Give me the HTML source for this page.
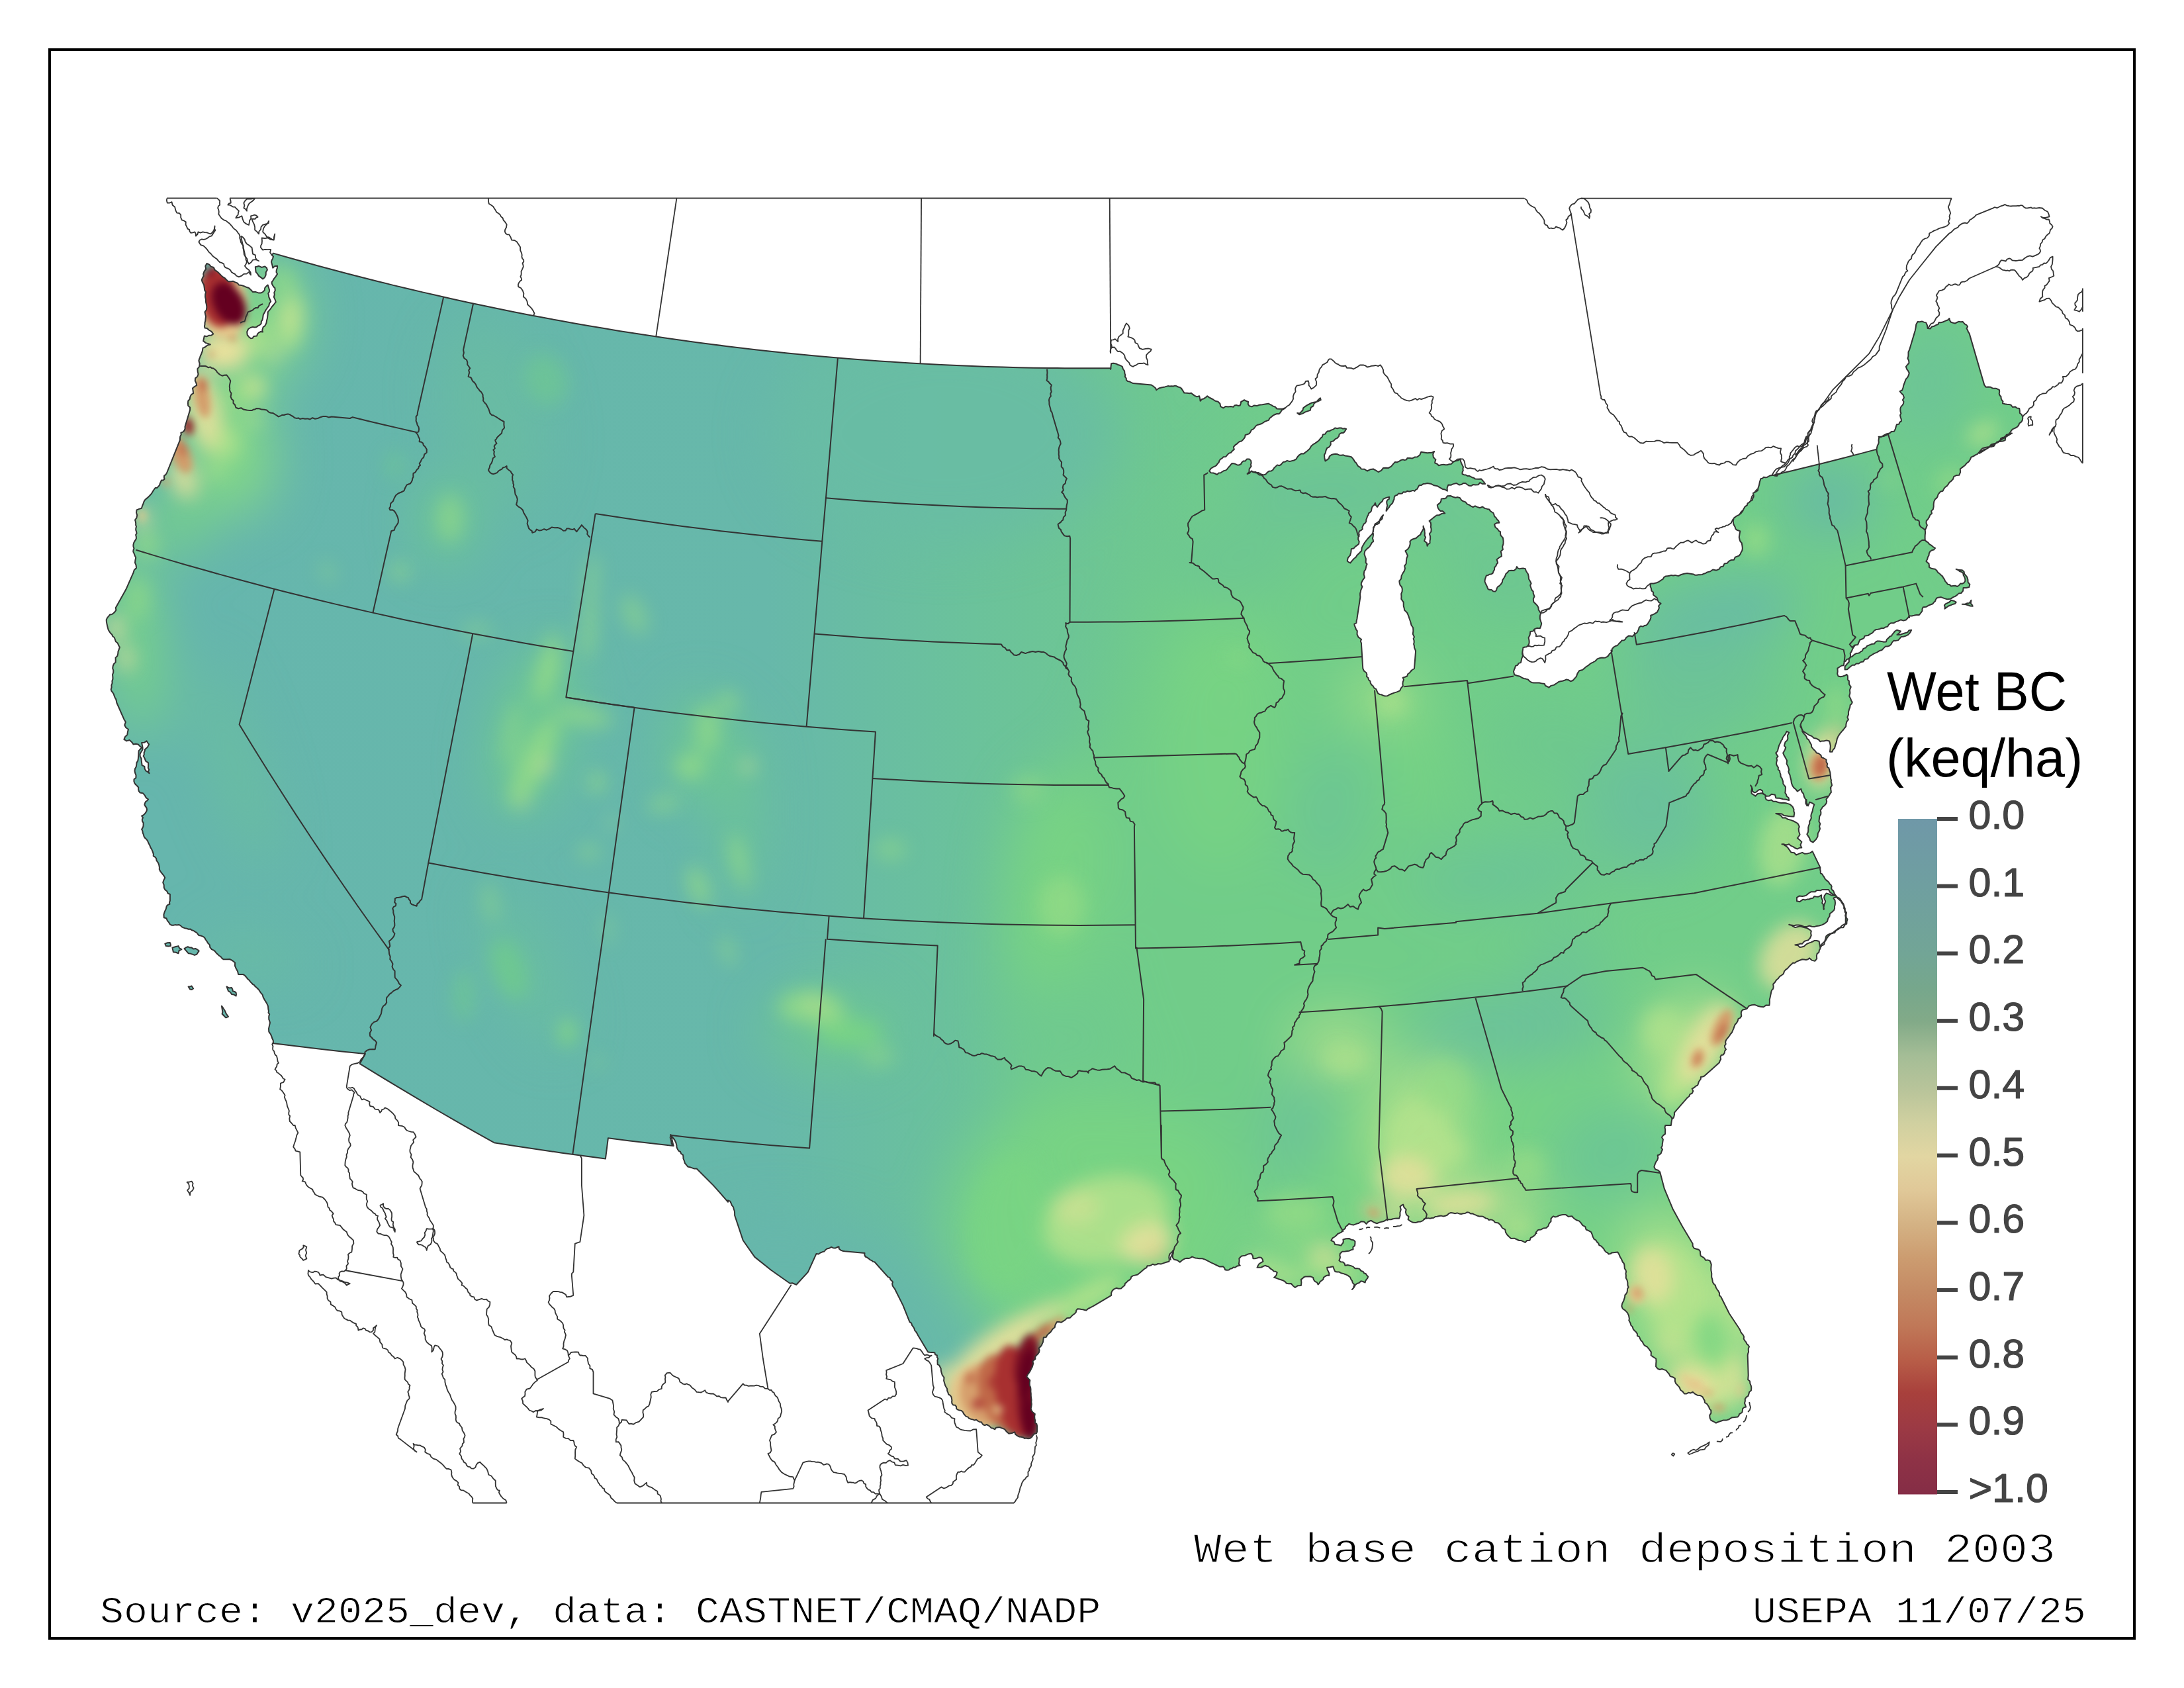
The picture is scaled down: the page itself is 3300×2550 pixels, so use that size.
<!DOCTYPE html>
<html><head><meta charset="utf-8"><title>Wet base cation deposition 2003</title><style>html,body{margin:0;padding:0;background:#fff}svg{display:block}</style></head><body>
<svg width="3300" height="2550" viewBox="0 0 3300 2550">
<defs>
<clipPath id="us"><path d="M312.5,398 L310.3,401.9 L311.2,406.4 L308.6,409.8 L307.2,413.9 L307.7,417.1 L305.9,419.8 L304.8,422.9 L305.7,426 L308.1,430.2 L308.8,435 L309.1,438.3 L311,441.1 L310.2,444.8 L310.1,448.6 L310.9,452.4 L311,456.2 L311.9,460 L312.4,463.9 L311.9,468 L309.5,471.3 L310.2,474.7 L311,478 L310.6,481.4 L310.3,484.9 L309.5,487.5 L309.5,490.1 L308.9,492.8 L309.5,495.5 L313,496 L315.5,498.5 L319.6,500.8 L322.3,504.5 L319.3,506.6 L315.5,506.8 L312.3,508.3 L308.8,507.5 L308,511.3 L307.2,515.1 L311,518.1 L314.5,519.1 L317.8,520.4 L314.1,521.2 L311,523.4 L309,524.9 L306.5,525.7 L305.8,530.3 L304.2,534.7 L303,537.2 L302.1,539.8 L301.1,542.3 L300.4,545 L301.7,549.4 L301.2,553.9 L298.4,557.1 L298.7,561.3 L299.6,565.2 L298.2,569 L295.1,571.4 L294.8,575.3 L296.4,578.6 L297.2,582.1 L293.9,584 L291,586.6 L291.7,590.4 L292.1,594.2 L289,596.1 L287.3,599.4 L286.7,603 L284.2,605.7 L284,609.3 L284.2,612.8 L287.1,615.4 L287.1,619.4 L279.5,644.5 L279.6,647.6 L278.4,650.5 L276.2,652.6 L273.4,653.7 L273.7,656.6 L272.3,659.2 L272,661.9 L272,664.7 L261.9,689.9 L251.8,715 L250.2,717.1 L248.1,718.6 L247.9,721.2 L248.5,723.7 L246.5,725.4 L243.8,725.6 L243,728 L241.8,730.2 L241.1,732.8 L239.3,734.8 L237.5,736.9 L234.6,737 L231.7,741 L229.2,745.3 L225.9,749 L222.3,752.4 L220.4,753.9 L218.6,755.7 L217.4,758 L216.6,760.4 L215.1,764 L213.9,767.8 L210.2,768.9 L206.5,770.4 L206,774.5 L207.2,778.3 L206.4,782.3 L204,785.5 L204.8,788 L205.2,790.5 L205.1,793.1 L206,795.5 L205.3,798 L205.2,800.7 L206.1,803.1 L206.5,805.7 L205.1,808.1 L205.8,810.8 L205.9,813.6 L204.6,815.9 L203.1,818.1 L202,820.5 L201.4,823.2 L201.5,825.8 L202.5,828.4 L201.5,830.9 L201.3,833.5 L202.5,835.9 L203.8,839.3 L205.2,842.7 L204.4,846.3 L204,850 L205.6,853.9 L206,858.1 L202.8,861 L201.5,865.1 L190.4,890.3 L176.3,915.5 L174.7,918.3 L175.4,921.4 L173.8,924 L171.6,926.2 L169.1,928 L166.1,928.5 L164.2,930.8 L162.2,933.1 L160.7,936.1 L160.9,939.4 L161.5,942.5 L162.2,945.7 L162.9,948.6 L163.7,951.4 L165.2,953.9 L166.9,956.4 L169.1,958.4 L170.2,961.2 L172.7,963 L173.8,965.8 L174.9,969.3 L177.8,971.5 L179.1,974.7 L180.9,977.7 L179.8,980.9 L178.5,984.2 L178.2,987.6 L177.3,991 L174.6,993.4 L174.7,997.1 L174.6,1000.6 L172,1003 L170.7,1006.2 L170.2,1009.5 L171.3,1012.8 L171.2,1016.2 L170,1019.2 L170.4,1022.5 L170.5,1025.7 L169.4,1028.8 L169.6,1032 L168.4,1035 L168.6,1038.2 L167.7,1041.4 L168.5,1044 L170.3,1046.2 L171.8,1048.5 L172.6,1051.2 L173.6,1053.7 L175.1,1056.1 L175.8,1058.8 L176.3,1061.5 L187.4,1086.7 L189.9,1090.8 L188.2,1095.3 L190.3,1099.2 L193.9,1101.8 L192.9,1105.9 L192.3,1110.1 L189.1,1112.9 L187.4,1116.9 L191.3,1119.4 L195.8,1118 L199,1120.9 L201.5,1124.4 L205.1,1123.7 L208.8,1124.4 L211.2,1127.1 L214.1,1129.5 L211.9,1131.8 L209.7,1134.1 L209.4,1137.3 L209.3,1140.5 L209,1143.5 L208.8,1146.5 L208.2,1149.5 L206.5,1152.1 L206.2,1155.3 L205.7,1158.5 L204,1161.3 L203.5,1164.6 L204.2,1167.9 L205.5,1171.1 L205.4,1174.9 L202.5,1177.3 L202.4,1180.2 L203.3,1183 L205,1185.3 L207.2,1187.3 L209.2,1189.5 L209.1,1192.5 L209.8,1195.2 L211.5,1197.5 L215.8,1198.2 L218.7,1201.4 L220.7,1205.1 L224.1,1207.5 L222.5,1209.5 L220.2,1210.9 L219,1213.2 L218.4,1215.7 L219.6,1218 L221.3,1220 L222,1222.5 L221.6,1225.1 L220.2,1227.5 L218.5,1229.6 L216.5,1231.5 L214.1,1232.7 L216,1235.1 L214.8,1237.9 L215,1240.6 L216.6,1242.8 L216.6,1245.4 L216.5,1248.1 L215.5,1250.6 L214.1,1252.8 L215.4,1255.4 L215.8,1258.3 L216.9,1260.9 L217.6,1263.7 L219.2,1266.1 L221.4,1268 L223.1,1270.3 L224.1,1273 L225.4,1275.4 L226.6,1277.8 L227.5,1280.4 L229,1282.6 L230.1,1285.2 L231.1,1287.7 L231.9,1290.4 L231.7,1293.1 L234.2,1294.6 L236.1,1296.9 L236.5,1299.9 L238.3,1302.3 L239.6,1304.8 L240.4,1307.6 L240.9,1310.4 L240.8,1313.3 L242.5,1316.7 L244.9,1319.7 L247.3,1322.6 L249.3,1325.9 L247.5,1329.4 L246.2,1333.2 L247.7,1336.9 L247.8,1341 L249.4,1344.1 L252.2,1346.2 L253.6,1349.5 L256.9,1351 L256.9,1355.8 L256.9,1360.6 L256,1363.2 L256.4,1365.9 L253.9,1366.8 L251.8,1368.7 L250.8,1373.1 L248.8,1377.2 L247.4,1381.7 L247.8,1386.3 L251.5,1387.3 L252.9,1390.8 L255.1,1393.4 L256.9,1396.4 L259.3,1397.7 L262,1397.7 L264.6,1397.1 L267.3,1397.4 L270.1,1396.9 L272.7,1398.1 L274.6,1400.1 L277,1401.4 L279.6,1402.2 L282.3,1402.7 L284.9,1403.7 L287.7,1403.6 L289.9,1405.2 L292.6,1406 L294.8,1407.6 L297.2,1408.9 L298.8,1411 L300.5,1413 L303,1413.4 L305.5,1414.3 L307.8,1415.4 L309.6,1417.2 L310.7,1419.5 L312.3,1421.5 L314.2,1424.7 L316.8,1427.4 L317.3,1431.2 L319.8,1434.1 L322.5,1435.3 L324.9,1437.1 L326.6,1439.5 L328.8,1441.5 L330.9,1443.6 L333.4,1445 L335.2,1447.4 L337.5,1449.2 L342.3,1449.3 L347,1449 L351.3,1451.2 L355.1,1454.3 L355,1459 L356.8,1463.3 L359.1,1467.4 L360.1,1471.9 L363.8,1472.1 L367.4,1471.9 L370.4,1474.1 L372.7,1476.9 L374.4,1479 L376.5,1480.7 L378.1,1482.8 L379.9,1484.8 L381.8,1486.8 L384.1,1488.1 L385.7,1490.3 L387.8,1492 L391.1,1495.2 L393.5,1499.1 L396.6,1502.7 L397.9,1507.1 L400.3,1511.3 L402.9,1515.4 L405,1519.9 L405.4,1524.8 L406,1527.3 L405.5,1529.9 L407.2,1532.2 L406.3,1534.9 L406.2,1537.5 L406.3,1540 L407.3,1542.4 L408,1544.9 L407,1549.4 L406,1553.9 L406.3,1558.6 L409,1562.5 L410.3,1565.6 L411.3,1568.7 L412.8,1571.7 L413,1575.1 L411.7,1575.9 L446.7,1580.3 L481.8,1584.4 L516.8,1588.4 L551.9,1592.1 L543.6,1606.9 L572.1,1624.4 L600.7,1641.7 L629.6,1658.9 L658.5,1676 L687.7,1692.9 L717,1709.6 L746.5,1726.2 L780.1,1731.5 L813.7,1736.5 L847.4,1741.4 L881.1,1746.1 L914.9,1750.5 L918.9,1719.2 L951.8,1723.4 L984.7,1727.3 L1017.6,1731.1 L1014.6,1727.5 L1014.1,1722.9 L1012.7,1718.6 L1013.4,1714.1 L1016,1718 L1019,1721.5 L1021.2,1725.7 L1022.4,1730.2 L1022.5,1733.2 L1023.8,1736 L1025.4,1738.6 L1028.1,1740 L1029.2,1742.9 L1031.9,1744.5 L1032.4,1747.4 L1032.5,1750.4 L1033.9,1753.6 L1034.8,1757 L1037,1759.7 L1039.2,1762.5 L1042.5,1763.3 L1045.8,1764.4 L1049.1,1765.5 L1052.7,1765.5 L1077.8,1790.6 L1100,1815.8 L1100,1813.3 L1103.2,1814.7 L1104.7,1817.8 L1105.9,1820.8 L1108,1823.3 L1108.7,1826.5 L1109.8,1829.5 L1110.1,1832.7 L1110.1,1836 L1122.7,1873.7 L1140.3,1898.9 L1165.5,1919 L1190.7,1936.7 L1193.6,1938.7 L1197.1,1938.3 L1200.2,1939.5 L1203.3,1940.7 L1220.9,1921.6 L1233.5,1893.9 L1236.8,1894.5 L1239.6,1892.5 L1242.5,1891.3 L1245.6,1890.5 L1247.5,1888 L1250.2,1886.2 L1253.4,1885.5 L1256.1,1883.8 L1258.9,1885.2 L1261.9,1885.6 L1264.6,1884.3 L1267.5,1883.2 L1267.8,1886.5 L1270.4,1888.6 L1273.3,1889.7 L1276.3,1890.3 L1306.5,1892.9 L1306.3,1895.8 L1307.6,1898.5 L1310.2,1899.7 L1312.6,1901.3 L1314.5,1903.1 L1317,1904.1 L1319,1905.9 L1321.6,1906.5 L1341.8,1929.1 L1344.4,1930.2 L1345.4,1932.9 L1347.3,1934.7 L1349,1936.7 L1348.1,1939.4 L1348.7,1942.2 L1350,1944.6 L1351.8,1946.7 L1364.4,1971.9 L1374.5,1997.1 L1377.1,1998.9 L1378,2001.9 L1379.8,2004.3 L1381.3,2006.8 L1382.2,2009.8 L1384.2,2012.1 L1385.8,2014.6 L1387.1,2017.2 L1402.2,2042.4 L1404.7,2042.8 L1407.3,2043.1 L1409.9,2043 L1412.4,2043.5 L1413.1,2046.4 L1415.9,2047.4 L1415.8,2050.2 L1417.3,2052.5 L1416.4,2055.1 L1416.6,2057.9 L1416.6,2061.1 L1419.3,2062.7 L1420.4,2065.1 L1421.7,2067.4 L1421.8,2070 L1422.3,2072.6 L1423.7,2077.1 L1426.5,2081 L1426.1,2085.7 L1427.4,2090.3 L1428.2,2093 L1429.6,2095.5 L1431.1,2098 L1431.2,2101 L1432.4,2103.6 L1433.1,2106.5 L1435.7,2107.9 L1437.5,2110.4 L1438,2112.9 L1438.4,2115.3 L1438.1,2117.9 L1438.5,2120.4 L1440.4,2122.6 L1443.4,2122.8 L1445.1,2125.1 L1445,2128 L1447.3,2129.6 L1449.9,2130.6 L1452.7,2131 L1454.8,2132.9 L1456,2135.5 L1457.8,2137.7 L1459.8,2139.9 L1462.6,2140.6 L1464.3,2142.9 L1467.1,2143.7 L1469.8,2144.4 L1472.3,2145.4 L1475.2,2144.8 L1477.6,2146.6 L1480,2148 L1482.8,2148.2 L1484.1,2150.3 L1485.7,2152.3 L1488.3,2153.2 L1490.8,2152 L1494.7,2154.1 L1497.9,2157.2 L1500.7,2157.8 L1503.2,2159.3 L1505.1,2156.7 L1508.2,2156.3 L1510.8,2156.2 L1513.2,2157.3 L1515.7,2158.1 L1518,2159.2 L1521,2162.8 L1524.4,2165.8 L1528.9,2165.1 L1533.2,2163.3 L1534.1,2166.6 L1536.9,2168.8 L1539.9,2170.4 L1543.2,2170.8 L1545.9,2171.4 L1548,2172.9 L1550.7,2172.6 L1553.3,2173.3 L1556.6,2172.8 L1559.2,2170.7 L1561,2168 L1563.4,2165.8 L1565.9,2165.8 L1567,2163 L1567.1,2160.1 L1567.1,2157.1 L1567.1,2154.2 L1566.4,2151.1 L1563.8,2149.1 L1564.3,2146.1 L1563.4,2143.1 L1563.2,2139.5 L1563.8,2136 L1560.9,2133.8 L1558.7,2131 L1557.7,2127.8 L1558.4,2124.5 L1558.8,2121.2 L1558.3,2118 L1558.6,2114.8 L1558.1,2111.6 L1557.8,2108.5 L1557.8,2105.3 L1557.4,2102.1 L1557.5,2098.9 L1557.1,2095.7 L1555.8,2092.8 L1555.7,2089 L1556.3,2085.2 L1553.8,2082.5 L1551.3,2079.6 L1552.9,2076.5 L1555,2073.7 L1556.8,2070.7 L1558.3,2067.6 L1559.7,2065.1 L1560.5,2062.4 L1561.3,2059.6 L1560.3,2056.8 L1562.2,2054.7 L1564.4,2052.9 L1564.2,2049.9 L1565.9,2047.5 L1568.2,2045.4 L1570,2042.9 L1570.6,2039.8 L1569.7,2036.8 L1571.7,2034.7 L1573.7,2032.6 L1574.8,2029.9 L1576,2027.3 L1576.4,2023.9 L1576.8,2020.4 L1580.7,2020 L1582.6,2016.6 L1584.9,2014.4 L1587.4,2012.4 L1589.2,2009.7 L1591.1,2007.2 L1593.7,2005.3 L1594.3,2002.2 L1595.5,1999.5 L1597,1996.9 L1600.2,1996.9 L1603.3,1997.8 L1606,1996.2 L1608.7,1994.6 L1612.2,1991.2 L1617,1990.7 L1620.1,1987.3 L1623.8,1984.5 L1625.8,1982.4 L1626.2,1979.6 L1628.3,1977.2 L1631.4,1977.6 L1633.9,1978.1 L1636.5,1978.2 L1638.9,1979.1 L1641.4,1979.5 L1644.2,1977 L1647.5,1975.3 L1650.8,1973.7 L1654,1971.9 L1679.2,1956.8 L1679.1,1953.1 L1680.7,1949.8 L1683.4,1947.3 L1686.7,1945.8 L1690.2,1946.8 L1693.9,1946.6 L1696.6,1944.1 L1699.4,1941.7 L1700,1938.9 L1702.3,1937.2 L1704.1,1935.1 L1706.5,1933.7 L1708.5,1931.7 L1709.3,1928.9 L1711.7,1927.4 L1714.5,1926.6 L1719,1925.5 L1722.7,1922.5 L1726.1,1919.5 L1729.6,1916.5 L1732.4,1915.2 L1733.5,1912.3 L1736.4,1912.2 L1739.2,1911.5 L1741.7,1909.7 L1744.6,1910.8 L1747.3,1910.3 L1749.7,1909 L1754.1,1909.6 L1758.3,1908.1 L1762.3,1906.7 L1766.5,1905.7 L1766.8,1902.7 L1766.3,1899.6 L1766.7,1896.5 L1768,1893.7 L1770.6,1891.8 L1772.5,1889.1 L1772.9,1892.7 L1771.9,1896.1 L1771.9,1899.8 L1774,1902.7 L1778.8,1903.8 L1782.8,1906.7 L1786.5,1903.6 L1790.7,1901.2 L1793.5,1900.7 L1796.3,1901.1 L1798.9,1900.1 L1801.2,1898.4 L1803.8,1899.6 L1806.3,1900.5 L1809.1,1900.8 L1811.8,1901.2 L1816.7,1901.2 L1821.3,1902.9 L1825.6,1905.1 L1829.9,1907.3 L1834.3,1909.3 L1838.6,1911.5 L1843.1,1913.6 L1848.1,1913.3 L1850.1,1915.4 L1851.1,1918.2 L1853.9,1918.8 L1856.8,1918.4 L1858.8,1916.7 L1861.4,1916.3 L1863.5,1914.6 L1866.2,1914.8 L1869.6,1912.4 L1873.8,1911.8 L1871.8,1909.5 L1872.4,1906.6 L1872.6,1903.9 L1872.3,1901.2 L1874.1,1899.3 L1876,1897.4 L1878.7,1897.1 L1881.3,1896.7 L1885.7,1894.6 L1890.4,1893.7 L1892.9,1897.1 L1893.4,1901.2 L1896.5,1901.2 L1899.5,1900.5 L1902.4,1899.5 L1905.5,1899.7 L1907.7,1902.4 L1908.5,1905.7 L1905.6,1907.3 L1902.7,1909 L1900.9,1911.8 L1899.5,1914.8 L1902.6,1914.8 L1905.8,1914.5 L1908.6,1913 L1911.5,1911.8 L1914.1,1912.7 L1916.7,1913.4 L1918.5,1915.4 L1920.6,1917.1 L1922.9,1918.6 L1924.7,1920.5 L1927.4,1920.8 L1929.7,1922.4 L1928.4,1926.8 L1925.1,1929.9 L1928.6,1930.8 L1931.9,1932.2 L1935.4,1933.2 L1938.7,1934.4 L1941.7,1936.2 L1944,1938.7 L1947.4,1939.2 L1950.8,1939 L1953.6,1942.2 L1956.9,1945 L1961,1942.2 L1965.9,1942 L1966.4,1937.5 L1965.9,1932.9 L1968.1,1931.4 L1969.9,1929.5 L1972.4,1928.5 L1975,1928.4 L1979.7,1928.3 L1984.1,1929.9 L1984.9,1933.2 L1986.9,1935.8 L1990,1937.4 L1991.6,1940.5 L1993.5,1938.5 L1994.8,1936.1 L1997,1934.5 L1999.2,1932.9 L1999.9,1929.9 L2002.4,1928 L2005.2,1926.6 L2008.2,1926.9 L2008.4,1923.7 L2007.1,1920.8 L2005.6,1918 L2005.2,1914.8 L2009.8,1914.3 L2014.3,1913.3 L2015.6,1917.2 L2017.3,1920.9 L2020.4,1921.6 L2023.5,1921.6 L2026.3,1923.2 L2029.4,1923.9 L2033.1,1925.2 L2036.6,1926.9 L2039.9,1929.2 L2041.5,1932.9 L2043.2,1935.2 L2043.8,1937.9 L2045.8,1939.9 L2047.5,1942 L2045.6,1945.3 L2043,1948 L2045.1,1945.7 L2045.6,1942.5 L2048.1,1940.8 L2050.5,1939 L2053.9,1937.9 L2056.2,1935.3 L2059.5,1936 L2062.6,1937.5 L2063.3,1935 L2064.7,1932.8 L2066.4,1930.9 L2067.2,1928.4 L2065.2,1926.6 L2063.8,1924.2 L2061.1,1923.3 L2059.6,1920.9 L2056.3,1919.7 L2054.2,1916.9 L2050.9,1916.1 L2047.5,1916.3 L2044.5,1913.4 L2040.6,1911.9 L2036.5,1911 L2032.4,1911.8 L2031.6,1908.7 L2029.1,1906.6 L2025.8,1906.3 L2023.4,1904.2 L2024.4,1901.7 L2025,1899.1 L2024.4,1896.4 L2024.9,1893.7 L2028.1,1890.8 L2032.4,1890.6 L2035.5,1890.1 L2038.6,1889.7 L2041.4,1888.3 L2044.5,1887.6 L2044.4,1884.1 L2047,1881.8 L2047.4,1878.7 L2047.5,1875.5 L2045.7,1873.6 L2043.1,1873.1 L2040.7,1872.2 L2038.5,1871 L2033.8,1871.2 L2029.4,1872.5 L2029.8,1875 L2029.4,1877.5 L2027.7,1879.4 L2026.4,1881.6 L2021.9,1880.6 L2017.3,1880.1 L2015.5,1875.8 L2011.3,1874 L2013.5,1870.3 L2017.3,1868 L2019.4,1866.1 L2021.2,1864 L2023.7,1862.8 L2026.4,1861.9 L2029,1858.5 L2032.4,1855.9 L2033.4,1853 L2035.8,1851.2 L2038.3,1848.8 L2041.5,1849.9 L2045.6,1850.4 L2049.4,1848.8 L2053.3,1847.7 L2056.6,1845.3 L2061.2,1845.8 L2064.6,1848.9 L2067.5,1845.5 L2071.7,1843.8 L2075.8,1846.5 L2080.5,1848.2 L2085,1846.4 L2089.8,1845.3 L2092.8,1844 L2095.5,1842.1 L2098.7,1842.3 L2101.9,1842.3 L2104.8,1841.2 L2107.9,1840.8 L2110.9,1840.4 L2114,1840.8 L2115.5,1836.4 L2115.4,1831.8 L2116.8,1827.2 L2115.5,1822.7 L2117.6,1820.9 L2120.1,1819.6 L2121.5,1823.9 L2124.6,1827.2 L2123.9,1831.1 L2125,1835 L2128.5,1837.8 L2127.6,1842.3 L2131.2,1844.9 L2135.2,1846.8 L2139.1,1847.1 L2142.8,1845.7 L2146.7,1845.4 L2150.3,1843.8 L2152,1841.2 L2155.1,1840.8 L2158,1840.1 L2160.8,1840.8 L2163.5,1840 L2166.3,1839.8 L2168.6,1838 L2171.4,1837.8 L2174.5,1837 L2177.6,1836.6 L2180.7,1837.4 L2183.8,1836.7 L2186.9,1835.5 L2189.2,1833.1 L2192.3,1832 L2195.6,1832.6 L2198.7,1833.3 L2201.8,1832.4 L2204.7,1833.4 L2207.8,1834 L2210.7,1833.2 L2213.8,1833 L2216.6,1831.3 L2219.8,1831.7 L2222.1,1833.5 L2225.1,1833.3 L2227.5,1834.6 L2230.1,1835.7 L2232.6,1836.8 L2235.4,1837.5 L2238.2,1837.4 L2240.9,1837.8 L2243.1,1839.1 L2245.2,1840.6 L2247.8,1841.1 L2249.7,1842.9 L2252.4,1842.4 L2255.1,1843.1 L2257.4,1844.6 L2259.1,1846.8 L2263.9,1847.6 L2267.5,1850.9 L2269.9,1855.1 L2274.2,1857.4 L2275,1861.6 L2277.2,1865.2 L2280.1,1868.3 L2283.2,1871 L2288,1870.7 L2292.3,1872.5 L2295.3,1874 L2298.6,1874.1 L2301.6,1875.4 L2304.4,1877 L2307.3,1874 L2311.4,1873.8 L2312.8,1869.9 L2316.5,1868 L2319.7,1865.2 L2321.2,1861.1 L2324.2,1858 L2328.6,1857.4 L2332.2,1855.4 L2336.3,1855.1 L2339.4,1852.3 L2340.7,1848.3 L2343.5,1845.2 L2343.5,1841 L2345.2,1838.9 L2347.2,1837.3 L2349.7,1838.5 L2352.4,1838 L2356.6,1835.9 L2361.2,1835 L2366,1835.1 L2370,1838 L2372.5,1837.4 L2375.2,1837.3 L2377,1839.2 L2378.8,1841 L2382.3,1843.3 L2386.2,1844.6 L2389,1847.7 L2391.4,1851.1 L2395.3,1853.2 L2396.6,1857.5 L2400.3,1859.2 L2404,1861.1 L2405.6,1864.5 L2406.7,1868.1 L2408.4,1871.6 L2411.5,1873.7 L2413,1876.3 L2415.2,1878.2 L2416.3,1881.2 L2419.2,1882.4 L2421.3,1884.5 L2423.3,1886.6 L2424.6,1889.2 L2426.6,1891.4 L2429,1892.5 L2430.7,1894.5 L2433.4,1894.1 L2435.5,1892.4 L2439.9,1891.9 L2444.3,1891.4 L2446.4,1895 L2448,1898.9 L2450.2,1902.6 L2451.8,1906.5 L2453.7,1908.5 L2454.4,1911.1 L2454.6,1913.8 L2454.8,1916.4 L2456.5,1918.6 L2457.1,1921.3 L2456.4,1923.9 L2456.9,1926.6 L2456.7,1930.6 L2458.6,1934.1 L2459.4,1937.9 L2459.4,1941.7 L2460.6,1944.4 L2459,1947 L2458.9,1949.6 L2458.5,1952.2 L2457.1,1954.5 L2455.3,1956.5 L2455.1,1959.2 L2454.3,1961.8 L2453.1,1965.6 L2451.2,1969.1 L2450.3,1973.1 L2451.8,1977 L2455.7,1979.6 L2459,1983.1 L2461,1987.4 L2461.9,1992.1 L2461.3,1994.8 L2462.7,1997.2 L2463.8,1999.6 L2464.4,2002.1 L2466.8,2004.4 L2467.6,2007.6 L2469.6,2010.1 L2472,2012.2 L2473.9,2014.8 L2473.9,2018 L2476.9,2019.3 L2478.1,2022.4 L2479.5,2025.1 L2481.7,2027.1 L2483,2029.8 L2484.6,2032.3 L2488.8,2034.7 L2491.9,2038.4 L2493.3,2040.4 L2494.8,2042.4 L2494.8,2045 L2494.6,2047.5 L2498.3,2050.1 L2502.2,2052.5 L2502.5,2056.4 L2502.2,2060.3 L2502.1,2064.4 L2504.7,2067.6 L2507.9,2069 L2511.2,2068 L2514.2,2069.1 L2517.3,2070.1 L2519.5,2072.9 L2521.9,2075.5 L2523.6,2079.1 L2527.4,2080.2 L2530.9,2082.4 L2530.9,2086.6 L2532.3,2090.1 L2534.9,2092.8 L2537.7,2095.9 L2539.1,2099.7 L2542.5,2102.1 L2545,2105.4 L2548.3,2105.4 L2551.2,2103.8 L2554.6,2104.4 L2557.6,2102.8 L2560.9,2105.6 L2564.6,2107.7 L2569,2108 L2572.7,2110.4 L2574,2113.1 L2575.6,2115.6 L2576,2118.9 L2578.9,2120.6 L2580.6,2123 L2582.2,2125.5 L2583.1,2128.4 L2585.3,2130.5 L2585.4,2134.6 L2583.2,2138.1 L2583.6,2142 L2585.3,2145.6 L2589.2,2147.5 L2592.9,2149.7 L2596.4,2148 L2600.2,2146.7 L2604,2145.5 L2608,2145.6 L2612.5,2144.3 L2616.4,2141.6 L2621,2140.9 L2625.6,2140.6 L2627.3,2138.7 L2628.1,2136.2 L2630.4,2135 L2632.4,2133.5 L2632.9,2130.7 L2633.2,2127.9 L2635.4,2126.1 L2638.2,2125.5 L2637.1,2122.5 L2636,2119.6 L2636.9,2116.5 L2636.8,2113.3 L2638.7,2110.7 L2641.4,2108.9 L2642.4,2105.9 L2643.2,2102.8 L2646,2100.4 L2646.3,2096.7 L2645.8,2093.3 L2644.4,2090.1 L2644,2086.6 L2641.2,2084.3 L2641.4,2081 L2641.7,2077.7 L2640.7,2047.5 L2641.1,2044.8 L2642.1,2042.4 L2641.8,2039.7 L2641.8,2037.1 L2643,2034.3 L2641.3,2031.7 L2639.2,2029.9 L2638.2,2027.3 L2636.2,2025.1 L2634.7,2022.6 L2635.2,2019.6 L2633.9,2016.9 L2632.1,2014.7 L2630.4,2012.4 L2629.4,2009.7 L2628.1,2007.2 L2613,1984.5 L2600.4,1959.3 L2597.9,1956.8 L2598,1953.3 L2596.4,1950.4 L2594.5,1947.8 L2592.8,1945 L2591.9,1941.8 L2589.5,1939.5 L2587.8,1936.7 L2587.5,1934.1 L2587,1931.7 L2586.2,1929.2 L2586.2,1926.6 L2586.3,1924.1 L2585.9,1921.6 L2585.4,1919.1 L2585.3,1916.5 L2585.5,1913.4 L2585.8,1910.3 L2584.8,1907.4 L2583.5,1904.5 L2580.3,1903.4 L2577.1,1903.7 L2575.4,1900.8 L2572.7,1898.9 L2569.7,1897.1 L2569.1,1893.6 L2568.9,1890.3 L2566.7,1887.7 L2563.2,1886.8 L2559.8,1885.7 L2557.7,1882.5 L2557.6,1878.8 L2542.5,1853.6 L2527.4,1825.9 L2514.8,1795.7 L2508.2,1770.5 L2505.2,1767.8 L2501.3,1766.6 L2499.4,1762.8 L2500.7,1758.7 L2502.1,1755.4 L2504.2,1752.5 L2505.3,1748.9 L2504.7,1745.3 L2507.6,1744.3 L2509.8,1742.1 L2510.7,1739.3 L2512,1736.6 L2510.2,1733.8 L2511.7,1730.9 L2511.8,1728 L2512.3,1725.2 L2512.9,1721.3 L2510.9,1718 L2513.2,1715.1 L2516.1,1712.9 L2516.1,1709.7 L2516.2,1706.4 L2515.5,1703.2 L2516.3,1700 L2520.6,1700.1 L2524.9,1700 L2525.5,1695.1 L2526.4,1690.2 L2528.7,1688.7 L2529.5,1686 L2530,1683.5 L2529.9,1680.9 L2547.5,1660.7 L2549.6,1658.2 L2552.2,1656.3 L2553.4,1653.1 L2556.6,1651.8 L2558.3,1648.2 L2556.7,1644.6 L2559.9,1643 L2562.6,1640.6 L2565.1,1639.5 L2566.1,1636.9 L2566.7,1634.5 L2568.1,1632.3 L2569.8,1630 L2569.9,1627.1 L2572.7,1626.6 L2575.2,1625.5 L2597.9,1605.3 L2598.8,1602.5 L2600.2,1600 L2599.5,1597 L2600.7,1594.1 L2603.8,1593.4 L2605.7,1590.7 L2606.2,1587.7 L2608,1585.2 L2606.4,1582.7 L2605.9,1579.9 L2607.7,1577.3 L2607.1,1574.3 L2607.9,1571.6 L2609.5,1569.3 L2611.3,1567.2 L2613,1565 L2614.7,1562.2 L2616.9,1559.8 L2618.1,1556.8 L2619.4,1553.8 L2620.5,1550.7 L2621.7,1547.7 L2624,1545.3 L2625.6,1542.4 L2626.5,1539.2 L2629.5,1537.6 L2631.3,1534.9 L2630.8,1531.7 L2631,1528.1 L2633.3,1525.5 L2636.6,1524.8 L2639.7,1523.8 L2642.4,1519.8 L2646.9,1518.3 L2651.5,1517.8 L2655.8,1519.7 L2660.2,1520.7 L2664.7,1521.2 L2668.6,1518.4 L2673.4,1518.7 L2673.8,1515.9 L2673.9,1513 L2673.8,1510.1 L2674.5,1507.3 L2675.1,1504.4 L2675.7,1501.6 L2676.2,1498.8 L2677,1496 L2679.1,1493.9 L2679.7,1490.9 L2679.2,1486.8 L2682,1483.8 L2684,1480.6 L2686.9,1478.2 L2688.9,1475.2 L2692,1473.3 L2694.9,1470.9 L2696,1467.4 L2698.1,1464.9 L2700.8,1463.1 L2702.9,1460.6 L2705.1,1458.3 L2707.1,1456.5 L2709,1454.6 L2711.9,1454.7 L2714.1,1452.9 L2718.6,1451 L2723.2,1449.2 L2726,1449.6 L2728.9,1450 L2731.7,1449.2 L2734.1,1447.4 L2737.6,1450.6 L2742.2,1451.9 L2745.2,1448.4 L2744.9,1443.8 L2745.7,1440.6 L2748.3,1438.7 L2748.9,1435.6 L2750.4,1432.9 L2750.4,1429.4 L2752.6,1426.5 L2754.9,1424.1 L2757.6,1422 L2759.3,1419.4 L2760.8,1416.7 L2762.7,1414.3 L2764.9,1412.1 L2768,1409.5 L2772.1,1409.3 L2774,1405.7 L2777.6,1403.9 L2780.4,1401.3 L2783,1398.3 L2786.4,1396.3 L2790.3,1395.8 L2790.5,1392.2 L2791.5,1388.8 L2789.5,1385.8 L2789.4,1382.2 L2790,1378.6 L2787.7,1375.9 L2787.8,1372.6 L2786.6,1369.5 L2785.6,1365.9 L2783.4,1362.9 L2781.4,1359.8 L2779.4,1356.8 L2775.9,1355.3 L2773.4,1352.5 L2771.6,1349.4 L2770.3,1345.9 L2768.2,1344.2 L2767.1,1341.8 L2767.7,1339.2 L2766.5,1336.7 L2764.4,1335.1 L2763.3,1332.8 L2761.4,1331.1 L2759.5,1329.6 L2757.6,1327.6 L2756.4,1325.2 L2754.8,1323.1 L2753.5,1320.7 L2750.8,1319.1 L2750.8,1316 L2750.2,1313.3 L2750.4,1310.6 L2738.6,1286.1 L2735.2,1288.4 L2731.2,1289.4 L2727,1289.8 L2723.2,1287.9 L2718.6,1289.6 L2714.1,1291.5 L2711,1288.2 L2706.4,1287.7 L2703.9,1284.2 L2701.4,1280.6 L2699.5,1278.7 L2697.2,1277.4 L2695.1,1275.7 L2692.4,1275.2 L2695.2,1275.2 L2697.8,1276.3 L2700.6,1276.2 L2703.2,1275.2 L2706,1277.7 L2709.4,1279.1 L2712.5,1281.2 L2715.9,1282.5 L2718.9,1280.8 L2722.3,1280.6 L2720.4,1276.3 L2722.4,1271.9 L2719.3,1268.9 L2715.9,1266.1 L2717.9,1263.5 L2719.6,1260.7 L2718.1,1256.3 L2717.7,1251.6 L2718.8,1249 L2717.7,1246.4 L2716.4,1244 L2714.1,1242.6 L2710.2,1240.5 L2706,1238.9 L2701.6,1237.8 L2697.8,1235.3 L2693.4,1235.4 L2690.6,1231.9 L2687.1,1230.1 L2683.3,1229 L2687.5,1229.1 L2691.8,1229.4 L2695.3,1231.9 L2699.6,1232.6 L2702.3,1233 L2705,1233.3 L2707.8,1233.5 L2710.5,1233.5 L2710.9,1230.8 L2711.3,1228.1 L2710.3,1225.4 L2710.5,1222.6 L2708.5,1218.5 L2705.1,1215.4 L2702.4,1214.4 L2699.7,1213.6 L2697,1213.1 L2694.2,1212.7 L2691.4,1212.9 L2688.6,1212.5 L2685.9,1211.7 L2683.3,1210.8 L2679.4,1210.8 L2676.3,1208.4 L2672.5,1209.2 L2668.8,1208.1 L2667.5,1204.8 L2667.7,1201.3 L2664.6,1199.6 L2661.5,1198.2 L2658.9,1198.6 L2656.3,1198.9 L2654.1,1200.6 L2652.5,1202.7 L2649.7,1200.6 L2646.7,1198.8 L2646.3,1195.3 L2647,1191.8 L2646.8,1188.9 L2645.2,1186.4 L2646.8,1189 L2647.9,1191.8 L2648,1195.2 L2650.7,1197.3 L2653.2,1196.7 L2655.2,1195.1 L2657.2,1193.4 L2659.7,1192.7 L2663,1194.7 L2663.5,1198.4 L2666.4,1200.3 L2668.8,1202.7 L2673.3,1202.5 L2676.9,1199.7 L2679.3,1200.2 L2681.8,1200.6 L2682.7,1203 L2683.3,1205.4 L2686.1,1205.7 L2688.8,1205.8 L2691.5,1206.5 L2694.2,1207.2 L2698.8,1207.8 L2703.2,1209 L2702.6,1205.2 L2699.6,1202.8 L2698.9,1200 L2697.3,1197.6 L2697.7,1194.8 L2697.8,1191.9 L2698,1188.8 L2696.1,1186.5 L2694.3,1184 L2694.2,1181 L2693.4,1178.3 L2692.4,1175.6 L2690.6,1173.2 L2690.5,1170.2 L2689.5,1167.5 L2689.1,1164.6 L2686.7,1162.5 L2686.9,1159.3 L2685.2,1156.9 L2684,1154.2 L2684.3,1151.3 L2685.1,1148.4 L2684.4,1145.2 L2686.5,1142.6 L2684.7,1140.2 L2683.3,1137.5 L2686,1134.4 L2686.9,1130.3 L2688.3,1125.6 L2690.5,1121.2 L2691.4,1118.8 L2693,1116.8 L2693.7,1114.3 L2695.1,1112.2 L2697.8,1108.8 L2699.6,1104.9 L2703.2,1106.7 L2700.9,1111 L2701.4,1115.8 L2700.2,1118.7 L2697.7,1120.7 L2696.7,1123.6 L2696,1126.7 L2698.2,1129.2 L2697.1,1132.4 L2695.7,1135 L2694.2,1137.5 L2695.8,1141.3 L2697.8,1144.8 L2700.1,1149 L2699.6,1153.9 L2701.9,1158.2 L2703.2,1162.9 L2702.3,1165.7 L2703.3,1168.5 L2704.6,1171 L2705.1,1173.8 L2706.3,1178.3 L2706.9,1182.9 L2708.3,1186.7 L2710.5,1190.1 L2713.5,1192.6 L2715.9,1195.5 L2718.6,1193.7 L2721.4,1191.9 L2722.4,1195.9 L2725,1199.2 L2726.1,1204 L2728.6,1208.2 L2728.4,1210.9 L2728.4,1213.6 L2729.7,1216 L2732.3,1217.3 L2729.7,1213.1 L2729.5,1208.1 L2729.6,1212.7 L2730.4,1217.2 L2733.2,1215.1 L2734.1,1211.8 L2737.9,1213.1 L2741.3,1215.4 L2740.3,1218.1 L2739.5,1220.8 L2738.6,1225.5 L2736.8,1229.9 L2736.3,1232.8 L2736.9,1235.7 L2735.8,1238.4 L2734.1,1240.8 L2734.3,1244 L2733,1247.1 L2732.2,1250.2 L2732.3,1253.4 L2732,1257 L2730.3,1260.2 L2732.2,1263.1 L2734.1,1266.1 L2735.5,1270.4 L2739.5,1272.5 L2741.7,1270.2 L2744,1268 L2746.5,1263.7 L2746.8,1258.9 L2748.7,1255.6 L2750,1252 L2749.1,1248.1 L2750.4,1244.4 L2748.4,1240.9 L2748.9,1237 L2749.3,1233.2 L2751.3,1229.9 L2751.4,1226.9 L2750.7,1223.9 L2752.5,1221.6 L2754,1219 L2757.1,1216.7 L2759.5,1213.6 L2760.2,1210.5 L2759.4,1207.5 L2761.2,1205.1 L2763.1,1202.7 L2764.8,1199.7 L2766.9,1196.9 L2766.5,1193.4 L2765.8,1190 L2766.3,1191.9 L2766.4,1188.9 L2768.1,1186.5 L2767.5,1183.8 L2766.7,1181 L2767,1178.5 L2766.2,1176.1 L2766.1,1173.6 L2765.8,1171.1 L2765.3,1166.9 L2764,1162.9 L2763.4,1160.2 L2761,1158.9 L2760.6,1156.3 L2761.3,1153.9 L2759.5,1150.9 L2759.5,1147.5 L2755.9,1145.5 L2752.2,1143.9 L2751.6,1141.3 L2749.7,1139.5 L2747.5,1138 L2744.9,1137.5 L2742.5,1134.2 L2739.5,1131.2 L2737.2,1128.4 L2736.8,1124.8 L2735.4,1122.5 L2734.1,1120 L2732.8,1117.4 L2730.4,1115.8 L2729.4,1112.6 L2727.3,1110 L2725.1,1107.6 L2723.2,1104.9 L2723.4,1102.2 L2721.8,1099.9 L2720.4,1097.6 L2720.5,1094.9 L2722.3,1099.5 L2722.8,1102.6 L2725,1104.9 L2727.7,1106.7 L2730.4,1108.5 L2733.9,1110.6 L2737.7,1112.2 L2740.9,1114.9 L2744.9,1115.8 L2748.1,1117.5 L2750.4,1120.3 L2753,1119.4 L2755.8,1119.4 L2759.9,1118.6 L2764,1119.4 L2765.1,1123 L2765.8,1126.7 L2765.5,1131.2 L2764.9,1135.7 L2768.5,1135.7 L2769.7,1132.6 L2772.1,1130.3 L2773.2,1125.7 L2774.9,1121.2 L2775.7,1116.5 L2777.6,1112.2 L2780.1,1108.4 L2783,1104.9 L2785.2,1102.5 L2787.1,1100 L2789.2,1097.4 L2789.4,1094 L2790.4,1090.2 L2792.9,1087.2 L2791.4,1083.4 L2793,1079.5 L2792.9,1075.8 L2793.9,1072.2 L2795.2,1068.7 L2795.7,1065 L2797.8,1063.3 L2798.8,1060.7 L2797.2,1058.5 L2796.4,1055.9 L2794.2,1051.6 L2795.4,1046.9 L2795,1042.1 L2796.8,1037.7 L2794,1033.6 L2793.9,1028.8 L2791.9,1026.7 L2792,1023.8 L2791.8,1021.1 L2790.3,1018.8 L2787.7,1020.5 L2784.8,1021.5 L2781.2,1022.3 L2777.6,1021.5 L2776.2,1018 L2776.7,1014.3 L2776.4,1009.6 L2780.3,1007 L2782.8,1005.5 L2785.7,1005.2 L2786.3,1002.5 L2786.6,999.8 L2789,998.5 L2790.3,996.1 L2793.3,995.2 L2795.7,993.2 L2796.2,990.2 L2795.7,987.1 L2797.7,984 L2799.1,980.6 L2800.9,977.4 L2803,974.4 L2807.1,974 L2808.7,970.2 L2810.2,966.7 L2813.8,965.3 L2816.5,963.8 L2817.4,960.9 L2820.1,960.2 L2822.9,959.9 L2825.3,958.1 L2827.9,956.9 L2830.2,955 L2832,952.6 L2834.5,951.1 L2837.4,950.7 L2840.2,950.2 L2842.9,949 L2846.1,949.1 L2848.8,947.4 L2852.2,946.6 L2853.7,943.6 L2857.1,941.2 L2861.2,941.3 L2864.5,939.4 L2868.2,938.1 L2872,936.3 L2876,937.6 L2879.9,936.5 L2882.7,933.6 L2885,930.5 L2888.8,930.4 L2892.1,929.8 L2895.4,929.1 L2899.9,929 L2902.7,925.4 L2904.5,923 L2904.5,920 L2905.8,917.2 L2910.7,916.7 L2914.9,914.2 L2917.5,913.3 L2920.2,912.3 L2921.9,910.1 L2924,908.2 L2925,905.3 L2927.1,903 L2930,902.5 L2933,902.1 L2937.5,903.9 L2942.1,905.2 L2947,904.8 L2951.2,902.1 L2954.3,900.8 L2957.1,898.9 L2959.7,896.4 L2963.2,896.1 L2966.1,892.5 L2966.6,887.9 L2971,887.9 L2975.3,887 L2976.4,882.8 L2973.6,879.5 L2973.4,875.6 L2972.3,871.9 L2970.3,869.3 L2968.2,866.9 L2967.5,863.5 L2964.8,861.3 L2960.1,861.1 L2955.7,859.8 L2958.5,861 L2960.9,863 L2963.8,864 L2966.3,865.9 L2966.7,869 L2968.3,871.8 L2969.3,874.8 L2969.3,878 L2967.7,880.3 L2965.2,881.7 L2962.1,881.6 L2960.2,884 L2957.4,886 L2954.2,884.8 L2951.1,885.1 L2948.1,885.5 L2945.9,883.3 L2942.9,882.6 L2941.2,880.1 L2939.1,878 L2938.1,875.4 L2936.5,873.2 L2935.2,870.6 L2933,868.9 L2930.8,866.6 L2928.1,864.7 L2926.5,861.9 L2924,859.8 L2919.1,859.1 L2914.9,856.8 L2914.9,854.1 L2914.5,851.4 L2912.3,849.7 L2910.4,847.7 L2912.1,845 L2912.9,841.8 L2914.5,838.9 L2914.9,835.7 L2916.4,833 L2918.9,831.3 L2921.9,830.5 L2924,828.1 L2920.8,826 L2917.9,823.6 L2915.3,822.1 L2913.4,819.7 L2910.9,818.2 L2908.8,816 L2908.6,812.3 L2908.7,808.5 L2909.1,804.7 L2908.8,800.9 L2910.5,797.2 L2911.9,793.4 L2910.5,790.1 L2910.8,786.7 L2913.2,784.3 L2914.9,781.3 L2916.3,778.1 L2919,775.8 L2918.2,771.9 L2920.9,769.2 L2921.7,765.4 L2921.7,761.5 L2922.3,757.6 L2924,754.1 L2926.2,752.4 L2927.7,750.1 L2928.4,747.3 L2930,745 L2932.3,742.4 L2935.7,741.7 L2937.1,738.7 L2939.1,736 L2941.8,734.2 L2943.8,731.6 L2945.5,728.8 L2948.1,726.9 L2951,723.8 L2952.3,719.8 L2956.1,718.1 L2960.2,717.8 L2962.1,713.4 L2961.8,708.5 L2965.5,705.6 L2969.3,702.7 L2971.7,699.7 L2974.8,697.4 L2976.9,694.2 L2978.4,690.6 L2981.7,689.3 L2984.7,687.3 L2988,685.8 L2990.4,683.1 L2992.8,680.2 L2995.3,677.4 L2998.9,676.3 L3002.5,675.5 L3005.9,675.1 L3009.2,674.9 L3012.7,674 L3014.6,671 L3017.4,667.5 L3021.8,667 L3025.9,666.6 L3029.7,665 L3030.3,660.7 L3031.7,656.6 L3035.9,655.6 L3040,654.4 L2990.8,684.8 L2994,681.6 L2997.8,679 L3002.3,677.9 L3005.9,674.8 L3008.8,671.4 L3013.1,670.3 L3017.2,669.2 L3021,667.2 L3022.4,664.9 L3023.2,662.3 L3025.6,661.1 L3028.3,660.6 L3030.2,658.8 L3032.8,658.5 L3034.3,656.4 L3036.1,654.6 L3037.9,652.6 L3039.2,650.2 L3041.2,648.3 L3043.8,647.2 L3046.3,646 L3048.6,644.4 L3050.3,642.2 L3051.2,639.5 L3053.7,637.8 L3055.6,635.4 L3056.2,632.5 L3056.2,629.4 L3054.6,626.2 L3051.9,623.9 L3051.8,620.3 L3051.2,616.9 L3047.7,616.5 L3044.9,614.4 L3041,615 L3038.6,611.8 L3035.5,610.9 L3032.3,610.7 L3029.1,610.3 L3026,609.3 L3026.5,606.5 L3024.7,604.3 L3023.6,601.9 L3023.5,599.2 L3021.6,597.2 L3020.7,594.6 L3021.2,591.9 L3021,589.2 L3018.6,587.9 L3016.2,586.8 L3013.6,586.8 L3010.9,586.6 L3007.9,584.8 L3004.5,584.5 L3000.6,584.7 L2998.3,581.6 L2975.6,503.6 L2974,501.4 L2973.1,498.8 L2971.5,496.2 L2973.1,493.5 L2971.6,491.2 L2969.2,489.9 L2967.3,487.9 L2965.6,485.9 L2962.6,486.2 L2959.6,485.8 L2956.9,487 L2954.3,488.4 L2951.1,487.8 L2948,486.8 L2946.1,484.1 L2945.4,480.9 L2943.6,483.2 L2940.8,484.2 L2938.2,485.3 L2935.6,486.5 L2932.7,487.3 L2929.7,486.9 L2928.5,490 L2925.3,491 L2922.4,492.8 L2919,493.5 L2916.5,496.5 L2912.7,496 L2912,491.5 L2910.2,487.4 L2907,486.6 L2904,485.5 L2900.8,486.2 L2897.6,485.9 L2895.3,490 L2894.7,494.6 L2893.8,499.2 L2892.5,503.6 L2885,528.7 L2883.5,531.7 L2883.5,535 L2883.4,538.2 L2882.5,541.3 L2884.1,544.7 L2884.5,548.3 L2882.1,551 L2879.9,553.9 L2881,557.3 L2883,560.1 L2884.8,563.4 L2883.8,567 L2882.3,570.1 L2879.8,572.6 L2878.6,575.8 L2877.4,579.1 L2876.2,582.4 L2875.5,585.9 L2874.1,589.5 L2870.6,591.1 L2873,594.1 L2875.7,596.7 L2877,600.7 L2874.9,604.3 L2876.4,606.8 L2876,609.8 L2874.5,612.1 L2872.6,614.2 L2871.5,616.6 L2871.4,619.3 L2871.6,621.9 L2872.4,624.4 L2871.1,627.2 L2871.7,630.3 L2872.7,633.1 L2872.9,636.1 L2870.4,637.9 L2869.3,640.7 L2865.9,641.3 L2864.8,644.5 L2863.8,648.3 L2861.9,651.7 L2857.9,652.1 L2854.8,654.6 L2850.6,655.5 L2846.8,657.3 L2843.1,659.9 L2838.6,659.7 L2842.4,659.6 L2846.1,659 L2849.6,657.6 L2852.9,655.9 L2849.4,656.5 L2846,657.7 L2843.1,660.1 L2839.3,660.4 L2838.8,663 L2838.5,665.6 L2838.8,668.2 L2838.2,670.8 L2836.8,673.1 L2836.2,675.7 L2835.6,678.3 L2835.7,681 L2835,678.9 L2809.6,685.6 L2784.1,692.2 L2758.6,698.7 L2733,705 L2707.4,711.2 L2681.8,717.2 L2685.7,716 L2689.8,715.7 L2686.8,716.6 L2684.9,719.1 L2682,718.8 L2679.2,717.8 L2674.4,718.5 L2670.1,720.9 L2667.5,721.2 L2664.9,720.7 L2663.1,722.7 L2660.4,723.3 L2658.9,728 L2658,732.9 L2656.6,736.8 L2656,740.9 L2652.6,743.1 L2649,745 L2649.7,747.7 L2649.7,750.5 L2648.3,753 L2647.6,755.7 L2645.1,756.8 L2643.2,758.8 L2640.6,760.3 L2639.9,763.2 L2636.7,765.3 L2634.7,768.7 L2633.2,772.2 L2630.8,775.2 L2627.4,777.9 L2623.4,779.9 L2619.7,782.7 L2618.7,787.3 L2619.4,792.1 L2621.8,796.4 L2622.4,799 L2624.5,800.7 L2626.9,801.5 L2629.3,802.4 L2628.5,806.9 L2627.8,811.5 L2628.5,814.7 L2629.4,817.8 L2631.7,820.3 L2632.3,823.6 L2632.7,826.3 L2632.8,829 L2632.3,831.8 L2630.8,834.2 L2629.6,837.1 L2627.6,839.5 L2624.7,840.6 L2621.8,841.7 L2620,845.7 L2615.6,846.1 L2612.2,847.9 L2609.7,850.8 L2605.5,851.6 L2603.7,855.5 L2599.8,856.4 L2597.6,859.8 L2593,861.6 L2588.1,860.5 L2584.2,863.3 L2579.5,864.4 L2577.1,866 L2574.3,866.7 L2571.8,868.1 L2568.9,868.3 L2566.4,868.3 L2563.9,868.7 L2561.3,868.8 L2559,867.5 L2554.1,866.7 L2549.2,865.9 L2544.7,866.8 L2540.3,868 L2535.9,870.1 L2531.1,868.9 L2528.2,869.4 L2525.3,868.9 L2522.5,869.8 L2519.6,870.2 L2516.7,870.6 L2514.1,872.2 L2512.6,874.9 L2509.9,876.5 L2506.5,878.8 L2502.6,880.6 L2498.5,881.4 L2494.2,881.6 L2493.5,885.3 L2494.9,888.8 L2495.4,892.4 L2498.2,894.7 L2498,898.5 L2501,900.9 L2503.8,903.2 L2504.7,906.7 L2506.4,909.9 L2509.5,911.7 L2507.6,913.5 L2506,915.5 L2507,918 L2506.1,920.5 L2503.9,924.9 L2499.8,927.4 L2497,928.7 L2494.2,929.8 L2494.5,932.8 L2493.6,935.8 L2492.3,938.1 L2490.9,940.3 L2489.6,942.5 L2487.7,944.4 L2484.8,945 L2482.4,946.6 L2479.2,945.8 L2476.7,947.8 L2476,950.7 L2474.8,953.4 L2473.3,956 L2470.8,957.7 L2468.5,959.4 L2466.7,961.5 L2463.9,960.8 L2461.1,960.4 L2459,961.8 L2457,963.4 L2455.8,965.7 L2453.8,967.3 L2450.4,967.6 L2448.3,970.3 L2446,972.5 L2444,975 L2440.8,976 L2437.9,977.9 L2435.7,980.7 L2435.7,984.2 L2433.9,986.3 L2431.7,987.9 L2430.4,990.4 L2428.3,992.1 L2425.8,993.4 L2423,993.7 L2420.3,993.4 L2417.6,993.9 L2413.5,995.4 L2410.6,998.5 L2406.9,1000.6 L2403.1,1002.4 L2400.2,1005 L2396.9,1007.1 L2394,1009.6 L2391,1012 L2386.2,1013.2 L2383.5,1017.4 L2382,1021.8 L2378.9,1025.3 L2376.5,1028 L2373.2,1029.2 L2370.2,1027.3 L2366.8,1026.5 L2363.9,1027.8 L2360.9,1028.8 L2357.7,1029.2 L2354.7,1030.2 L2351.4,1032.7 L2347.8,1034.9 L2343.6,1035.9 L2340.2,1038.6 L2337.8,1037 L2335.1,1036 L2333.8,1033 L2330.5,1032.6 L2325.8,1031.5 L2320.9,1031.4 L2317.5,1031.4 L2314.1,1030.9 L2311.2,1029 L2308.8,1026.5 L2305.6,1025.6 L2302.4,1025 L2299.4,1023.6 L2296.7,1021.7 L2292.4,1020.7 L2288.2,1019.3 L2287,1014.5 L2287.9,1011.7 L2289.1,1009 L2290,1005.9 L2293.1,1004.8 L2294.7,1001.9 L2297.9,1001.1 L2298.7,998.1 L2299.1,995.1 L2300.1,992.8 L2301,990.4 L2300.2,988 L2300.3,985.5 L2300.9,981.8 L2301.5,978.2 L2304,977.4 L2306.6,977.3 L2308.6,975.6 L2310,973.4 L2310.6,970.9 L2310.6,968.4 L2310.2,965.9 L2309.6,963.5 L2311.7,959 L2312.4,954 L2316.3,953.6 L2318.5,950.4 L2322.6,948.8 L2326.9,949.2 L2328.3,945.7 L2329.2,941.9 L2328,938.3 L2326.9,934.7 L2326.9,930.4 L2328.1,926.2 L2326.4,923.8 L2324.7,921.2 L2324.5,918.2 L2323.3,915.4 L2320.4,912.3 L2317.3,909.3 L2316.8,904.9 L2318.5,900.9 L2317.6,898.5 L2316.7,896.1 L2316.7,893.4 L2314.7,891.5 L2313.7,889.1 L2312.9,886.7 L2312.2,883.9 L2313.6,881.5 L2312,878 L2310,874.7 L2309.7,870.8 L2308.8,867 L2307.2,864.7 L2305.7,862.3 L2304.8,859.2 L2301.5,858.6 L2298.8,858.8 L2296.2,859.4 L2293.5,858.4 L2291.9,856.1 L2290.4,859.8 L2287.3,862.1 L2283.5,861.8 L2279.8,862.2 L2277.8,864.8 L2275.3,867 L2274.1,870.2 L2272.5,873.1 L2270.4,876 L2269.8,879.6 L2267.8,882.6 L2265.3,885.1 L2263,886.6 L2261.6,888.9 L2261.1,891.6 L2259.2,893.6 L2256.2,893.3 L2254,891.1 L2251.1,891 L2248.4,890 L2246.8,885.7 L2244.7,881.5 L2243.5,878.5 L2243.8,875.3 L2244.8,872.4 L2245.9,869.4 L2248.5,868.9 L2250.8,867.7 L2253.4,867.3 L2255.6,865.8 L2256.6,863 L2258.1,860.4 L2258.2,857.2 L2260.4,854.9 L2261.3,852.3 L2263.2,850.4 L2262.5,847.8 L2261.6,845.3 L2265,842.4 L2268.9,840.4 L2268.6,836.7 L2267.7,833 L2270.9,830.1 L2270.1,825.9 L2271.5,821.6 L2271.6,817.1 L2270.9,812.4 L2267.7,809 L2267,806.2 L2267.1,803.3 L2264.5,801.8 L2262.9,799.3 L2259.4,796.4 L2258,792.1 L2261.4,790.1 L2265.3,789.7 L2264.2,786.7 L2261.9,784.6 L2260.4,782 L2258,780 L2257.4,777.4 L2256.3,774.9 L2254,773.5 L2251.8,771.9 L2250.2,769.4 L2247.3,768.9 L2243.3,767.9 L2240.1,765.5 L2236.2,767.2 L2232.1,765.9 L2228.9,764.3 L2225.7,766 L2222.8,764.6 L2220.1,762.9 L2216.7,761.4 L2214.4,758.4 L2211,757.3 L2208,755.3 L2206,752.3 L2202.7,751.1 L2199.2,751.7 L2195.9,750.8 L2191.5,749 L2186.8,749.3 L2185.6,751.8 L2183.1,753.2 L2180.4,753.1 L2177.7,753.8 L2177.4,756.7 L2176.2,759.3 L2173.9,761.1 L2171.7,762.9 L2172.6,766.9 L2174.7,770.4 L2176.9,772.1 L2179.6,771.9 L2181.5,773.6 L2183.2,775.5 L2178.7,775.8 L2174.7,778 L2170.6,778.5 L2167.2,781 L2163.5,784.1 L2159.6,787 L2161.7,789.5 L2162.2,792.8 L2161.9,796 L2162.6,799.1 L2162.4,803.2 L2159.8,806.5 L2161.1,810.2 L2161.1,814.2 L2160.5,817.2 L2160.6,820.2 L2158,822 L2156.6,824.8 L2155.9,820.1 L2152.1,817.2 L2153,814.4 L2154.1,811.6 L2152.6,808.9 L2152.9,805.8 L2152.6,802.9 L2152.4,800.1 L2151.3,797.4 L2150.5,794.6 L2150.8,798.6 L2149,802.1 L2147.3,804.7 L2146.4,807.6 L2143.8,809.2 L2141.5,811.2 L2139.6,813 L2137.1,813.7 L2134.6,814.5 L2132.4,815.7 L2130.4,818 L2130.8,821 L2130.3,823.7 L2129.4,826.3 L2126.9,829.8 L2123.4,832.3 L2125.4,835.9 L2126.9,839.6 L2125.4,843.4 L2124.9,847.5 L2124.7,851.5 L2122.2,854.8 L2123,858.7 L2121.8,862.6 L2119.5,866.1 L2117.6,869.9 L2117.1,874.3 L2114.3,877.7 L2114.7,880.9 L2115.6,884.1 L2117.9,886.5 L2118.8,889.8 L2118.6,893.6 L2117.2,897.2 L2117.5,901 L2117.3,904.9 L2119,907.4 L2120.7,909.9 L2120.7,912.9 L2120.8,915.9 L2121.7,918.8 L2122.1,921.7 L2124.4,923.8 L2126.4,926 L2128.2,930.4 L2129.7,935 L2131.3,939.5 L2132.4,944.1 L2135.1,948.2 L2135.4,953 L2134.8,957.9 L2137,962.3 L2135.6,964.9 L2136.6,967.7 L2136.7,970.4 L2136.1,973 L2136.9,975.6 L2137,978.4 L2138.1,980.9 L2139.1,983.4 L2137,1010 L2133,1012.5 L2130,1016.2 L2127.2,1018.2 L2126.1,1021.5 L2122.9,1022.7 L2119.7,1023.6 L2121,1026.8 L2119.8,1030 L2119.4,1033.2 L2119.9,1036.3 L2117,1039.4 L2115.2,1043.3 L2111.4,1045.1 L2107.3,1046.4 L2103.6,1047.7 L2099.9,1049.2 L2096.3,1051.3 L2092.2,1051.4 L2089.6,1050.5 L2087.2,1049.3 L2084.5,1048.9 L2082.1,1047.4 L2080.6,1044.3 L2079.4,1041.1 L2076.4,1039.4 L2074.6,1036.3 L2072.4,1034.4 L2070.8,1032 L2070.4,1029 L2068,1027 L2067.3,1024 L2065,1022 L2065.4,1019 L2064.5,1016.2 L2061.1,1013.8 L2059.3,1010 L2056.9,971.3 L2055.8,968.6 L2057,965.8 L2054.8,964.2 L2052.5,962.7 L2050.5,958.2 L2050.8,953.2 L2049,950.9 L2048.1,948.1 L2046.9,945.5 L2046.3,942.6 L2049.4,941.2 L2049.7,937.8 L2050.4,935 L2050.8,932 L2055.4,901.8 L2055.1,899.2 L2055.1,896.5 L2055.8,893.9 L2056.3,891.3 L2057.5,888.7 L2058.4,886.1 L2056.8,883.6 L2056.9,880.7 L2059.1,876.3 L2062,872.3 L2060.7,867.5 L2061.4,862.6 L2063.3,860.4 L2063.9,857.6 L2064.5,854.8 L2065.6,852.2 L2063.6,850 L2063.8,846.9 L2063.9,844.1 L2062.9,841.4 L2061.5,837 L2062.4,832.4 L2065.4,829.1 L2069,826.3 L2070.4,824.2 L2071.7,822.1 L2072.9,819.8 L2075,818.2 L2074.8,815.7 L2074,813.2 L2074.6,810.7 L2075,808.2 L2074.8,805.3 L2074.5,802.5 L2075.3,799.7 L2075,796.8 L2076.9,794.6 L2078.7,792.4 L2081.6,791.7 L2084.1,790 L2084.5,786.6 L2085.8,783.4 L2087.7,780.5 L2090.1,778 L2088.9,780.6 L2088.6,783.5 L2086.6,785.5 L2084.1,787 L2081,789.5 L2077.6,791.6 L2076.5,795.4 L2075,799.1 L2075.1,802.7 L2073.8,806.1 L2071.4,808.6 L2069,811.2 L2066.4,814 L2064.1,817 L2061.8,820 L2059.9,823.3 L2057.7,827.4 L2057.3,832 L2054.2,835.3 L2050.8,838.4 L2048.7,841.8 L2045.4,844.3 L2042.8,847.4 L2040.2,850.5 L2037.9,849.2 L2035.7,847.5 L2036.8,842.6 L2040.1,838.8 L2041.3,834.2 L2041.8,829.3 L2045.3,828.6 L2047.7,825.9 L2050.4,823.9 L2053.1,821.8 L2053.7,818.2 L2052.2,814.9 L2052.3,811.4 L2053.8,808.2 L2053.1,805.3 L2054,802.4 L2056.5,801.1 L2058.8,799.3 L2058.4,796.6 L2059.5,794.1 L2060.7,791.6 L2062.9,790 L2064.3,787.8 L2064.3,785.1 L2065.3,782.7 L2066,780.3 L2067.4,778 L2068,775.4 L2070.2,773.9 L2072,771.9 L2072.5,768.5 L2073.6,765.2 L2076.4,763 L2078,759.8 L2078.8,763.2 L2081,765.9 L2083.2,762.8 L2085.6,759.8 L2088.6,757.4 L2090.1,753.8 L2094.5,751.9 L2099.2,750.8 L2098.9,753.9 L2096.2,755.5 L2095.2,758.2 L2095.5,761 L2096.3,763.8 L2095.5,766.5 L2094.9,769.2 L2094.6,771.9 L2096.8,768.8 L2099.2,765.9 L2100.5,763.4 L2102.6,761.6 L2104.4,759.5 L2105.2,756.8 L2106.5,754.2 L2106.7,751.3 L2108.3,748.6 L2111.3,747.7 L2113.1,745.6 L2115.9,745.8 L2118.7,745.5 L2120.3,743.2 L2123.6,743.6 L2126.3,741.7 L2129.3,742.5 L2132.4,741.7 L2135,740.9 L2137.5,741.9 L2139.2,739.8 L2141.5,738.7 L2142.8,735.8 L2144.5,733.1 L2147.8,732.9 L2150.5,731.1 L2153.6,730.8 L2156.6,730 L2159.6,730.5 L2162.6,731.1 L2166.9,733.3 L2171.7,734.2 L2175.5,736.4 L2179.3,738.7 L2183.3,739.5 L2186.8,741.7 L2186.6,737 L2188.3,732.6 L2192.3,732.8 L2195.9,731.1 L2200.7,730 L2204.9,732.6 L2208.2,732 L2210.9,730.1 L2214.3,730 L2217,732 L2219.8,733.8 L2223,734 L2225.8,732.1 L2229.1,732.6 L2233.5,732.3 L2236.4,729 L2240,731.1 L2244.2,731.1 L2241.4,727.2 L2238.2,723.6 L2233.7,723.7 L2229.1,723.6 L2227.1,722 L2224.6,721.3 L2222.4,720.1 L2220.1,719 L2217.2,718.9 L2214.8,717.5 L2212,717.2 L2209.5,716 L2209.6,713.3 L2210.8,710.8 L2210.4,708.1 L2211,705.5 L2209.5,702.6 L2208.1,699.6 L2207,696.6 L2206.5,693.4 L2203,695.6 L2198.9,696.4 L2195.5,698.2 L2192.9,700.9 L2189.8,701.3 L2186.9,702.3 L2183.8,702.3 L2180.8,701.8 L2177.3,702.2 L2173.9,703.2 L2171.4,700.7 L2168.1,699.4 L2168.5,696.9 L2169.4,694.4 L2167.6,692.6 L2165.8,690.7 L2165.2,686.1 L2167.2,681.9 L2164.7,683.2 L2162.1,684.1 L2159.4,684 L2156.6,684.3 L2151.9,683.6 L2147.2,682.8 L2145.3,687.3 L2141.5,690.3 L2137.5,690.6 L2134.1,692.4 L2130.2,692.1 L2126.4,691.9 L2125.2,694.4 L2122.4,695.1 L2119.9,694.3 L2117.3,694.9 L2114.5,696.7 L2111.4,698.2 L2107.7,698.1 L2105.2,700.9 L2102.1,704.7 L2097.7,707 L2093.9,706.7 L2090.1,707 L2087,710.8 L2082.6,713 L2078.9,710.6 L2075,708.5 L2070.2,709.3 L2065.9,711.5 L2061.8,708.8 L2056.9,708.5 L2055.1,705.9 L2052.4,704.5 L2050.7,702.1 L2049.3,699.4 L2047.1,697.4 L2045.6,694.8 L2043.9,692.4 L2041.8,690.3 L2038.7,689.6 L2035.7,688.9 L2032.6,688.5 L2029.7,687.3 L2026.6,687.8 L2023.5,687.4 L2020.7,686.1 L2017.6,685.8 L2014.5,686.2 L2011.5,687.3 L2008.8,689.4 L2007.8,692.6 L2005.2,694.6 L2002.5,696.4 L2001.4,691.9 L2001,687.3 L2002.8,684.1 L2003.5,680.5 L2005.1,677 L2008.5,675.2 L2010.7,671.7 L2010.7,667.4 L2014.7,666.2 L2017.6,663.2 L2020.6,661.8 L2022.9,659.4 L2023.7,656 L2026.6,654.1 L2029.4,654.1 L2031.5,652.4 L2032.9,650.3 L2034.2,648 L2031.6,647.3 L2028.9,647.7 L2026.4,646.4 L2023.6,646.5 L2020.4,647.3 L2017.2,646.4 L2014.7,648.6 L2011.5,649.6 L2009,651.2 L2006.1,651.2 L2003.9,653.1 L2002.5,655.6 L1998.9,656.5 L1997.8,660 L1995.4,662.1 L1993.4,664.7 L1990.6,667.2 L1987.5,669.3 L1984.2,671.3 L1981.3,673.7 L1978.9,677.9 L1975.3,681.3 L1972.5,683.4 L1969.8,685.4 L1966.2,685.3 L1963.2,687.3 L1960.5,690.2 L1958.5,693.6 L1955,695.5 L1951.1,696.4 L1947.9,696.9 L1944.9,695.9 L1942.1,697.4 L1939,697.9 L1937.2,699.9 L1935.4,702 L1932.8,703.3 L1929.9,702.4 L1927.6,704.6 L1925.3,706.8 L1923.6,709.6 L1920.9,711.5 L1917.3,711.7 L1914.6,714 L1912.2,716.6 L1908.8,717.5 L1905,716.2 L1901.6,714 L1897.6,714.3 L1893.7,713 L1890.7,711.5 L1888.3,714.6 L1884.6,716 L1887.5,712.8 L1887.6,708.5 L1889.1,706.4 L1890.6,704.4 L1889.8,701.9 L1890.7,699.4 L1890.1,695.9 L1887.6,693.4 L1883.9,693.5 L1881.6,696.4 L1878.6,696.4 L1876.4,698.4 L1875.1,701 L1872.5,702.4 L1869.6,702.5 L1867.1,701.1 L1864.4,700.3 L1861.6,700 L1859.7,702 L1858,704.3 L1856,706.2 L1854.4,708.5 L1852.2,710.4 L1849.3,711.1 L1846.9,712.5 L1844.6,714.2 L1841.3,714.6 L1839,717 L1836.2,715.5 L1833.2,714.5 L1829.6,714.2 L1827.2,711.5 L1829.6,707.9 L1833.2,705.5 L1835.8,704.4 L1838.1,703 L1839.6,700.6 L1841.6,698.8 L1842.4,696.1 L1844,693.8 L1846.5,692.4 L1848.4,690.3 L1852,690.1 L1854.3,687.4 L1856.7,684.9 L1859.9,683.8 L1862.1,681.1 L1864.8,678.9 L1863.8,675.1 L1866.5,672.2 L1868.8,670.7 L1870.8,668.8 L1873,667 L1875.8,666.4 L1877.9,664.6 L1879.7,662.4 L1881.2,659.9 L1881.6,657.1 L1884.6,656.3 L1887.6,655.1 L1889.4,652.6 L1890.8,649.7 L1893.5,648.4 L1895.6,646.3 L1897.3,643.8 L1899.7,642 L1902.7,641.2 L1905.7,640.3 L1908.4,638.8 L1910.9,637 L1913.8,635.8 L1916.9,634.9 L1918.3,632 L1920.9,629.9 L1923.4,627.8 L1926.3,626.2 L1929.4,625 L1932.8,625.2 L1935,622.7 L1936.5,619.8 L1939.3,618.1 L1942,616.3 L1937.6,617.7 L1933,617.8 L1929.4,617.5 L1926.9,614.8 L1923.8,613.6 L1920.9,611.8 L1916.5,609.7 L1911.8,610.5 L1907.3,611.2 L1902.7,611.8 L1899,613.1 L1895.2,612.4 L1891.6,614.4 L1887.6,613.3 L1885.7,610.4 L1886.1,606.9 L1883,605.8 L1880.1,604.2 L1877.7,605.7 L1875.2,607 L1874.7,609.8 L1873.6,612.5 L1870.8,612.9 L1868.2,611.9 L1865.3,612.5 L1863.5,614.8 L1859.7,614 L1855.8,614.6 L1851.8,614 L1848.4,616.3 L1844.3,614.2 L1843.4,609.8 L1840.4,606.8 L1836.3,605.7 L1833.4,603.7 L1830.2,602 L1827,600.4 L1824.2,598.2 L1821.8,600.4 L1819.1,602.2 L1815.9,603.2 L1813.6,605.7 L1813.1,601.9 L1812.1,598.2 L1808.6,599.4 L1805.3,597.9 L1802.5,595.9 L1800,593.7 L1797.6,594.2 L1793.5,593.7 L1789.4,593.6 L1787.2,590.1 L1785,586.6 L1782.7,585.2 L1780.2,584.5 L1777.9,583.3 L1775.3,582.6 L1772.8,583.5 L1770.1,583.2 L1767.5,583.4 L1764.8,583.1 L1760.3,584.4 L1755.7,585.3 L1751.1,586.5 L1747.2,589.2 L1746.2,586.5 L1744.2,584.7 L1742,583 L1739.7,581.6 L1712,579.1 L1709.4,577.9 L1706.9,576.6 L1704,576.1 L1701.9,574.1 L1701.7,571.3 L1699.8,569.2 L1700.3,566.5 L1699.4,564 L1699.1,560.3 L1696.9,557.5 L1695.8,553.9 L1692.6,552 L1689.2,551 L1686.1,549.4 L1682.7,548.8 L1679.2,548.9 L1678.6,553.4 L1678.2,557.9 L1678.5,556.2 L1655.2,556.3 L1631.9,556.3 L1608.6,556.2 L1585.3,556 L1562,555.7 L1538.7,555.2 L1515.4,554.6 L1492.1,553.9 L1468.8,553 L1445.5,552.1 L1422.3,551 L1399,549.8 L1375.7,548.5 L1352.5,547 L1329.2,545.4 L1306,543.7 L1282.7,541.9 L1259.5,540 L1236.3,537.9 L1213.1,535.7 L1189.9,533.4 L1166.7,531 L1143.5,528.4 L1120.4,525.7 L1097.2,522.9 L1074.1,520 L1051,517 L1027.9,513.8 L1004.9,510.5 L981.8,507.1 L958.8,503.6 L935.7,499.9 L912.7,496.1 L889.8,492.2 L866.8,488.2 L843.9,484.1 L821,479.8 L798.1,475.4 L775.2,470.9 L752.3,466.3 L729.5,461.6 L706.7,456.7 L684,451.7 L661.2,446.6 L638.5,441.4 L615.8,436 L593.2,430.6 L570.5,425 L547.9,419.3 L525.4,413.5 L502.8,407.5 L480.3,401.5 L457.9,395.3 L435.4,389 L413,382.6 L410.7,385.2 L413,387.5 L412,390.6 L410.7,393.1 L410,395.7 L411.3,400.2 L412.3,404.8 L415.1,402.1 L419.1,401.8 L418.9,404.9 L417.8,407.8 L417.5,411 L419.1,413.9 L416.6,417.8 L413.8,421.4 L412.4,423.8 L410.7,426 L410.8,428.6 L412,431 L413.4,433.2 L415.3,435 L415.8,438.6 L414.3,441.8 L414.8,445.3 L413.8,448.6 L415.5,452.3 L416.8,456.2 L413.8,460 L410.7,463.7 L407.9,467.7 L404.7,471.3 L404.7,474.3 L404.3,477.4 L404,480.4 L403.2,483.4 L402.4,488.2 L400.2,492.4 L397.8,493.8 L396.9,496.4 L396.2,499 L397.1,501.5 L394,501 L391.1,502.3 L389,504.6 L388.1,507.5 L385.5,507.7 L383.1,508.3 L381.8,510.8 L379,511.3 L376.1,508.9 L373.7,506 L373.2,501.3 L375.2,497 L378.4,495 L382,493.9 L384.9,494.4 L387.7,493.9 L390,492.1 L392.6,490.9 L394.7,488.7 L394.8,485.6 L396.5,483.2 L397.1,480.3 L397.8,475.5 L400.2,471.3 L401.3,468.8 L403,466.6 L404.4,464.3 L406.2,462.2 L407,458.5 L409.2,455.4 L407.7,452 L406.2,448.6 L406,445.9 L405.2,443.2 L406.8,440.9 L407,438 L405.9,434.2 L404.7,430.5 L402.2,432.5 L400.2,435 L399.8,438.6 L397.1,441.1 L394.1,442.6 L391.1,442.6 L386.7,441.1 L382,441.1 L379.2,437.9 L376,435 L372.2,433.8 L368.6,432.2 L364.8,430.9 L360.9,430.5 L358.8,427.7 L355.5,426.4 L352.3,424.8 L348.8,425.2 L345,425.3 L342.2,422.8 L339.8,420.2 L336.7,418.4 L333.8,415.6 L331,412.8 L328,410.1 L324.6,407.8 L322.8,404 L318.8,402.6 L316.2,399.6 L312.5,398Z M249.3,1425.6 L253,1424.3 L256.9,1424.1 L257.8,1426.5 L257.9,1429.1 L254.3,1429.6 L250.8,1429.1Z M260.4,1431.6 L264.9,1430.2 L269.5,1429.1 L271.1,1432.4 L274.5,1434.1 L270.6,1436 L269.5,1440.2 L265.8,1438.8 L261.9,1438.2Z M278.5,1433.1 L281,1431.4 L283.8,1430.3 L286.6,1431.4 L289.6,1431.6 L292.3,1433.6 L295.7,1433 L298.3,1434.6 L300.7,1436.6 L298.9,1439.1 L297.2,1441.7 L293.9,1442.9 L290.8,1441.6 L287.7,1440.6 L284.6,1440.2Z M342.5,1490.5 L346,1492.4 L350,1492 L351.3,1494.5 L351.7,1497.2 L354.4,1497.9 L356.6,1499.6 L357,1502.1 L356.6,1504.6 L353.6,1502.6 L350,1502.1 L348.1,1499 L345,1497.1Z M334.9,1519.7 L337.6,1523.4 L340,1527.3 L342,1531.8 L345,1535.8 L341.5,1537.4 L339.5,1535.7 L337.7,1533.8 L335.6,1531.7 L336.4,1528.8Z M284.6,1490.5 L287.2,1490.4 L289.6,1489.5 L292.1,1493.5 L289.8,1495 L287.1,1494.5Z M2938.5,919.7 L2938.8,917 L2937.9,914.4 L2939.6,912.3 L2942.1,911.2 L2945.5,909.5 L2948.1,906.7 L2952.1,907.7 L2955.7,909.7 L2954,912.1 L2951.2,912.7 L2947.4,914.3 L2943.6,915.7Z M2964.8,912.7 L2969.4,913 L2973.8,914.2 L2977.2,915.5 L2980.8,915.7 L2979.6,913.5 L2977.8,911.7 L2978.1,909.2 L2978.4,906.7 L2977.1,909.1 L2975.3,911.2 L2972.1,911.3 L2969.3,912.7Z M2787.6,1007 L2790.6,1003.3 L2793.9,999.8 L2793.8,995.9 L2795.7,992.5 L2798.4,991.9 L2800.4,990 L2802.5,988.4 L2804.8,987.1 L2807.3,986.8 L2809.7,986.3 L2811.5,984.4 L2813.8,983.4 L2815.4,979.9 L2819,978.6 L2821.3,975.7 L2824.7,974.4 L2828.2,973 L2832,972.6 L2833.9,970 L2836.6,968.4 L2839.7,968.6 L2842.9,968.9 L2846.4,969.7 L2849.9,969.5 L2850.9,965.9 L2853.7,963.5 L2855.5,961.5 L2858.1,960.6 L2859.3,958.3 L2861,956.3 L2863.3,953.5 L2866.4,951.7 L2869.1,952.7 L2871.9,953.5 L2869.5,956.6 L2866.4,959 L2871.1,958.7 L2875.5,957.2 L2878.8,956.2 L2882.2,955.4 L2884.4,952.2 L2888.2,951.7 L2886.4,955.3 L2883.3,958.8 L2879.1,960.8 L2875.9,961.8 L2872.6,962.1 L2870.4,964.6 L2868.2,967.1 L2864.8,967.9 L2861.3,967.8 L2859,970.4 L2857.4,973.5 L2855,975.6 L2852.1,976.5 L2848.8,976.6 L2846.5,978.9 L2843.5,982 L2839.4,983.3 L2835.9,985.6 L2832,987.1 L2828.4,989.4 L2824.7,991.5 L2822,995.3 L2817.5,996.1 L2815.5,999.6 L2811.6,1000.3 L2808.5,1002.5 L2804.8,1002.5 L2802.3,1004.8 L2798.9,1004.8 L2796.3,1006.7 L2793.9,1008.8 L2791.2,1011.2 L2787.6,1011.5Z M385.8,403.3 L388.5,402.7 L391.1,401.8 L395.5,403.9 L400.2,402.5 L402.9,404.6 L403.9,407.8 L401.8,411.3 L401.7,415.4 L400.1,418.9 L397.1,421.4 L394.2,419.1 L391.1,416.9 L389,413.7 L386.6,410.9Z M1960.2,623.9 L1963.7,624.5 L1966.3,622 L1968.5,619.5 L1969.2,616.3 L1972,614.1 L1975,612.1 L1978.2,610.5 L1981.3,608.8 L1985.3,607.8 L1989.3,607.1 L1991.9,604 L1994.9,601.2 L1995.8,604.2 L1992.4,605.9 L1988.9,607.2 L1985.6,609.5 L1984.3,613.3 L1980.7,615.6 L1979.8,619.9 L1976,621.1 L1972.3,622.4 L1968,624.9 L1963.2,626.3Z"/></clipPath>
<filter id="bw" x="-50%" y="-50%" width="200%" height="200%" color-interpolation-filters="sRGB"><feGaussianBlur stdDeviation="40"/></filter>
<filter id="bm" x="-50%" y="-50%" width="200%" height="200%" color-interpolation-filters="sRGB"><feGaussianBlur stdDeviation="14"/></filter>
<filter id="bf" x="-50%" y="-50%" width="200%" height="200%" color-interpolation-filters="sRGB"><feGaussianBlur stdDeviation="6"/></filter>
<linearGradient id="base" gradientUnits="userSpaceOnUse" x1="300" y1="0" x2="2900" y2="0"><stop offset="0" stop-color="#66b6ad"/><stop offset="0.33" stop-color="#67b8aa"/><stop offset="0.45" stop-color="#6bc29b"/><stop offset="0.54" stop-color="#6ec792"/><stop offset="0.64" stop-color="#70cc8b"/><stop offset="1" stop-color="#71cd8a"/></linearGradient>
</defs>
<rect width="3300" height="2550" fill="#fff"/>
<path d="M252.1,299.4 L327.6,299.4" fill="none" stroke="#333" stroke-width="1.8" stroke-linejoin="round"/>
<path d="M347,299.4 L1100,299.4 L2200,299.6 L2303.3,299.6" fill="none" stroke="#333" stroke-width="1.8" stroke-linejoin="round"/>
<path d="M2388.9,299.6 L2948.9,299.6" fill="none" stroke="#333" stroke-width="1.8" stroke-linejoin="round"/>
<path d="M3146.9,435.6 L3146.9,470.8" fill="none" stroke="#333" stroke-width="1.8" stroke-linejoin="round"/>
<path d="M3146.9,496 L3146.9,564" fill="none" stroke="#333" stroke-width="1.8" stroke-linejoin="round"/>
<path d="M3146.9,579.1 L3146.9,699.9" fill="none" stroke="#333" stroke-width="1.8" stroke-linejoin="round"/>
<path d="M714.2,2270.5 L765.6,2270.5" fill="none" stroke="#333" stroke-width="1.8" stroke-linejoin="round"/>
<path d="M931.8,2270.5 L1100,2270.5 L1532.1,2270.5" fill="none" stroke="#333" stroke-width="1.8" stroke-linejoin="round"/>
<path d="M252.1,299.8 L251.9,303.3 L252.8,306.6 L256.4,306.5 L259.6,305.1 L260.6,309.7 L264.2,312.7 L265.2,317.3 L267.2,321.7 L270.9,322 L273.2,324.7 L273.2,328.7 L274.8,332.3 L278,333.4 L280.8,335.3 L280.6,339.3 L282.3,342.9 L283.5,345.6 L286.1,346.9 L286.6,349.7 L288.4,351.9 L291.4,351.3 L294.4,350.4 L295.9,353.3 L295.9,356.5 L298.6,353.9 L299.4,350.3 L302.9,351.7 L306.5,350.4 L309.6,351.1 L312.7,351.4 L315.6,352.5 L318.6,353.4 L321,350.9 L323,348.1 L324.2,344.8 L324.6,341.4 L323.9,344.8 L325.3,347.9 L323.4,350.7 L321.6,353.4 L319.7,356.4 L316.4,357.4 L313.9,359.4 L311,361 L308,361.8 L304.9,361.3 L301.9,362.7 L300.4,365.5 L301.8,367.9 L303.5,370.1 L307.5,371.3 L310.5,374.2 L313.2,377.2 L315.5,380.6 L318.6,383.3 L321.1,386.5 L324.3,389 L327.6,391.2 L329.8,393.8 L332.1,396.2 L335.3,397.1 L338.2,398.8 L338.7,401.7 L340.4,404.1 L343.2,405.1 L345.8,406.3 L348.2,408.2 L349.7,410.9 L352.1,412.6 L354.8,413.9 L357.4,416.8 L360.9,418.4 L365,416.7 L368.4,413.9 L372.7,413.6 L376,410.9 L377.4,413.2 L379,415.4 L378.5,411.2 L376,407.8 L372.5,405.3 L369.9,401.8 L371.7,398.9 L373,395.7 L371.5,392.1 L371.5,388.2 L368.9,384.8 L368.4,380.6 L368,377.6 L367.2,374.5 L367.7,371.1 L365.4,368.6 L363.9,365.8 L363.4,362.6 L362.2,359.7 L362.4,356.5 L361.4,353.9 L359.6,351.8 L358.1,349.5 L356.3,347.4 L354.1,345.9 L352.1,344.1 L350.6,341.8 L348.8,339.9 L346.6,337.4 L343.9,335.5 L341.3,333.4 L338.2,332.3 L334.6,329.8 L332.2,326.3 L330.3,323.5 L330.8,320.2 L330.3,317.1 L329.1,314.2 L329.9,311.4 L332.2,309.6 L331.9,306.5 L332.2,303.4 L329.9,301.2 L327.6,299.1" fill="none" stroke="#333" stroke-width="1.8" stroke-linejoin="round"/>
<path d="M347.3,299.8 L348.5,303.1 L348.8,306.6 L346,307.4 L344.3,309.6 L347.1,309.7 L349.6,311 L352,312.5 L354.8,312.7 L357.8,315.7 L360.9,318.7 L360,321.5 L359.7,324.5 L357.7,326.7 L356.3,329.3 L361.1,328.4 L365.4,326.3 L366.6,330.9 L368.4,335.3 L371.9,338.2 L376,339.9 L376.7,336.4 L377.2,333 L379.3,329.9 L379,326.3 L381.8,325.5 L384.6,324.6 L387.5,325.6 L389.6,327.8 L387.1,328.7 L385.6,330.8 L383,330.6 L380.5,330.8 L382,334.9 L384,338.8 L385.1,343 L385.1,347.4 L388.4,350.1 L391.1,353.4 L391.4,349.5 L394,346.6 L394.5,342.8 L397.1,339.9 L399.8,338.8 L402.6,338.2 L405.7,337.1 L406.2,333.8 L403.8,338.1 L400.2,341.4 L397.9,345.6 L397.1,350.4 L400.6,353.8 L403.2,358 L406.1,358.3 L408.6,359.9 L411,361.6 L413.8,362.5 L414,357.9 L415.3,353.4 L414.6,358 L413.8,362.5 L409,361.9 L405,359.4 L400.3,360 L395.6,359.5 L396,364 L395.6,368.6 L394.2,370.8 L393.9,373.5 L395.3,375.7 L397.1,377.6 L400.2,376.9 L404.7,377.2 L409.2,376.9 L408.1,381.4 L410.7,385.2" fill="none" stroke="#333" stroke-width="1.8" stroke-linejoin="round"/>
<path d="M373,300.6 L376,300.6 L379,300.6 L382,300.1 L385.1,299.8 L383.2,302.3 L380.8,304.3 L378.2,305.9 L376,308.1 L374.7,310.6 L373.7,313.2 L372.8,315.9 L373,318.7 L371.1,316 L368.4,314.2 L369.4,310.4 L368.3,306.6 L370.3,303.3 L373,300.6" fill="none" stroke="#333" stroke-width="1.8" stroke-linejoin="round"/>
<path d="M363.9,356.5 L367.2,358.6 L369.6,361.6 L370.7,365.4 L373,368.6 L377.1,371.1 L380.7,374.2 L381.3,378.9 L382,383.7 L385.8,385.3 L386,389.4 L387.9,392.5 L391.1,394.2 L386.8,392.2 L382,392.7 L379.5,396.2 L376,398.8 L374.2,395.1 L373.4,391.1 L370.6,387.9 L369.9,383.7 L363.9,356.5" fill="none" stroke="#333" stroke-width="1.8" stroke-linejoin="round"/>
<path d="M737.9,299.6 L738,303.7 L738.7,307.7 L742.1,309.8 L745.4,312.2 L747,315 L748.7,317.6 L750.3,320.5 L753,322.3 L755.5,324.2 L757,327.2 L759.6,329.2 L760.5,332.3 L763.3,335.6 L765.7,339.2 L765,343.5 L763,347.5 L762.9,350.2 L764.1,352.7 L766.4,354.3 L769.2,354.3 L771.6,358.2 L773.1,362.6 L777.2,363 L780.7,365.1 L783.4,369.1 L786.1,373.2 L786.2,378.2 L788.2,382.7 L788.7,385.4 L788.4,388 L789.3,390.6 L791.2,392.6 L791.3,395.4 L789.5,397.6 L790.4,400.2 L790.8,402.8 L789.8,405.2 L788.7,407.6 L787.5,410 L787.7,412.7 L787.5,415.4 L786.4,417.9 L787.7,420.3 L788.2,423 L785.8,424.7 L784,427.2 L782.9,430 L783.2,433.1 L787.2,435.3 L789.9,439.2 L791.4,443.6 L790.8,448.2 L794.4,451.1 L796.5,455.3 L797.2,460 L800.8,463.3 L803.5,466.2 L805.6,469.5 L807.5,473.4 L805.9,477.4" fill="none" stroke="#333" stroke-width="1.8" stroke-linejoin="round"/>
<path d="M1022.4,299.6 L991.2,508.6" fill="none" stroke="#333" stroke-width="1.8" stroke-linejoin="round"/>
<path d="M1392.1,299.6 L1390.6,549.9" fill="none" stroke="#333" stroke-width="1.8" stroke-linejoin="round"/>
<path d="M1676.7,299.6 L1678.2,533.8" fill="none" stroke="#333" stroke-width="1.8" stroke-linejoin="round"/>
<path d="M1678.2,533.8 L1677.6,531.2 L1677.8,528.5 L1679,526.2 L1680.1,523.8 L1679.4,521.2 L1678.5,518.8 L1678.6,516.2 L1679.2,513.6 L1682.2,513.3 L1684.9,512.2 L1687.2,514.1 L1689.3,516.1 L1689.1,512.1 L1690.7,508.4 L1693.8,506 L1696.8,503.6 L1696.7,499.4 L1698.5,495.7 L1699.9,492 L1701.9,488.4 L1705.3,491.6 L1706.9,496 L1705.4,498.9 L1705.3,502.2 L1705.3,505.5 L1704.4,508.6 L1707.1,509.5 L1709.8,510.4 L1712.3,511.8 L1714.5,513.6 L1715.3,517.7 L1719,519.5 L1720.2,523 L1722,526.2 L1726.4,527.8 L1730.9,526.8 L1735.3,526.5 L1739.7,527.7 L1738.6,530.5 L1736.1,532.2 L1734.1,534.2 L1732.1,536.3 L1732,540.2 L1733.7,543.8 L1733.8,547.6 L1734.6,551.4 L1731.5,550.2 L1728.7,548.4 L1725.4,549.1 L1722,548.9 L1719.2,549.6 L1717,551.4 L1714.3,552.3 L1712,553.9 L1709.4,552.7 L1707.2,551.1 L1706.4,548.4 L1704.4,546.4 L1701.8,543.7 L1699.9,540.5 L1699.2,536.7 L1696.8,533.8 L1694.5,532.2 L1692.1,530.6 L1689,531 L1686.8,528.7 L1685.5,526.3 L1683.5,524.5 L1680.7,525 L1678.2,523.7" fill="none" stroke="#333" stroke-width="1.8" stroke-linejoin="round"/>
<path d="M1942,616.3 L1944.8,613.7 L1948.1,611.8 L1949.7,609.6 L1951.4,607.4 L1952.9,605.2 L1954.1,602.7 L1953.9,598.8 L1955.1,595.1 L1957.6,591.8 L1957.1,587.6 L1957.9,585 L1959.4,582.7 L1962.1,582.2 L1964.7,581.6 L1968.1,580.9 L1971.2,579.5 L1972.9,575.9 L1976.8,575.5 L1977.7,578.8 L1977.6,582.1 L1979.7,584.7 L1981.3,587.6 L1985.5,585.2 L1988.9,581.9 L1989.2,577 L1987.4,572.5 L1990.3,569.8 L1990.6,565.8 L1992.7,562.6 L1993.4,558.9 L1994.8,556.3 L1996.9,554.2 L1998.2,551.4 L2001,549.9 L2003.3,548.4 L2005.6,547 L2006.8,544.4 L2008.5,542.3 L2011.5,542.3 L2013.7,544.3 L2015.8,546.1 L2017.6,548.3 L2019.8,549.6 L2022.2,550.4 L2024.1,552.2 L2026.6,552.9 L2029.9,553 L2033.2,552.5 L2035,555.8 L2038.7,555.9 L2042.1,556.1 L2045.1,557.6 L2047.9,555.9 L2050.8,554.4 L2054.9,551.5 L2059.9,551.4 L2063.1,552.3 L2065.6,554.5 L2068.9,554 L2072,552.9 L2075.4,552.5 L2078.8,552 L2082.3,553.1 L2085.6,551.4 L2088.3,554.9 L2090.1,558.9 L2090.2,562.2 L2091.7,565 L2093.9,567.3 L2096.2,569.5 L2098.1,573.1 L2099.9,576.8 L2102.2,580.3 L2102.2,584.6 L2104,586.6 L2105.4,589 L2106.4,591.6 L2108.2,593.7 L2111.3,594.5 L2113,597.1 L2115.4,598.9 L2117.3,601.2 L2120.2,602.7 L2123.1,604.2 L2126.2,605.1 L2129.4,605.7 L2132.4,604.9 L2135.3,603.6 L2138.6,602 L2141.5,604.2 L2144.3,602.1 L2147.6,603.1 L2150.6,602.1 L2153.6,601.2 L2156.4,599.8 L2159.4,599 L2162.7,598.3 L2165.7,599.7 L2165,602.8 L2163.6,605.6 L2163.9,608.8 L2162.6,611.8 L2163.2,615 L2162.7,618.2 L2161.3,621.1 L2159.6,623.9 L2162,625.8 L2163,628.7 L2165.8,630.2 L2167.2,632.9 L2169.8,634.5 L2172.6,635.7 L2175.5,636.8 L2177.7,639 L2179.3,641.1 L2179.9,643.6 L2181.3,645.7 L2182.3,648 L2178.8,650.7 L2177.4,654.8 L2178.1,659 L2177.7,663.2 L2179.8,665.7 L2180.5,668.9 L2183.6,669.5 L2186.8,669.2 L2191.2,670.6 L2195.9,670.7 L2196.2,673.6 L2195,676.2 L2193.3,678.5 L2192.9,681.3 L2192,684.4 L2192.4,687.6 L2192.1,690.9 L2189.8,693.4 L2191.8,695.1 L2193.8,696.7 L2196.4,697.4 L2198.9,696.4 L2202.2,693.7 L2206.5,693.4" fill="none" stroke="#333" stroke-width="1.8" stroke-linejoin="round"/>
<path d="M2206.5,693.4 L2210.3,693.3 L2212.5,696.4 L2213.5,700.9 L2214,705.5 L2217.4,707.8 L2221.5,707.1 L2225.3,708 L2229.1,708.5 L2230.7,710.7 L2233,712.1 L2235.3,710.2 L2238.2,710.9 L2242.7,709.7 L2247.3,708.5 L2249.7,707.8 L2252.1,706.9 L2254.4,705.8 L2256.7,704.6 L2257.8,707.2 L2260.3,708.4 L2263.2,708.2 L2265.4,710 L2270,709.3 L2274.3,707.4 L2278.9,706.9 L2283.5,707 L2288.1,706.3 L2292.6,707.5 L2297,709.3 L2301.6,708.5 L2306.3,708.2 L2310.8,709 L2315.4,708.4 L2319.8,707 L2324.6,707 L2329.1,705.2 L2333.8,706 L2337.9,708.5 L2342.4,709.4 L2347,709.2 L2351.6,708.9 L2356,710 L2358.7,709.9 L2361.3,709.2 L2364,709.7 L2366.6,710 L2369.3,710.3 L2371.8,711.3 L2374.4,709.6 L2377.2,710.9 L2380.9,713.6 L2383.2,717.5 L2384.5,720.5 L2387.5,721.2 L2390,723.4 L2389.3,726.6 L2391.2,729.6 L2392.7,732.8 L2394.7,735.8 L2396.8,738.7 L2399,741.6 L2401.5,744.2 L2402.6,747.6 L2404.4,750.8 L2406.7,753.1 L2408.4,755.8 L2411.5,757.1 L2413.5,759.8 L2416.4,760.1 L2418.4,762.2 L2420.6,763.9 L2422.5,765.9 L2424.9,767.4 L2426.7,769.5 L2429.3,770.4 L2431.6,771.9 L2433.1,774.3 L2435.5,775.9 L2438.1,776.8 L2440.7,778 L2441,781.5 L2443.7,784 L2440.8,785.5 L2437.6,785.5 L2433.6,787.4 L2430.1,790 L2430.4,793.9 L2431.3,797.6 L2429.7,801.2 L2430.1,805.2 L2426.4,804.5 L2423.3,806.4 L2419.8,806.5 L2416.5,805.2 L2413.5,804.3 L2410.4,803.8 L2407.1,804.1 L2404.4,802.1 L2401.9,801 L2399.8,799.1 L2398.1,797 L2396.8,794.6 L2394.4,796.8 L2391.5,798.3 L2389.5,800.9 L2387.8,803.6 L2386.9,800.9 L2385.2,798.5 L2383.7,796 L2383.2,793.1 L2379.5,792.2 L2375.7,791.6 L2372.6,790.2 L2369.5,789 L2369.1,785.7 L2368.1,782.5 L2367.3,779.4 L2365.1,777.2 L2363.7,774.5 L2362.1,771.9 L2358.6,768.5 L2356,764.4 L2352.8,763.3 L2350.3,760.9 L2347.3,762.3 L2344,762.9 L2343.4,760 L2341.2,758.2 L2339.7,755.9 L2337.9,753.8 L2335.6,750.3 L2334.9,746.2" fill="none" stroke="#333" stroke-width="1.8" stroke-linejoin="round"/>
<path d="M2247.3,732.6 L2249.3,735.8 L2252.9,736.9 L2256.3,735.9 L2259.3,734.2 L2264,733 L2268.7,734.3 L2273.5,733.8 L2277.5,731.1 L2282.4,730.5 L2286.8,733 L2291.6,732.3 L2295.6,729.6 L2300.3,727.9 L2305.3,728.3 L2307.6,727.4 L2310.2,727.2 L2311.5,724.9 L2313.7,723.6 L2317.1,721.1 L2321.4,720.8 L2324.8,718.5 L2328.8,717.5 L2332.7,719.7 L2334.9,723.6 L2333.7,727.5 L2332.9,731.5 L2330,734.6 L2328.8,738.7 L2326.5,741.6 L2324.3,744.7 L2321.4,743.2 L2318,743.4 L2315.6,741.3 L2313.7,738.7 L2309,738.8 L2304.3,739.6 L2300.2,737 L2295.6,735.7 L2291.6,736 L2288.3,738.5 L2284.3,736.4 L2280.5,738.7 L2276.4,738.8 L2272.9,736.6 L2269.1,735.6 L2265.4,734.2 L2262.3,734.1 L2259.3,734.7 L2256.4,736 L2253.3,735.7 L2250.3,734 L2247.3,732.6" fill="none" stroke="#333" stroke-width="1.8" stroke-linejoin="round"/>
<path d="M2334.9,746.2 L2336.2,749.6 L2339.7,750.5 L2340.8,753.6 L2340.9,756.8 L2342.1,759.3 L2343.6,761.6 L2345.2,763.8 L2347,765.9 L2348.5,769.6 L2349.4,773.5 L2353,775.3 L2356,778 L2358.4,780.7 L2361.2,782.9 L2362.4,786.4 L2362.1,790 L2363,793.2 L2363.8,796.3 L2365,799.3 L2366.6,802.1 L2365.9,805.9 L2365.2,809.6 L2367.1,813.5 L2365.1,817.2 L2364.8,820.7 L2362.7,823.6 L2361.3,826.7 L2359.1,829.3 L2357.9,832.3 L2357.8,835.4 L2357.4,838.6 L2356,841.4 L2354,844.6 L2351.5,847.5 L2351.6,851.4 L2353.3,855 L2354.1,858.7 L2354.5,862.6 L2355.6,866.4 L2357.5,869.8 L2358,873.7 L2357.6,877.7 L2359.1,881.3 L2358.8,885.2 L2358.6,889 L2359.1,892.8 L2358.5,895.5 L2357.2,898.1 L2355.2,900 L2353,901.8 L2350.5,903.3 L2349.3,905.9 L2349.4,909 L2347,910.9 L2344.9,912.9 L2344.3,915.6 L2342.9,918 L2340.9,920 L2337.2,920.5 L2333.4,921.4 L2329.7,922.8 L2327.3,926" fill="none" stroke="#333" stroke-width="1.8" stroke-linejoin="round"/>
<path d="M2300.3,985.5 L2301.5,990.3 L2303.1,992.4 L2305.2,993.9 L2306.8,995.9 L2308.8,997.5 L2311.6,999.1 L2314.6,1000.1 L2317.9,999.9 L2320.9,998.7 L2322.6,996.6 L2325.1,995.3 L2327.8,994.2 L2330.5,995.1 L2332.6,998 L2334.2,1001.2 L2335,998.5 L2335.5,995.8 L2335.3,993 L2335.4,990.3 L2338.1,988.9 L2340.7,987.3 L2343.8,986.1 L2345.1,983 L2349.7,981.7 L2351.7,977.3 L2356.3,976.8 L2359.6,973.4 L2360.7,970.4 L2363.2,968.6 L2364.3,965.6 L2366.8,963.7 L2369.3,959.4 L2370.7,954.6 L2375.1,952.5 L2378.9,949.2 L2382.3,946.9 L2385.6,944.4 L2389.6,943.1 L2393.4,941.5 L2397.8,941.9 L2402,940.5 L2406.8,941.7 L2410.3,938.3 L2413.3,939 L2416.4,938.7 L2419.3,940 L2422.4,939.5 L2427.3,940.1 L2432.1,938.8 L2434.6,937.7 L2436.8,935.9 L2439,937.6 L2441.8,938.3 L2446.7,938.5 L2451.4,939.5 L2446.6,939.3 L2441.7,938.8 L2436.9,937.9 L2432.1,937.1 L2434.6,935.1 L2436.3,932.3 L2436.4,929 L2438.1,926.2 L2441.4,924.7 L2445,924.5 L2448.1,922.7 L2451.4,921.4 L2455.8,921.9 L2460.2,922 L2462.8,918.4 L2465.9,915.4 L2469.4,913.7 L2473,912.4 L2476.7,911.2 L2480.4,910.5 L2483.6,908.2 L2487.2,906.4 L2491,907.3 L2494.9,907.6 L2497.6,906.1 L2499.9,904.1 L2502.5,906.2 L2505.8,905.7" fill="none" stroke="#333" stroke-width="1.8" stroke-linejoin="round"/>
<path d="M2301.5,978.2 L2303.9,977.5 L2306.2,976.4 L2308.7,976.1 L2311.2,975.8 L2313.8,977.1 L2316.7,976.7 L2319.1,974.6 L2322.1,975.4 L2324.8,974.7 L2327.5,974.8 L2330.2,974.8 L2333,974.6 L2333.6,971.9 L2334.3,969.2 L2334.2,966.5 L2334.2,963.7 L2330.7,962.8 L2327.9,960.7 L2324.4,960.8 L2320.9,961.3 L2321,958.4 L2319.5,955.9 L2318.9,953.2 L2318.5,950.4" fill="none" stroke="#333" stroke-width="1.8" stroke-linejoin="round"/>
<path d="M2328.1,926.2 L2331.9,925.6 L2335.4,923.8 L2338.5,920.2 L2342.6,917.8 L2344.2,913.6 L2347.5,910.5 L2351,907.9 L2354.7,905.7 L2356,903.2 L2358.1,901.3 L2358.5,898.6 L2359.6,896 L2359.1,892.3 L2359.3,888.6 L2360.2,884.4 L2357.1,881.5 L2358.6,877 L2360,872.5 L2357,868.8 L2354.7,864.6 L2355,860.1 L2355.6,855.6 L2352.5,852.1 L2351.1,847.7 L2351.6,843.3 L2353.3,839.3 L2353.7,835 L2354.7,830.8 L2356.3,828.5 L2356.8,825.8 L2358.3,823.5 L2359.6,821.1 L2361.9,817.8 L2364.1,814.3 L2365.9,810.6 L2366.8,806.6 L2366.9,803.3 L2365.2,800.5 L2365.7,797.4 L2366.8,794.5 L2365,792.4 L2364,789.8 L2363.5,787.1 L2362,784.8 L2359.5,782.5 L2357.1,780" fill="none" stroke="#333" stroke-width="1.8" stroke-linejoin="round"/>
<path d="M2384.9,805.4 L2387.3,802.9 L2389.2,800 L2392.6,798.2 L2393.4,794.5 L2397.2,794.4 L2400.7,795.7 L2403.5,799.7 L2407.9,801.8 L2410,803.3 L2412.5,803.9 L2415.1,803.9 L2417.6,804.2 L2422.3,805.4 L2427.3,805.4 L2429.7,802.4 L2432.1,799.3 L2432.5,796.8 L2433.6,794.5 L2434.1,791.7 L2432.1,789.7 L2429.9,787.1 L2427.3,784.8 L2425.1,783.5 L2422.6,782.7 L2420.1,782.1 L2417.6,782.4" fill="none" stroke="#333" stroke-width="1.8" stroke-linejoin="round"/>
<path d="M2493.7,881.5 L2491.7,883.3 L2489.4,884.7 L2487.7,886.8 L2486.2,889 L2483.6,889.4 L2480.9,889.3 L2478.3,888.5 L2475.6,888.8 L2471.7,888.6 L2468,889.7 L2464.8,887.5 L2461.1,886.4 L2458.6,884.4 L2457.5,881.5 L2459.4,877.8 L2462.6,875.2 L2462.3,871.1 L2462.3,867 L2463.5,864.2 L2465.9,862.2 L2469.8,860.1 L2473.2,857.3 L2475.8,853.4 L2479.5,850.3 L2481.5,845.9 L2485.3,842.8 L2489.8,841.1 L2494.6,841.1 L2495.7,838.8 L2497.1,836.6 L2499.6,835.6 L2502.2,835.6 L2506.8,834.9 L2511.3,833.4 L2513.7,832.5 L2516.3,832.5 L2518.2,830.8 L2519.1,828.3 L2521.6,828 L2524.2,827.8 L2526.5,828.9 L2529,829.3 L2532.3,825.6 L2536,822.3 L2539.3,819.7 L2543.4,819.6 L2546.9,817.7 L2550.5,816.3 L2553.6,818.1 L2556.6,819.9 L2559.4,817.7 L2562.6,816.3 L2565.9,818.9 L2569.9,819.9 L2573.3,821.7 L2577.1,821.1 L2579.9,817.4 L2584.4,816.3 L2585.2,812.5 L2586.8,809 L2589.2,806.8 L2590.2,803.7 L2593.4,803.1 L2596.5,804.2 L2593.6,802.2 L2591.6,799.3 L2594,797.8 L2596.7,798.8 L2598.7,797.3 L2601.3,796.9 L2603.6,795.6 L2606.3,795.4 L2608.3,793.6 L2611,793.3 L2613.4,791.7 L2615.8,790 L2617,787.4 L2618.2,784.8 L2622.5,783.4 L2625.5,780" fill="none" stroke="#333" stroke-width="1.8" stroke-linejoin="round"/>
<path d="M2444.2,852.5 L2443.7,856.3 L2445.4,859.8 L2449.7,859.6 L2453.8,861 L2458.3,863 L2462.3,865.8" fill="none" stroke="#333" stroke-width="1.8" stroke-linejoin="round"/>
<path d="M2621.8,796.4 L2622.1,792.5 L2622.7,788.7 L2624.3,785.1 L2624.8,781.3 L2628,778.3 L2629.9,774.3 L2632.9,771.2 L2636.9,769.2 L2641,766.7 L2641.9,761.9 L2644.8,758.5 L2645.9,754.1 L2647.2,749.7 L2650.4,746.5 L2652,742.3 L2655,739 L2657.7,738 L2658.8,735.3 L2659.8,732.8 L2659.4,730.1 L2662.9,726.5 L2667.1,723.9 L2670.8,722.6 L2674.2,720.8 L2677.2,718.2 L2679.2,714.8 L2681.3,711.5 L2683.9,708.6 L2687.5,707 L2691.3,705.7 L2693.6,703.4 L2696.4,701.8 L2698.3,699.2 L2700.3,696.7 L2702.2,693.9 L2705.4,692.6 L2708.3,690.9 L2709.4,687.6 L2712.3,684.9 L2713,680.9 L2716,678.5 L2718.5,675.5 L2722.6,674.5 L2725.1,671.1 L2726.5,667.3 L2727.5,663.4 L2728.9,660.1 L2731.8,658 L2731.5,654.4 L2733.6,651.4 L2736.7,648.4 L2739,644.7 L2739.9,640.4 L2738.1,636.3 L2738.9,633 L2741,630.5 L2742.8,627.6 L2742.6,624.2 L2744.6,620.5 L2748.5,619.1 L2750.2,615.6 L2751.7,612.1 L2754.7,608.9 L2758.4,606.7 L2762.2,604.3 L2763.8,600" fill="none" stroke="#333" stroke-width="1.8" stroke-linejoin="round"/>
<path d="M2689.8,715.7 L2692.8,713 L2696.5,711.4 L2698.6,707.9 L2700.3,704.2 L2703.1,702.1 L2705.3,699.3 L2707.2,696.4 L2709.4,693.7 L2712.2,692.6 L2713.7,690 L2714.2,687.2 L2715.4,684.6 L2719,682.7 L2722.1,680.2 L2724.8,676.8 L2724.5,672.5 L2726.4,669.7 L2727.5,666.4 L2728.1,663 L2730.5,660.4 L2731.9,663.4 L2730.9,666.5 L2730.7,669.7 L2732.1,672.5 L2730.2,674.6 L2727.5,675.5 L2725.2,676.6 L2722.9,677.6 L2720.3,678.1 L2718.5,680.1 L2715.8,684.1 L2712.4,687.6" fill="none" stroke="#333" stroke-width="1.8" stroke-linejoin="round"/>
<path d="M2745.7,672.5 L2748.7,699.7" fill="none" stroke="#333" stroke-width="1.8" stroke-linejoin="round"/>
<path d="M2798.5,671 L2797.7,673.7 L2798.5,676.4 L2797.8,679 L2797,681.6 L2799.4,684.2 L2800.7,687.6" fill="none" stroke="#333" stroke-width="1.8" stroke-linejoin="round"/>
<path d="M2303.3,299.6 L2307.1,302.4 L2308.7,306.7 L2312,309.9 L2315.8,312.2 L2319.2,313.8 L2320.9,317.2 L2323,320.2 L2325.9,322.3 L2328.6,325.6 L2331.1,329.1 L2333.4,332.9 L2333.5,337.4 L2335.2,339.6 L2337.9,340.5 L2339,343.1 L2340.8,345.2 L2343.5,344.5 L2346.3,345.1 L2349.2,344.6 L2351.1,342.4 L2353.7,343.6 L2356.5,344.3 L2358.7,346 L2361.2,347.5 L2364.1,344.5 L2365.9,340.6 L2367.5,336.5 L2366.2,332.3 L2368.7,330.3 L2369.7,327.1 L2372.4,325.2 L2373.8,322.3 L2372.4,318.5 L2371.2,314.7 L2372.7,311.3 L2375.3,308.7 L2378.9,307.6 L2381.3,304.7 L2384.4,301.1 L2388.9,299.6 L2393.3,299.8 L2396.8,302.6 L2399.8,305.7 L2401.5,309.7 L2402.1,313.7 L2404,317.2 L2403.8,320.9 L2401,323.2 L2402.3,326.4 L2401.5,329.8 L2400,327.6 L2397.8,326 L2395.2,324.8 L2393.9,322.3 L2392.9,319.6 L2391.4,317.3 L2389.2,315.2 L2388.9,312.2" fill="none" stroke="#333" stroke-width="1.8" stroke-linejoin="round"/>
<path d="M2373.8,322.3 L2417.6,591.7 L2417.9,594.2 L2418.4,596.7 L2419.4,599.1 L2419.1,601.7 L2421.4,603.6 L2424.4,604 L2425.7,606.6 L2426.6,609.3 L2429,612.2 L2428.4,615.9 L2430.3,618.7 L2431.7,621.9 L2433.6,623.8 L2435.7,625.4 L2438.1,626.8 L2439.7,629 L2441.3,631.1 L2442.9,633.3 L2444.2,635.8 L2446.8,637 L2447.2,640.5 L2449.7,643.2 L2450.9,646.3 L2451.8,649.6 L2453.8,652.8 L2457.3,654.1 L2459,657.4 L2461.9,659.7 L2465.7,659.5 L2469.1,661.3 L2471.9,663.6 L2474.5,666.2 L2478.4,669 L2483.1,669.6 L2487.2,666.7 L2492.1,667.2 L2495.9,667.1 L2499.7,666.8 L2503.4,665.4 L2507.2,665.7 L2511,667 L2514.4,669.2 L2518.3,668.1 L2522.3,668.7 L2526.3,668.8 L2530.3,668.9 L2534.7,668.8 L2537.5,672.2 L2539.1,675.5 L2542.2,677.6 L2545,679.8 L2547.5,682.3 L2550.4,685.7 L2554.4,687.8 L2558.9,687.4 L2562.6,684.8 L2566.6,683.1 L2570.2,680.8 L2572.4,683.2 L2574.1,686 L2574.1,689.3 L2575.2,692.4 L2577,694.4 L2579,696.2 L2580.5,698.4 L2582.8,699.9 L2586.7,700.3 L2590.5,700 L2594.1,701.6 L2597.9,702.5 L2600.1,700.5 L2602.9,700 L2605.8,699.3 L2608,697.4 L2612.1,697.2 L2615.7,699.3 L2618.8,702.2 L2623.1,702.5 L2625.5,698.3 L2629,695 L2633.4,693 L2638.2,692.4 L2641.1,688.8 L2645,686.2 L2649.4,684.9 L2653.3,682.3 L2657.4,681.3 L2661.7,681.1 L2665.3,678.7 L2668.4,675.8 L2672.2,675.7 L2676,676.3 L2679.6,674.1 L2683.5,675.8 L2687.2,677.1 L2691.1,677.3 L2690.7,679.9 L2690.1,682.4 L2690.4,685.1 L2691.9,687.4 L2691.7,689.9 L2692.2,692.4 L2691.3,694.9 L2691.1,697.4 L2694.9,698.6 L2698.6,699.9" fill="none" stroke="#333" stroke-width="1.8" stroke-linejoin="round"/>
<path d="M2948.9,299.6 L2946.9,303.7 L2945.9,308.2 L2943.8,312.6 L2945.4,317.2 L2946.5,319.7 L2947.1,322.3 L2946.1,324.7 L2945.5,327.3 L2946.3,329.9 L2945.1,332.3 L2944.1,334.9 L2945.4,337.4 L2942.6,340.8 L2938.6,342.6 L2934.5,343.9 L2930.3,344.9 L2926.6,347 L2922.6,348.4 L2919,350.5 L2915.2,352.5 L2914.9,356.5 L2912.1,359.5 L2908.4,360.5 L2905.1,362.6 L2902.4,366.2 L2900.2,370.2 L2897.1,373.6 L2895.1,377.7 L2893.9,380.5 L2892.4,383 L2889.8,384.7 L2888.5,387.6 L2888,390.7 L2885.5,392.7 L2883.5,395 L2882.5,397.8 L2881.1,400.6 L2880.7,403.6 L2880.6,406.7 L2882.5,409.3 L2879.9,410.8 L2878.4,413.4 L2877.3,416.1 L2874.9,418 L2864.8,443.1 L2862.9,446 L2860.4,448.4 L2859,451.6 L2857.7,454.8 L2857.3,458.3 L2858.2,461.6 L2858.2,465.1 L2859.8,468.3 L2849.7,498.5 L2839.7,523.7 L2839.6,528.6 L2836.6,532.6 L2833.8,536.5 L2829.6,538.8 L2827.5,541.8 L2825,544.3 L2822.2,546.5 L2819.5,548.9 L2815.9,551.7 L2812,554.1 L2807.7,555.7 L2804.4,558.9 L2800.6,561.9 L2798.2,566.1 L2793.9,568.1 L2789.3,569 L2787.3,573.2 L2784,576.4 L2782.2,580.7 L2779.2,584.1 L2777.3,586.6 L2775.7,589.3 L2774.5,592.4 L2771.9,594.4 L2769.3,596.3 L2767,598.5 L2766.8,602 L2764.1,604.3 L2760.3,607.4 L2756.8,610.8 L2753.3,614.3 L2749,616.9 L2747,620.1 L2744,622.4 L2742.5,625.9 L2741.4,629.4 L2742.3,632.1 L2741.1,634.7 L2741.4,637.4 L2740.5,639.9 L2738.7,641.9 L2737.6,644.4 L2736.4,646.8 L2736.4,649.6 L2733.3,653 L2733.6,657.6 L2730.8,660.9 L2728.8,664.7 L2727.8,668.5 L2724.3,670.2 L2721.4,672.3 L2718.8,674.8 L2715.6,673.7 L2712.8,675.4 L2710.8,677.7 L2709,680.1 L2707.2,682.3 L2705.3,684.4 L2705.1,687.4 L2703.7,689.9 L2703.9,694.4 L2702.1,698.5 L2699.3,701.9 L2696.1,705 L2691.9,705.8 L2688.5,708.4 L2686,711.7 L2683.5,715 L2684,719.4 L2680.8,722.4 L2676.9,723.3 L2673.4,725.1" fill="none" stroke="#333" stroke-width="1.8" stroke-linejoin="round"/>
<path d="M2708.7,697.4 L2723.8,674.8 L2726,672.5 L2728.6,670.8 L2730.8,668.7 L2733.1,666.5 L2732.8,663.3 L2732.9,660.1 L2734.3,657.1 L2736.4,654.6 L2744,624.4 L2769.1,589.2 L2794.3,564 L2824.5,533.8 L2839.7,508.6 L2854.8,478.4 L2869.9,448.2 L2885,423 L2905.1,397.8 L2925.3,372.6 L2945.4,352.5 L2948.2,350.9 L2950.4,348.7 L2952.6,346.3 L2955.5,344.9 L2958.4,343.5 L2960.2,340.7 L2962.8,338.9 L2965.6,337.4 L2968.9,336.7 L2972.2,337.4 L2974.7,335.1 L2976.3,332.2 L2979,330.9 L2981.4,329 L2983.8,327.2 L2985.7,324.8 L3010.9,314.7 L3014,313 L3017.4,314.2 L3020.4,312.8 L3023.3,311.3 L3026.6,310.4 L3029.6,308.9 L3032.6,310.7 L3036.1,311.2 L3038.6,311.5 L3041.1,311.2 L3043.6,311.1 L3046.2,311.1 L3048.7,310.9 L3051.2,311 L3053.7,310 L3056.2,310.7 L3058.1,312.8 L3060.5,314.3 L3063.3,314.3 L3066.1,313.8 L3068.8,313.4 L3071.2,314.7 L3073.8,314.2 L3076.4,314.7 L3081.2,313.9 L3086,314.5 L3089.6,317.7 L3094,319.8 L3095.6,323.4 L3096.5,327.3 L3093.4,328.1 L3090.2,328.8 L3086.9,328.9 L3083.9,327.3 L3086.5,329.3 L3089.5,330.2 L3092.5,331.5 L3095.8,331.4 L3096.9,334.3 L3097.4,337.5 L3100,339.5 L3101.6,342.4 L3100.4,345.1 L3098.1,347 L3097.4,349.8 L3096.5,352.5 L3093.6,354.6 L3091.2,357.2 L3089.5,360.5 L3086.4,362.6 L3085.5,366 L3083.1,368.5 L3082.8,372 L3081.4,375.1 L3082.8,377.4 L3083,380.1 L3081.6,382.3 L3079.6,384 L3075.5,385.9 L3071.3,387.7 L3067.1,386.3 L3062.9,387.7 L3059.4,390 L3056.2,392.8 L3053.6,393.1 L3051,393.1 L3048.4,393.6 L3045.8,394 L3043.2,393.7 L3040.5,393.4 L3038.6,391.3 L3036.1,390.3 L3032.7,391.6 L3030.7,394.6 L3027.3,393.6 L3023.9,393.2 L3021.9,395.6 L3020.7,398.6 L3018.6,401 L3015.9,402.8 L3018.8,403.3 L3021.4,404.5 L3023.7,406.2 L3026,407.9 L3028.5,408.2 L3031,408.8 L3033.6,408.5 L3036,409.4 L3038.4,407.8 L3041.3,407.7 L3044.2,408.2 L3046.2,410.4 L3048.6,413.6 L3050.9,416.9 L3054.1,419.5 L3056.2,423 L3058.7,420.2 L3062.2,418.9 L3064.9,416.4 L3066.3,412.9 L3068.3,411.2 L3070.6,409.9 L3071.9,407.6 L3071.8,404.8 L3076.6,403.8 L3081.4,402.8 L3083.2,400.4 L3086.2,399.8 L3088.3,397.5 L3091.5,397.8 L3094.1,395.3 L3096.2,392.4 L3098,389.1 L3101.6,387.7 L3101.6,391.6 L3101.3,395.5 L3100.8,399.4 L3099,402.8 L3099.9,406.6 L3102.3,409.5 L3102.7,413.2 L3103.4,416.8 L3099.7,418.5 L3095.9,420.1 L3096.6,424.4 L3094,428 L3092.3,430.4 L3089.6,431.8 L3089.6,434.8 L3087.5,437.1 L3086.3,439.7 L3086.2,442.5 L3086.1,445.4 L3086.4,448.2 L3082.8,451.2 L3081.4,455.7 L3085.1,454.3 L3089,453.2 L3092.4,450.9 L3096.5,450.7 L3099.1,453.9 L3100.8,457.6 L3103.7,460.4 L3106.6,463.3 L3110.2,464.4 L3112.9,467.1 L3115.6,469.7 L3116.7,473.3 L3119.9,476.2 L3120.8,480.3 L3124.4,482.4 L3126.7,485.9 L3127.6,490.5 L3132,492.1 L3135.1,494.8 L3136.8,498.5 L3139,500.3 L3141.8,500.2 L3144.3,499.1 L3146.9,498.5" fill="none" stroke="#333" stroke-width="1.8" stroke-linejoin="round"/>
<path d="M3015.9,402.8 L2975.6,420.5 L2972.4,423.7 L2968.2,425.7 L2965.7,425.7 L2963.2,426.3 L2962,428.5 L2960.5,430.5 L2957.8,430.6 L2955.4,429.2 L2952.7,429.3 L2950.3,430.6 L2947.4,430.9 L2944.8,429.5 L2942.7,431.5 L2940.4,433.1 L2938.1,436.6 L2934.3,438.4 L2930,439.3 L2927.8,443.1 L2925.8,446 L2927.4,449.2 L2926.7,452.2 L2925.2,454.9 L2926.9,457.5 L2927.5,460.5 L2929.2,463 L2930.3,465.8 L2928.4,469.1 L2930.4,472.3 L2930.1,475.8 L2927.8,478.4 L2925.5,480.3 L2924.2,483 L2922.9,485.6 L2921,487.8 L2918.1,488.8 L2916.2,491.2 L2914.7,493.8 L2912.7,496" fill="none" stroke="#333" stroke-width="1.8" stroke-linejoin="round"/>
<path d="M3056.2,629.4 L3058.9,626.3 L3062.2,623.9 L3064.6,620.6 L3066.3,616.9 L3070.3,615.2 L3072.9,611.8 L3072.9,607.2 L3076.4,604.3 L3078.3,599.7 L3082.1,596.5 L3086.6,594.5 L3091.5,594.2 L3093.5,591.2 L3096.3,588.9 L3099.4,587.1 L3101.6,584.1 L3104.6,584.6 L3107.1,582.7 L3109.6,581.1 L3111.1,578.5 L3114.8,578.5 L3116.7,575.5 L3117.7,572.2 L3116.7,569 L3121.6,568.9 L3125.3,565.5 L3127.8,561.5 L3131.8,558.9 L3135.9,557.5 L3138.3,553.8 L3139.4,549.8 L3141.8,546.4 L3141.6,542.7 L3143.8,539.8 L3145.2,536.7 L3146.9,533.8" fill="none" stroke="#333" stroke-width="1.8" stroke-linejoin="round"/>
<path d="M3146.9,579.1 L3144.4,581.6 L3141.1,582.7 L3137.7,583.7 L3135.1,586 L3133.6,589.5 L3135,593 L3134.3,596.6 L3131.8,599.2 L3134.2,602.7 L3133.3,606.8 L3130.1,608.9 L3127.4,611.7 L3124.7,613.6 L3121.8,615.2 L3118.8,616.8 L3116.7,619.4 L3115.3,623.8 L3112.4,627.4 L3110.4,631.7 L3106.6,634.5 L3106.2,637.7 L3106.6,641 L3105.7,644.3 L3102.9,646.4 L3100.5,648.6 L3099.4,651.6 L3098.1,654.4 L3096.5,657.1 L3097.9,653.5 L3101.1,651.3 L3101.4,647.4 L3104.1,644.5 L3103.6,648.5 L3103.4,652.4 L3104.6,656.2 L3106.6,659.7 L3108.2,663.6 L3107.5,667.7 L3109.6,671.2 L3111.6,674.8 L3114.5,677.1 L3115.8,680.6 L3117.9,683.9 L3121.7,684.8 L3125.8,685.5 L3129,688 L3133.2,688 L3136.8,689.9 L3140.5,690.9 L3142.8,694 L3144.6,697.1 L3146.9,699.9" fill="none" stroke="#333" stroke-width="1.8" stroke-linejoin="round"/>
<path d="M3146.9,438.1 L3145.3,441 L3142.4,442.6 L3140,444.9 L3139.3,448.2 L3139,450.9 L3138.8,453.6 L3137.1,455.8 L3135.2,457.8 L3135.5,460.9 L3137.4,463.3 L3135.8,465.8 L3134.3,468.3 L3138.2,469.2 L3141.8,470.8 L3144.9,467.4 L3146.9,463.3" fill="none" stroke="#333" stroke-width="1.8" stroke-linejoin="round"/>
<path d="M3063.8,632 L3065.9,629.8 L3068.8,629.4 L3068.3,633 L3070.8,635.6 L3071.2,638.8 L3071.3,642 L3068.2,642.2 L3065.3,643.5 L3064.4,640.6 L3065.2,637.7 L3065.2,634.6 L3063.8,632" fill="none" stroke="#333" stroke-width="1.8" stroke-linejoin="round"/>
<path d="M413,1575.1 L411.2,1577.7 L412.5,1580.5 L412.1,1583.3 L412.3,1586 L414.2,1588.1 L414.7,1590.9 L415.9,1593.5 L418,1595.3 L418.7,1597.9 L419.2,1600.6 L419.6,1603.4 L421,1605.9 L418.6,1607.7 L418.3,1610.7 L416.9,1613 L415.5,1615.4 L417.6,1617.3 L418.4,1620 L420.9,1621.3 L422.9,1623.1 L425,1624.8 L426.5,1627.1 L428,1629.5 L430.6,1630.5 L428.4,1634.9 L423.8,1636.5 L424,1641.1 L423.1,1645.6 L425.6,1647.2 L427.3,1649.6 L429,1652 L430.6,1654.5 L429.9,1657.4 L430.9,1660.3 L432.2,1663 L433.2,1665.8 L433.6,1668.3 L434,1670.9 L435,1673.3 L436.1,1675.7 L436.9,1678.3 L436.3,1681 L436.3,1683.8 L438.2,1685.9 L437.3,1689.9 L437.9,1694 L440.7,1696.9 L443.2,1700 L445.7,1700 L446.7,1703.8 L448.4,1707.3 L450.4,1711.2 L448.3,1715.1 L447.3,1719.6 L446.1,1724 L444.5,1728.3 L443.2,1732.7 L445.4,1735.4 L446.7,1738.6 L450,1739.3 L453.3,1740.3 L454.3,1775.5 L456,1777.5 L457.9,1779.3 L458.1,1782 L456.7,1784.4 L459.3,1784.7 L461.5,1785.9 L462.2,1788.4 L463.4,1790.6 L465.3,1792.6 L467.4,1794.3 L469.9,1795.5 L472.3,1796.9 L473.1,1799.5 L474.7,1801.8 L476.1,1804.2 L478.5,1805.7 L482.8,1807.7 L487.4,1808.7 L490.8,1812 L493.6,1815.8 L494.6,1818.2 L495.1,1820.7 L495.5,1823.4 L497.6,1825.2 L498.2,1827.9 L500.4,1829.5 L502.1,1831.4 L503.7,1833.4 L501.7,1836.1 L502.6,1839.2 L504,1841.9 L504.1,1844.9 L506.2,1847.3 L507.5,1850.2 L510.6,1850.6 L513.7,1851.1 L516,1853.9 L518.2,1856.7 L520.9,1859 L523.8,1861.1 L525.2,1865.1 L527.7,1868.3 L531,1870.8 L533.9,1873.7 L534.4,1878.4 L532.1,1882.5 L532,1886.9 L531.4,1891.4 L528.4,1892.8 L526,1895 L526.5,1898.2 L526.3,1901.4 L525.1,1905.2 L526.1,1909.1 L523.4,1912.4 L523.8,1916.5 L522.1,1919 L519.6,1920.7 L516.6,1920.4 L513.7,1921.6 L512.5,1924 L513.1,1926.8 L511.3,1928.9 L511.2,1931.6 L513.6,1935.3 L517.7,1936.4 L521.2,1938.6 L523.8,1941.7 L526.1,1940.1 L528.8,1939.2 L525.2,1937.6 L521.2,1937 L517.6,1935.3 L513.7,1934.2 L510.3,1933.1 L507.9,1930.5 L504.5,1930.6 L501.1,1931.6 L496.8,1930.3 L492.3,1929.1 L490.5,1927.4 L488.5,1925.7 L486,1925.8 L483.5,1926.6 L482.6,1924 L480.9,1921.9 L478.3,1921 L475.6,1920.6 L473.2,1922 L470.4,1921.8 L467.8,1921 L465.9,1919 L465.7,1921.8 L465.4,1924.5 L466.4,1927.1 L468.4,1929.1 L470.5,1932.7 L473.5,1935.6 L476.3,1939.5 L481,1939.2 L484.2,1942.3 L487.2,1945.6 L490.4,1948.6 L493.6,1951.8 L493.7,1955 L494.6,1958.1 L494.6,1961.4 L496.1,1964.4 L499.4,1966.6 L499.9,1970.6 L503.2,1972.4 L506.2,1974.4 L507.6,1977.5 L509.8,1980 L513.2,1980.4 L516.3,1982 L516.7,1986.1 L518.8,1989.5 L520.5,1992 L523.3,1993.1 L525.9,1994.6 L528.8,1994.6 L530.9,1996.2 L533.1,1997.8 L535.5,1998.8 L538,1999.8 L538.2,2002.6 L540.4,2004.5 L541.1,2007 L541.4,2009.7 L543.8,2008.5 L546.5,2008.4 L548.6,2006.3 L551.5,2007.2 L553.1,2009.8 L556.1,2010.5 L558.6,2012.3 L561.6,2012.2 L564,2009.7 L564,2006.2 L566.7,2004.3 L569.1,2002.1 L567.3,2005 L566.7,2008.4 L566.4,2012 L564.1,2014.7 L567.1,2017.5 L570.3,2020.1 L573.6,2023 L574.2,2027.3 L575.9,2029.3 L577.5,2031.4 L577.6,2034 L578.5,2036.5 L581.1,2037.2 L583.8,2037.9 L586.1,2039.6 L586.8,2042.4 L589.9,2044.4 L591.7,2047.5 L594.7,2049.6 L596.8,2052.5 L600.5,2050.8 L604.2,2052.4 L607,2054.7 L609.4,2057.5 L609.6,2061.5 L611.6,2064.9 L612.6,2068.7 L612,2072.6 L611.7,2075.5 L611.8,2078.4 L611.5,2081.3 L611.8,2084.2 L613.9,2086.2 L616,2088.1 L617,2091 L619.5,2092.8 L618.5,2095.3 L618.7,2098 L617.7,2100.5 L616.2,2102.7 L617.3,2105.1 L617.5,2107.8 L618.6,2110.2 L618.5,2112.9 L615.3,2115.8 L613.7,2119.8 L612.2,2123.8 L612,2128 L601.9,2155.7 L601.1,2158.6 L601,2161.7 L599.8,2164.4 L598.7,2167.2 L601.1,2169.3 L601.9,2172.4 L604.5,2174 L606.9,2175.9 L629.6,2193.5 L626.4,2191.5 L624.8,2188.1 L625.7,2184.5 L624.5,2180.9 L626.7,2182.6 L629.4,2182.9 L632,2183.4 L634.6,2183.4 L637.7,2185.2 L640.9,2186.5 L642.8,2189.8 L642.2,2193.5 L645.6,2195.8 L649.6,2197.1 L651.4,2200.9 L654.8,2203.6 L659.2,2204.9 L662.9,2207.7 L666.6,2210.4 L669.9,2213.6 L672.1,2216.3 L674.7,2218.8 L678.3,2219 L681.6,2220.6 L682.4,2224 L682.2,2227.5 L683.1,2230.8 L685,2233.8 L687.3,2235.9 L690.1,2237.4 L692.5,2239.9 L691.6,2243.4 L694,2245.7 L694.3,2249 L696.8,2251.2 L700.1,2251.4 L702.7,2253.1 L705.4,2254.8 L708.4,2256.2 L710.2,2258.9 L712.7,2261.1 L714.4,2264 L713.8,2267.2 L714.2,2270.5" fill="none" stroke="#333" stroke-width="1.8" stroke-linejoin="round"/>
<path d="M544,1603.8 L540.4,1606 L536.3,1606.8 L532.2,1607.8 L528.8,1610.4 L523.8,1640.6 L524,1643.5 L526,1645.7 L528.6,1647.2 L531.5,1646.4 L533.5,1648.3 L535.5,1650.3 L534.3,1652.9 L533.9,1655.7 L526.3,1680.9 L526.5,1683.4 L525.6,1685.8 L525.7,1688.3 L525.3,1690.8 L524.8,1693.3 L524,1695.7 L522.1,1697.5 L521.3,1700 L523,1703.9 L525.3,1707.5 L527.4,1711.1 L528.8,1715.1 L527.9,1717.5 L527.2,1720 L527.1,1722.6 L527.5,1725.2 L529.3,1727.5 L529.7,1730.5 L528.2,1733 L526.3,1735.2 L525.1,1738.3 L525,1741.5 L523.5,1744.5 L523.8,1747.8 L522.6,1750.9 L521.8,1754 L521.5,1757.2 L521.3,1760.4 L523,1762.7 L525.3,1764.4 L526.6,1767.1 L526.4,1770 L528.2,1772.3 L528,1775.2 L528.5,1777.9 L528.8,1780.6 L531,1782.7 L532.8,1785.2 L531.9,1788.2 L532.5,1791.3 L533.5,1794.3 L536.5,1795.4 L538.8,1797 L541.4,1798.2 L545,1798.6 L548.1,1800.4 L550.3,1803.2 L553.8,1804.5 L553.7,1808 L553.8,1811.4 L555.3,1814.8 L554,1818.3 L554,1821 L554.9,1823.6 L556.6,1825.6 L558.6,1827.3 L560.8,1828.6 L562.6,1830.4 L564.2,1832.4 L566.6,1833.4 L568.2,1836 L571.1,1836.8 L570.2,1839.5 L570.2,1842.3 L572.6,1846.5 L574.2,1851.1 L572.3,1854.1 L570.1,1856.8 L569.3,1860.6 L571.7,1863.7 L574.9,1863.9 L577.9,1865.3 L581,1866.1 L584.2,1866.2 L587.1,1867.8 L588.9,1870.6 L590.2,1873.5 L591.8,1876.2 L591,1879.3 L592.9,1881.9 L593.9,1884.6 L594.1,1887.5 L594,1890.3 L594,1893.2 L594.8,1896 L594.3,1898.9 L597.2,1899.8 L600.2,1899.7 L601.5,1902.6 L604.4,1903.9 L605.9,1908.2 L605.9,1912.7 L608.5,1916.9 L606.9,1921.6 L605.7,1925 L605.8,1928.6 L606.4,1932.2 L608.4,1935.2 L609.6,1938 L609.4,1941.2 L608.3,1944 L606.9,1946.7 L609.7,1949.3 L612.5,1952 L614.2,1955.5 L614.5,1959.3 L618.2,1962 L622.4,1963.9 L623.2,1968.8 L627.1,1971.9 L628.9,1974 L628.8,1976.8 L630.4,1979.1 L630.2,1981.8 L631.2,1984.3 L631.5,1986.9 L630.8,1989.6 L632.1,1992.1 L632.5,1994.7 L633.8,1996.9 L634.7,1999.4 L635.5,2001.8 L636.3,2004.4 L638.4,2006.1 L640.9,2007.2 L642.2,2009.7 L640.7,2014.2 L642.6,2018.6 L642.6,2023.2 L644.7,2027.3 L648.2,2030.5 L652.1,2033 L652.8,2037.7 L652.2,2042.4 L654.3,2040.4 L655.3,2037.6 L655.8,2034.8 L657.3,2032.3 L662,2033.5 L664.8,2037.4 L667.1,2040 L668.7,2043 L669,2046.4 L668.3,2049.8 L666.5,2053 L668.3,2056.3 L668,2059.7 L669.9,2062.6 L668.8,2065.7 L668.4,2069 L669.6,2072.4 L667.6,2075.5 L668.9,2078.5 L669.9,2081.7 L672.3,2084.2 L672.4,2087.7 L673.2,2091.7 L674.7,2095.3 L675.7,2099.2 L677.4,2102.8 L679.8,2106.4 L681.1,2110.5 L682.6,2114.4 L685,2118 L687,2121.4 L688.6,2125.1 L688.6,2129.2 L687.5,2133.1 L687.6,2135.9 L688.8,2138.5 L689,2141.3 L688.7,2144.1 L689.3,2146.9 L691.1,2149.2 L694,2150.3 L695.1,2153.2 L697.9,2156.5 L698.6,2160.9 L700.9,2164.4 L702.6,2168.3 L702,2171.1 L700.4,2173.5 L700.8,2176.3 L700.9,2179.2 L698.8,2181.2 L698.5,2184.1 L696.7,2186.3 L695.1,2188.4 L696.1,2192.6 L694.2,2196.3 L696.8,2199.5 L697.6,2203.6 L699.6,2206 L701,2208.9 L703.9,2210.5 L705.1,2213.6 L707.2,2215.7 L710.2,2216.2 L712.2,2218.4 L715.2,2218.7 L718.4,2216.7 L719.6,2213 L721.9,2210.1 L725.3,2208.6 L727.6,2211.3 L730.4,2213.6 L732.8,2216.1 L735.3,2218.7 L737.2,2223 L738.2,2227.7 L742.5,2229.8 L745.4,2233.8 L748.7,2236.7 L748.7,2241.1 L748.9,2245.1 L750.5,2248.9 L752.2,2251 L754.8,2251.7 L753.9,2254.3 L754.9,2256.8 L757.4,2260.7 L760.5,2264 L764.3,2266.3 L765.6,2270.5" fill="none" stroke="#333" stroke-width="1.8" stroke-linejoin="round"/>
<path d="M521.3,1919 L607.9,1935.2" fill="none" stroke="#333" stroke-width="1.8" stroke-linejoin="round"/>
<path d="M526.3,1643.1 L529.4,1643.6 L532.5,1642.8 L535.1,1644.6 L536.5,1647.4 L538.3,1649.6 L539.5,1652.2 L541.3,1654.5 L544,1655.7 L545.2,1658.6 L546.8,1661.3 L550,1660.2 L553,1661.7 L555.9,1663 L558.6,1664.6 L558.2,1667.7 L559.1,1670.8 L563.8,1671.8 L566.8,1675.6 L569.3,1675.9 L571.9,1676.2 L573.3,1678.4 L574.2,1680.9 L576.2,1678.9 L577.1,1676.3 L579.9,1675.5 L581.7,1673.3 L586.2,1675.5 L590,1678.7 L593.7,1682 L596.8,1685.9 L597.4,1689.9 L600.4,1692.6 L602.3,1696.1 L601.9,1700 L605,1700.7 L608.2,1701.2 L611.2,1702.8 L612.9,1705.8 L615.2,1708 L618.3,1709 L621.4,1709.8 L624.5,1710.1 L627,1713.6 L628.6,1717.6 L626.3,1719.9 L624.2,1722.2 L625.2,1725.7 L622.7,1728.4 L620.9,1731 L620.2,1734.1 L619.4,1737.2 L619.5,1740.3 L621.5,1744.1 L620.6,1748.3 L623.1,1751.6 L624.5,1755.4 L623.9,1758.2 L623.4,1761.1 L623.6,1764.1 L624.6,1766.9 L625.4,1769.8 L627.8,1771.7 L629.9,1773.7 L632.1,1775.5 L633.3,1778 L634.5,1780.6 L636.4,1782.6 L637.8,1785 L637.6,1787.9 L637.3,1790.7 L635.8,1793.1 L634.6,1795.7 L642.2,1820.9 L642.9,1823.8 L644.7,1826.3 L644.8,1829.4 L645.8,1832.2 L645.5,1835.4 L647.1,1838.1 L648.8,1840.6 L649.7,1843.5 L652.4,1847.2 L654.8,1851.1 L654.8,1853.9 L653.9,1856.7 L654.9,1859.5 L654.3,1862.4 L653.9,1865.3 L653.4,1868.1 L654.9,1870.7 L654.8,1873.7 L657.2,1877.2 L661,1879.1 L662.8,1882.7 L664.8,1886.3 L665.3,1889.4 L667.6,1891.4 L669.7,1893.4 L671.8,1895.4 L672.8,1898.1 L673.4,1900.9 L674.5,1903.6 L674.9,1906.5 L677.1,1907.8 L678.6,1910 L679.7,1912.3 L680.2,1914.8 L682.4,1916.3 L684.8,1917.2 L685.3,1919.9 L687.5,1921.6 L689.5,1923.7 L690.1,1926.6 L691.1,1929.2 L692,1931.9 L694.2,1933.9 L696.3,1935.9 L698.3,1938.5 L697.6,1941.7 L700.1,1942.4 L702.1,1944.1 L703.8,1946.1 L705.9,1947.6 L706.7,1950 L707.6,1952.4 L710,1954 L710.2,1956.8 L712.9,1958.7 L716.2,1959.3 L717.2,1962.6 L720.2,1964.4 L724,1963.1 L727.8,1961.8 L731.2,1963.3 L734.8,1962.6 L737.3,1965.2 L740.4,1966.9 L740.2,1970.9 L738.8,1974.7 L735.7,1977.7 L735.3,1982 L735.1,1986 L737.2,1989.4 L738.3,1993.2 L737.9,1997.1 L738.6,2001.7 L742.4,2004.3 L743.8,2008.3 L745.4,2012.2 L747.4,2016.8 L751.7,2019.2 L756.3,2020.2 L760.5,2022.3 L762.8,2024.1 L765.6,2023.4 L768,2024.4 L770.6,2024.8 L773.3,2028.9 L772,2033.6 L772.5,2038 L773.1,2042.4 L775.6,2044.5 L778.2,2046.5 L780,2049.3 L780.7,2052.5 L783.9,2052.5 L787,2053.4 L790.2,2053.5 L793.3,2052.5 L794.9,2055.2 L796.1,2058.3 L798.4,2060.4 L800.8,2062.6 L803.2,2065.6 L806.5,2067.7 L808.4,2071.2 L808.4,2075.1 L808.4,2077.9 L808.9,2080.6 L810.6,2082.8 L811.9,2085.2 L808.7,2087.6 L805.9,2090.3 L803.3,2094 L800.6,2097.5 L795.7,2098.6 L793.3,2102.8 L793.5,2105.9 L793,2109 L790.4,2110.7 L788.2,2112.9 L789.9,2116.4 L790.1,2120.3 L792.9,2122.9 L795.8,2125.5 L798,2127.9 L799.9,2130.5 L803,2131.5 L805.9,2133.1 L809.5,2131 L813.7,2131.3 L817.6,2130.4 L821,2128 L816.5,2129.4 L812.2,2131.3 L811.7,2136 L810.9,2140.6 L814.7,2141.4 L818.6,2141.3 L822.2,2142.5 L826,2143.1 L829.5,2144.4 L832.3,2146.9 L832.3,2151.2 L836.1,2153.2 L840.2,2155.2 L843.6,2158.4 L847.2,2161 L851.2,2163.3 L851.5,2167 L851.2,2170.8 L854.7,2172.8 L858.8,2173.1 L862,2176.1 L866.3,2175.9 L867.4,2178.6 L867.7,2181.5 L868.9,2184.2 L871.3,2185.9 L869.3,2190 L869.1,2194.6 L869.2,2199.1 L868.8,2203.6 L872,2206 L875.4,2208.3 L879.2,2210.1 L881.4,2213.6 L885.1,2216.8 L889.9,2217.7 L893,2221.4 L894,2226.2 L896.3,2227.8 L897.9,2230 L898.7,2232.9 L901.4,2234.2 L902.6,2236.7 L903.6,2239.2 L905.3,2241.4 L906.6,2243.8 L908.9,2245.3 L910.3,2247.8 L913,2249.1 L913.4,2252.2 L915.2,2254.1 L917.4,2255.7 L919.6,2257.3 L921.7,2258.9 L923.2,2262.7 L926.2,2265.2 L928.7,2268.1 L931.8,2270.5" fill="none" stroke="#333" stroke-width="1.8" stroke-linejoin="round"/>
<path d="M629.6,1876.2 L633,1875.4 L636.4,1874.5 L638.4,1871.5 L641,1869 L642.3,1865.7 L641.7,1862.2 L643.6,1859.4 L644.7,1856.1 L647.2,1856.5 L649.7,1856.7 L652.3,1856.5 L654.8,1856.1 L656.6,1858.3 L657.1,1861.1 L657,1863.9 L655.9,1866.5 L654.4,1869 L652,1870.6 L652.4,1873.4 L652.2,1876.2 L650.6,1879.9 L647.1,1881.7 L645.4,1885.1 L644.7,1888.8 L644.1,1886.2 L642.7,1884 L640.3,1882.8 L638.2,1881.3 L635.7,1880.2 L632.9,1880.4 L631,1878.5 L629.6,1876.2" fill="none" stroke="#333" stroke-width="1.8" stroke-linejoin="round"/>
<path d="M574.2,1820.9 L576.7,1819.7 L579.2,1818.3 L579.1,1821.6 L580.7,1824.4 L583.5,1826 L586.8,1825.9 L589,1827.6 L590.6,1830 L592,1832.5 L592.1,1835.4 L592.1,1838.3 L591.5,1841.1 L591.7,1844.2 L594.3,1846 L593.8,1849.9 L594.7,1853.7 L596.9,1857.1 L596.8,1861.1 L595.3,1858.5 L595,1855.4 L592.3,1854.1 L589.3,1853.6 L587.2,1850.5 L585.7,1847.2 L584.3,1843.7 L581.7,1841 L583.8,1838.4 L582.5,1835.3 L581.7,1832.5 L580.1,1830.1 L579,1827.5 L577.8,1825 L575.3,1823.5 L574.2,1820.9" fill="none" stroke="#333" stroke-width="1.8" stroke-linejoin="round"/>
<path d="M876.4,1745.3 L877.8,1747.7 L878.9,1750.4 L878.9,1790.6 L882.4,1836 L876.4,1876.2 L872.5,1877.3 L868.8,1878.8 L866.3,1921.6 L864.1,1923.6 L863.8,1926.6 L866.3,1956.8 L863.9,1957.8 L861.4,1958.8 L858.8,1959 L856.2,1959.3 L855.1,1956.1 L852.3,1954.1 L849.4,1952.4 L846.2,1951.8 L843.7,1951.1 L841.1,1951 L838.6,1951 L836.1,1950.8 L832.7,1954 L830,1957.8 L830.5,1960.9 L830.1,1964.1 L828.6,1967.2 L830.2,1970.3 L832.4,1972.5 L834.4,1974.9 L836.9,1976.8 L838.6,1979.5 L839,1982.8 L840.4,1985.9 L842.1,1988.9 L842.1,1992.4 L845,1994.2 L847.7,1996.3 L850.1,1998.8 L851.2,2002.1 L851.2,2004.7 L851.8,2007.2 L853.6,2009.4 L852.9,2012.2 L854.2,2014.5 L855,2017.1 L854.3,2019.6 L853.7,2022.3 L852.3,2025.9 L851.5,2029.7 L851.6,2033.7 L850.2,2037.4 L853.8,2038.4 L857.1,2040.2 L858.4,2043.7 L858.7,2047.5 L861.1,2045.5 L862.8,2043 L865.8,2042.7 L868.8,2042.4 L871.5,2042.5 L874.1,2042.7 L874.7,2045.3 L876.4,2047.5 L879,2047.5 L881.6,2048.1 L884.5,2047.9 L886.4,2050 L888.1,2052.2 L888,2054.9 L888.6,2057.5 L889,2060 L891.5,2063.2 L891.3,2067.2 L895,2068.9 L896.5,2072.6 L896.5,2105.4 L921.7,2112.9 L925.4,2115.4 L926.3,2119.8 L927.1,2123.9 L926.7,2128 L928.2,2132.5 L927.5,2137.1 L930.6,2140.4 L934.3,2143.1 L935.5,2146.8 L935.8,2150.7 L934.6,2153.9 L932.1,2156.4 L932.1,2159.9 L931.8,2163.3 L931.5,2167.1 L932.3,2170.9 L930.7,2174.5 L930.8,2178.4 L934.4,2178.1 L936.6,2180.9 L938.4,2183.7 L938.5,2187 L939.3,2190 L938.5,2192.9 L937.4,2195.6 L936.8,2198.5 L939.9,2201.4 L941.1,2205.4 L944.3,2207.9 L946.9,2211.1 L949.2,2214 L950.8,2217.3 L952.4,2220.7 L954.4,2223.7 L956.4,2227.9 L958.7,2232 L958.2,2236.7 L959.5,2241.3 L963.3,2243.8 L967,2246.4 L969.9,2245.2 L972.5,2243.7 L974.7,2241.6 L977.1,2239.8 L977.4,2243.8 L980.8,2245.8 L984.3,2246.8 L987.2,2248.9 L990.1,2251.1 L993.3,2252.8 L993.8,2256.8 L997.3,2258.9 L998.3,2261.7 L999,2264.6 L998.4,2267.7 L999.8,2270.5" fill="none" stroke="#333" stroke-width="1.8" stroke-linejoin="round"/>
<path d="M811.9,2083.7 L858.7,2057.5 L859.1,2054.7 L860.9,2052.5 L859.8,2050 L858.7,2047.5" fill="none" stroke="#333" stroke-width="1.8" stroke-linejoin="round"/>
<path d="M935.8,2150.7 L938.8,2148.5 L939.7,2144.8 L943.2,2145.1 L946.7,2145.5 L948.4,2148.3 L950.4,2151 L953.7,2150.6 L957,2151.7 L961,2149.1 L965.6,2147.7 L968.9,2144.2 L972.1,2140.6 L972.3,2137.2 L971.4,2133.9 L971.7,2130.3 L974.6,2128 L976.9,2125.6 L980,2124.2 L981.4,2121.2 L982.1,2118 L983,2114.2 L983.8,2110.5 L983.3,2106.5 L984.7,2102.8 L988.6,2102 L992.7,2101.8 L995.8,2099 L999.8,2097.8 L999.8,2094.9 L1000.9,2092.2 L1003,2090.3 L1005.2,2088.5 L1005.3,2085.7 L1004.9,2083.1 L1005.5,2080.4 L1004.8,2077.7 L1007.8,2074.1 L1012.4,2073.6 L1014.2,2075.5 L1016,2077.4 L1018.2,2078.9 L1020.6,2080 L1023.2,2081.1 L1025.6,2082.4 L1026.7,2085 L1027.5,2087.7 L1029.9,2089 L1032.1,2090.7 L1034.9,2091.4 L1037.5,2090.3 L1039.7,2091.5 L1042.2,2092.3 L1043.9,2094.2 L1045.4,2096.2 L1049.5,2099 L1052.7,2102.8 L1056,2103.2 L1059.3,2103.5 L1062.4,2102 L1065.2,2100.3 L1067.2,2103.6 L1070.7,2105 L1074.2,2105.5 L1077.8,2105.4 L1080.5,2107.3 L1083,2109.4 L1086.5,2109 L1089.2,2111.1 L1092.9,2111.5 L1096.6,2111.3 L1098.1,2114.8 L1100,2118 L1100,2116.9 L1122.7,2090.3 L1124.9,2092.5 L1128,2092.7 L1130.8,2093.9 L1133.8,2093.5 L1136.7,2093.4 L1139.6,2093.6 L1142.4,2092.6 L1145.3,2092.8 L1149,2094.6 L1153,2094.9 L1156.2,2097.7 L1160.4,2097.8 L1162.6,2099.9 L1165.6,2100 L1167,2102.5 L1169.5,2103.9 L1170.4,2106.5 L1172,2108.8 L1174.2,2110.4 L1175.5,2112.9 L1176.7,2116.8 L1178.9,2120.2 L1179.2,2124.2 L1180.6,2128 L1181.2,2132.2 L1179.9,2136.2 L1179,2140.4 L1175.5,2143.1 L1175.1,2146.3 L1173.3,2148.9 L1170.9,2150.8 L1168.2,2152.4 L1170.8,2154.5 L1170.8,2157.8 L1171.8,2160.6 L1173,2163.3 L1170.2,2166.6 L1166.2,2168.1 L1164.6,2172 L1163,2175.9 L1164.2,2179.5 L1164.2,2183.4 L1164.8,2187.2 L1165.5,2191 L1164,2194.5 L1160.4,2196 L1162.4,2199.6 L1164.2,2203.3 L1166.8,2206.6 L1170.5,2208.6 L1172.5,2212.7 L1175.3,2216.3 L1177.6,2220.2 L1180.6,2223.7 L1184.6,2226.5 L1188.9,2228.6 L1193.4,2230.7 L1198.2,2231.2 L1199.3,2233.8 L1200.7,2236.3 L1213.3,2209.6 L1216,2208.6 L1218.8,2207.9 L1221.7,2207.4 L1224.6,2207.4 L1227.4,2208.2 L1230.3,2208.2 L1233.1,2208.8 L1236,2208.6 L1240.6,2209.8 L1244.3,2212.8 L1246.8,2212.3 L1249.1,2211.3 L1251.7,2211.8 L1253.6,2213.6 L1255,2216.4 L1255.7,2219.3 L1257.3,2221.9 L1259.5,2224.1 L1262.4,2224.6 L1265.3,2225.4 L1268.3,2225.8 L1271.2,2226.2 L1276,2227.2 L1278.6,2231.3 L1279.3,2235.7 L1281.3,2239.8 L1284,2239.1 L1286.7,2239.5 L1289.4,2239.6 L1291.9,2240.7 L1294.4,2239.7 L1296.3,2237.8 L1298.8,2236.9 L1301.5,2236.3 L1304.2,2237.8 L1305.2,2240.7 L1308.2,2242.4 L1308.2,2245.8 L1309.9,2248.2 L1311.9,2250.4 L1314.8,2251.3 L1316.6,2253.9 L1320.1,2254.2 L1322.6,2256.7 L1325.9,2256.7 L1329.2,2256.4 L1331.7,2260.5 L1333.1,2265 L1337.3,2267.3 L1340.8,2270.5" fill="none" stroke="#333" stroke-width="1.8" stroke-linejoin="round"/>
<path d="M1195.7,1940.7 L1147.8,2014.7 L1152.9,2052.5 L1160.4,2097.8" fill="none" stroke="#333" stroke-width="1.8" stroke-linejoin="round"/>
<path d="M1408.2,2047.5 L1405.4,2048.7 L1402.7,2047.2 L1399.9,2046.6 L1397.2,2047.5 L1395.3,2045.4 L1393.7,2043.1 L1392.2,2040.8 L1390.4,2038.7 L1387.6,2038.1 L1385.1,2037.1 L1382.3,2036.6 L1379.5,2036.4 L1364.4,2060 L1339.2,2070.1 L1339.6,2073.3 L1339,2076.4 L1340.1,2079.5 L1339.2,2082.7 L1342.5,2083.6 L1345.9,2084.4 L1348.5,2086.6 L1351.8,2087.7 L1352,2091.6 L1351.8,2095.5 L1353.3,2099.1 L1354.3,2102.8 L1354.1,2106.3 L1352.2,2109.2 L1348.6,2109.4 L1346,2111.9 L1342.4,2111.8 L1340.5,2114.9 L1337.2,2113.5 L1334.2,2115.4 L1311.5,2130.5 L1312.7,2134.8 L1313.7,2139.2 L1317,2142.4 L1321.6,2143.1 L1322.3,2146 L1324.1,2148.3 L1324.9,2151.1 L1325,2154 L1328.2,2154.6 L1330.2,2157.3 L1330.6,2160.4 L1331.7,2163.3 L1332.4,2166.4 L1332.7,2169.6 L1334.1,2172.6 L1334.2,2175.9 L1337,2178.8 L1339.8,2181.7 L1343.7,2183.2 L1346.8,2185.9 L1346.8,2189.1 L1344.3,2191 L1343.8,2193.9 L1341.8,2196 L1344.3,2197.8 L1346.9,2199.7 L1350.2,2200.6 L1351.8,2203.6 L1356.8,2203.9 L1360.3,2207.5 L1365,2207.6 L1369.5,2206.1 L1371.5,2209.6 L1372,2213.6 L1368.1,2213.9 L1364.4,2212.9 L1360.7,2214.3 L1356.9,2213.6 L1352.8,2213.1 L1351.3,2209.3 L1347.7,2208.4 L1344.9,2206.1 L1341.4,2207.3 L1338.8,2209.8 L1335.1,2209.7 L1331.7,2211.1 L1329.7,2213.6 L1329.4,2216.7 L1330.2,2219.6 L1331.3,2222.4 L1331.8,2225.3 L1332.5,2228.2 L1330.9,2230.8 L1330.7,2233.8 L1331.1,2236.6 L1330.4,2239.4 L1330.6,2242.3 L1329.8,2245.1 L1329.9,2248.2 L1328,2250.7 L1328.4,2253.6 L1329.2,2256.4 L1325.2,2259.3 L1323,2263.6 L1318.7,2266 L1316.6,2270.5" fill="none" stroke="#333" stroke-width="1.8" stroke-linejoin="round"/>
<path d="M1408.2,2047.5 L1405.3,2048.7 L1403.3,2051.2 L1400.1,2051.2 L1397.2,2052.5 L1399.9,2054.9 L1403.3,2056.4 L1405.4,2059.4 L1407.2,2062.6 L1409.8,2092.8 L1411.1,2096.2 L1410,2099.7 L1408.9,2103.2 L1410,2106.6 L1412.3,2109.5 L1415.9,2110.4 L1419.2,2111.4 L1422.3,2112.9 L1423.8,2115.1 L1424.6,2117.7 L1424.8,2120.3 L1425.4,2122.9 L1425.8,2125.4 L1426.4,2128 L1427.7,2130.4 L1427.4,2133.1 L1430.9,2135.9 L1435,2138 L1437.9,2141.8 L1442.5,2143.1 L1442.2,2146.4 L1442.6,2149.7 L1443.8,2152.7 L1445,2155.7 L1448.2,2157.1 L1450.9,2159.3 L1454.2,2160.1 L1457.6,2160.8 L1462,2161.4 L1466.5,2161.5 L1470.6,2159.4 L1475.2,2159.2 L1477.7,2193.5 L1480.7,2196.1 L1483.8,2198.5 L1481,2201.9 L1477.1,2203.8 L1474.9,2207.4 L1472.7,2211.1 L1470.8,2213.1 L1468,2213.1 L1467.2,2215.7 L1464.6,2216.8 L1460.9,2220 L1457.6,2223.7 L1454.9,2223.7 L1452.6,2222.5 L1450.2,2223.9 L1447.5,2223.7 L1446.1,2226.3 L1445,2229.1 L1444.9,2232.1 L1445.1,2235.1 L1442.7,2236.8 L1440.2,2238.5 L1439.7,2241.6 L1437.5,2243.8 L1433.5,2244.7 L1430.2,2247.1 L1426.1,2248.5 L1422.3,2246.4 L1399.7,2261.5 L1401.6,2264 L1404.4,2265.2 L1405.5,2268 L1407.2,2270.5" fill="none" stroke="#333" stroke-width="1.8" stroke-linejoin="round"/>
<path d="M1200.7,2236.3 L1200,2239.4 L1199.3,2242.5 L1199.6,2245.9 L1198.2,2248.9 L1150.4,2253.9 L1149.7,2258.1 L1149.3,2262.3 L1148.6,2266.4 L1147.8,2270.5" fill="none" stroke="#333" stroke-width="1.8" stroke-linejoin="round"/>
<path d="M1565.9,2168.3 L1567,2172 L1566.3,2175.9 L1565.2,2179.6 L1565.9,2183.4 L1564,2185.5 L1563.9,2188.3 L1563.6,2190.9 L1563.6,2193.5 L1563.2,2196.2 L1561.7,2198.4 L1560.2,2200.8 L1560.9,2203.6 L1560.2,2206.2 L1559,2208.7 L1558,2211.3 L1558.2,2214 L1556.9,2216.5 L1555.3,2218.6 L1555.1,2221.5 L1553.3,2223.7 L1553.5,2226.8 L1553.4,2229.8 L1550.7,2231.5 L1549,2234.2 L1546.8,2236 L1545.2,2238.4 L1543.9,2241 L1543.2,2243.8 L1541.5,2247.4 L1540.7,2251.4 L1539.6,2255.2 L1538.2,2258.9 L1537.9,2262.4 L1535.7,2265 L1534.1,2267.9 L1532.1,2270.5" fill="none" stroke="#333" stroke-width="1.8" stroke-linejoin="round"/>
<path d="M282.1,1785.6 L285.9,1785.7 L289.6,1784.6 L291.6,1787.7 L290.8,1791.4 L292.7,1794.7 L291.1,1798.2 L287.4,1801.1 L287.1,1805.7 L285.5,1801.7 L283.1,1798.2 L285.7,1795.4 L285.9,1791.6 L285,1788 L282.1,1785.6" fill="none" stroke="#333" stroke-width="1.8" stroke-linejoin="round"/>
<path d="M453.3,1898.9 L453.1,1896.2 L451.4,1894.1 L452,1891.7 L452.4,1889.1 L454.6,1887.7 L457,1886.4 L458.7,1884.1 L458.3,1881.3 L461,1882.3 L463.4,1883.8 L461.9,1888.2 L463.2,1892.6 L461.6,1897 L463.4,1901.4 L460.9,1902.7 L458.3,1903.9 L456.1,1901.1 L453.3,1898.9" fill="none" stroke="#333" stroke-width="1.8" stroke-linejoin="round"/>
<path d="M2053.6,1857.4 L2056.7,1857 L2059.6,1855.9" fill="none" stroke="#333" stroke-width="1.8" stroke-linejoin="round"/>
<path d="M2064.1,1855.3 L2067,1853.8 L2070.2,1854.4" fill="none" stroke="#333" stroke-width="1.8" stroke-linejoin="round"/>
<path d="M2076.2,1853.8 L2080.9,1853.7 L2085.3,1855" fill="none" stroke="#333" stroke-width="1.8" stroke-linejoin="round"/>
<path d="M2091.3,1855.9 L2095.1,1854.8 L2098.9,1855.3" fill="none" stroke="#333" stroke-width="1.8" stroke-linejoin="round"/>
<path d="M2104.9,1852.9 L2108.5,1853 L2111.9,1852.2 L2115.5,1851.8 L2118.5,1849.9" fill="none" stroke="#333" stroke-width="1.8" stroke-linejoin="round"/>
<path d="M2070.2,1868 L2071.7,1870.2 L2071.4,1872.8 L2072.5,1875.1 L2074.1,1877 L2073.8,1881.6 L2073.2,1886.1 L2071.2,1890.5 L2068.1,1894.3" fill="none" stroke="#333" stroke-width="1.8" stroke-linejoin="round"/>
<path d="M2292.3,1872.5 L2297,1872.5 L2301.4,1871 L2304.8,1872.5 L2308.6,1872.7 L2310.9,1869.7 L2313.5,1867.1 L2315.9,1866.3 L2317.9,1864.7 L2320.1,1863.5 L2322.5,1862.8" fill="none" stroke="#333" stroke-width="1.8" stroke-linejoin="round"/>
<path d="M2550,2195 L2553,2193.2 L2555.7,2191 L2559.2,2189.6 L2562.6,2191 L2565.7,2189 L2568.5,2186.5 L2571.8,2184.8 L2575.2,2183.4 L2579.2,2181.2 L2582.8,2178.4 L2581.7,2183.1 L2577.7,2185.9 L2575.7,2189.3 L2571.9,2190 L2568.2,2190.4 L2565.2,2192.5 L2561.9,2193.3 L2558.8,2194.5 L2555.8,2196 L2552.6,2197 L2550,2195" fill="none" stroke="#333" stroke-width="1.8" stroke-linejoin="round"/>
<path d="M2593.9,2177.4 L2596.7,2177.7 L2599.6,2178.1 L2602.1,2176.3 L2602.9,2173.3" fill="none" stroke="#333" stroke-width="1.8" stroke-linejoin="round"/>
<path d="M2608,2170.8 L2611.4,2170.2 L2612.7,2167.1 L2614.8,2164.5 L2618,2164.3" fill="none" stroke="#333" stroke-width="1.8" stroke-linejoin="round"/>
<path d="M2623.1,2160.8 L2624.7,2158.6 L2626.8,2157 L2627.6,2153.9 L2630.6,2153.2" fill="none" stroke="#333" stroke-width="1.8" stroke-linejoin="round"/>
<path d="M2634.2,2148.2 L2636.5,2146.3 L2637.7,2143.6 L2638.5,2140.9 L2639.2,2138.1" fill="none" stroke="#333" stroke-width="1.8" stroke-linejoin="round"/>
<path d="M2641.2,2133.1 L2643.9,2129.9 L2645,2125.9 L2643.9,2122 L2643.2,2118" fill="none" stroke="#333" stroke-width="1.8" stroke-linejoin="round"/>
<path d="M2527.4,2195 L2530.4,2196.5 L2528.4,2199.5 L2525.9,2197.5 L2527.4,2195" fill="none" stroke="#333" stroke-width="1.8" stroke-linejoin="round"/>
<g clip-path="url(#us)">
<rect x="150" y="300" width="3000" height="2000" fill="url(#base)"/>
<g filter="url(#bw)"><ellipse cx="2350" cy="1250" rx="700" ry="800" fill="#71cd89" opacity="0.6"/><ellipse cx="1900" cy="1500" rx="400" ry="500" fill="#71cd89" opacity="0.6"/><ellipse cx="1650" cy="1850" rx="220" ry="200" fill="#7ad682" opacity="0.8"/><ellipse cx="1250" cy="2000" rx="250" ry="150" fill="#67b7ab" opacity="0.8" transform="rotate(20 1250 2000)"/><ellipse cx="1593.6" cy="1328.5" rx="75.5" ry="166.2" fill="#7ad682" opacity="0.8" transform="rotate(5 1593.6 1328.5)"/><ellipse cx="1251.1" cy="1555.1" rx="100.7" ry="60.4" fill="#71cd89" opacity="0.6"/><ellipse cx="1855.5" cy="1001.1" rx="100.7" ry="60.4" fill="#7ad682" opacity="0.5"/><ellipse cx="2087.2" cy="1051.5" rx="60.4" ry="45.3" fill="#96dc86" opacity="0.8"/><ellipse cx="2592.9" cy="925.5" rx="131" ry="45.3" fill="#67b7ab" opacity="0.9" transform="rotate(-12 2592.9 925.5)"/><ellipse cx="2502.2" cy="1212.6" rx="75.5" ry="95.7" fill="#6bc09c" opacity="0.8" transform="rotate(-35 2502.2 1212.6)"/><ellipse cx="2290.7" cy="1313.4" rx="90.7" ry="45.3" fill="#6bc09c" opacity="0.8" transform="rotate(-15 2290.7 1313.4)"/><ellipse cx="2764.1" cy="755.5" rx="70.5" ry="60.4" fill="#67b7ab" opacity="0.8"/><ellipse cx="2915.2" cy="579.2" rx="60.4" ry="100.7" fill="#6bc09c" opacity="0.7" transform="rotate(10 2915.2 579.2)"/><ellipse cx="1427.4" cy="654.8" rx="261.9" ry="166.2" fill="#69bca5" opacity="0.85"/><ellipse cx="2177.7" cy="720.6" rx="45.3" ry="15.1" fill="#67b7ab" opacity="0.6"/><ellipse cx="201.5" cy="975.9" rx="35.3" ry="141" fill="#7ad682" opacity="0.9" transform="rotate(-8 201.5 975.9)"/><ellipse cx="352.6" cy="1152.2" rx="30.2" ry="166.2" fill="#6bc09c" opacity="0.8" transform="rotate(-18 352.6 1152.2)"/><ellipse cx="805.9" cy="1101.8" rx="55.4" ry="131" fill="#71cd89" opacity="0.8" transform="rotate(15 805.9 1101.8)"/><ellipse cx="1057.7" cy="1132.1" rx="45.3" ry="80.6" fill="#71cd89" opacity="0.7"/><ellipse cx="795.8" cy="1464.5" rx="35.3" ry="125.9" fill="#6bc09c" opacity="0.8" transform="rotate(-25 795.8 1464.5)"/><ellipse cx="377.7" cy="1444.3" rx="80.6" ry="25.2" fill="#6bc09c" opacity="0.7" transform="rotate(15 377.7 1444.3)"/><ellipse cx="745.4" cy="629.6" rx="75.5" ry="151.1" fill="#6bc09c" opacity="0.5" transform="rotate(-10 745.4 629.6)"/><ellipse cx="669.9" cy="785.7" rx="35.3" ry="60.4" fill="#71cd89" opacity="0.5"/><ellipse cx="1120.1" cy="1227.7" rx="25.2" ry="141" fill="#71cd89" opacity="0.7"/><ellipse cx="2011.5" cy="741.8" rx="151.1" ry="60.4" fill="#6bc09c" opacity="0.7"/><ellipse cx="2208" cy="787.1" rx="60.4" ry="45.3" fill="#6bc09c" opacity="0.5"/><ellipse cx="394.1" cy="480.7" rx="64.5" ry="96.7" fill="#84d886" opacity="0.95"/><ellipse cx="341.8" cy="662.1" rx="64.5" ry="116.8" fill="#84d886" transform="rotate(-15 341.8 662.1)"/><ellipse cx="269.2" cy="782.9" rx="52.4" ry="52.4" fill="#7ad682" opacity="0.8"/><ellipse cx="200.7" cy="944.1" rx="36.3" ry="120.9" fill="#7ad682" opacity="0.85" transform="rotate(-5 200.7 944.1)"/><ellipse cx="676.2" cy="791" rx="36.3" ry="60.4" fill="#71cd89" opacity="0.6"/><ellipse cx="2009.8" cy="1222.9" rx="52.4" ry="104.8" fill="#6cc496" opacity="0.8" transform="rotate(10 2009.8 1222.9)"/><ellipse cx="2263.7" cy="1323.7" rx="141" ry="52.4" fill="#6cc496" opacity="0.8" transform="rotate(-5 2263.7 1323.7)"/><ellipse cx="2485.3" cy="1222.9" rx="104.8" ry="104.8" fill="#6bc09c" opacity="0.7" transform="rotate(-30 2485.3 1222.9)"/><ellipse cx="2565.9" cy="1021.5" rx="120.9" ry="92.7" fill="#6bc09c" opacity="0.7" transform="rotate(-10 2565.9 1021.5)"/><ellipse cx="2364.4" cy="1448.6" rx="64.5" ry="36.3" fill="#6bc09c" opacity="0.7" transform="rotate(-25 2364.4 1448.6)"/><ellipse cx="2283.8" cy="880.4" rx="88.6" ry="60.4" fill="#6cc496" opacity="0.7"/><ellipse cx="1860.7" cy="844.2" rx="104.8" ry="44.3" fill="#6cc496" opacity="0.7"/><ellipse cx="2344.2" cy="1122.2" rx="92.7" ry="72.5" fill="#6ec890" opacity="0.7"/><ellipse cx="1840.6" cy="1122.2" rx="92.7" ry="193.4" fill="#7ad682" opacity="0.6"/><ellipse cx="2142.8" cy="1142.3" rx="44.3" ry="92.7" fill="#7ad682" opacity="0.6"/><ellipse cx="2090.4" cy="1061.8" rx="48.4" ry="32.2" fill="#96dc86" opacity="0.8" transform="rotate(-10 2090.4 1061.8)"/><ellipse cx="2098.5" cy="1057.7" rx="36.3" ry="22.2" fill="#b4e28c" opacity="0.6" transform="rotate(-10 2098.5 1057.7)"/><ellipse cx="2302.9" cy="1862.6" rx="362.6" ry="282.1" fill="#7ad682" opacity="0.5"/><ellipse cx="2282.8" cy="1552.4" rx="153.1" ry="60.4" fill="#6bc09c" opacity="0.85" transform="rotate(-5 2282.8 1552.4)"/><ellipse cx="2435.9" cy="1741.8" rx="92.7" ry="76.6" fill="#6cc496" opacity="0.9" transform="rotate(-20 2435.9 1741.8)"/><ellipse cx="1960.4" cy="1701.5" rx="44.3" ry="84.6" fill="#6bc09c" opacity="0.8" transform="rotate(10 1960.4 1701.5)"/><ellipse cx="2552.7" cy="1983.5" rx="68.5" ry="161.2" fill="#b4e28c" transform="rotate(-25 2552.7 1983.5)"/><ellipse cx="2141.8" cy="1701.5" rx="76.6" ry="100.7" fill="#b4e28c" opacity="0.85" transform="rotate(10 2141.8 1701.5)"/><ellipse cx="2020.9" cy="1576.6" rx="72.5" ry="48.4" fill="#b4e28c" opacity="0.75"/><ellipse cx="2222.3" cy="1822.3" rx="112.8" ry="28.2" fill="#d4e494" opacity="0.95" transform="rotate(-5 2222.3 1822.3)"/><ellipse cx="2544.7" cy="1580.6" rx="52.4" ry="88.6" fill="#b4e28c" opacity="0.95" transform="rotate(30 2544.7 1580.6)"/><ellipse cx="1960.4" cy="1882.8" rx="60.4" ry="48.4" fill="#96dc86" opacity="0.7"/></g>
<g filter="url(#bm)"><ellipse cx="430.4" cy="424.3" rx="16.1" ry="16.1" fill="#96dc86" opacity="0.8"/><ellipse cx="438.5" cy="484.8" rx="20.1" ry="44.3" fill="#b4e28c" opacity="0.9" transform="rotate(5 438.5 484.8)"/><ellipse cx="438.5" cy="480.7" rx="8.1" ry="12.1" fill="#e8e09c" opacity="0.6"/><ellipse cx="414.3" cy="537.1" rx="10.1" ry="10.1" fill="#e8e09c" opacity="0.6"/><ellipse cx="382.1" cy="585.5" rx="20.1" ry="20.1" fill="#b4e28c" opacity="0.9"/><ellipse cx="382.1" cy="583.5" rx="10.1" ry="8.9" fill="#e8e09c" opacity="0.8"/><ellipse cx="382.1" cy="633.8" rx="14.1" ry="10.1" fill="#b4e28c" opacity="0.7"/><ellipse cx="337.7" cy="529.1" rx="38.3" ry="30.2" fill="#e8e09c"/><ellipse cx="390.1" cy="513" rx="20.1" ry="24.2" fill="#b4e28c" opacity="0.7"/><ellipse cx="309.5" cy="621.8" rx="24.2" ry="64.5" fill="#e8e09c" opacity="0.9" transform="rotate(-12 309.5 621.8)"/><ellipse cx="341.8" cy="670.1" rx="20.1" ry="24.2" fill="#b4e28c" opacity="0.8"/><ellipse cx="277.3" cy="722.5" rx="20.1" ry="32.2" fill="#e8e09c" opacity="0.8" transform="rotate(-20 277.3 722.5)"/><ellipse cx="325.6" cy="710.4" rx="12.1" ry="12.1" fill="#b4e28c" opacity="0.7"/><ellipse cx="357.9" cy="597.6" rx="16.1" ry="24.2" fill="#96dc86" opacity="0.7"/><ellipse cx="214.8" cy="782.9" rx="10.1" ry="18.1" fill="#e8e09c" opacity="0.8"/><ellipse cx="220.9" cy="823.2" rx="20.1" ry="20.1" fill="#96dc86" opacity="0.7"/><ellipse cx="172.5" cy="948.1" rx="8.9" ry="16.1" fill="#e8e09c" opacity="0.7"/><ellipse cx="190.7" cy="992.5" rx="10.1" ry="18.1" fill="#e8e09c" opacity="0.6" transform="rotate(-10 190.7 992.5)"/><ellipse cx="208.8" cy="903.8" rx="16.1" ry="32.2" fill="#96dc86" opacity="0.6"/><ellipse cx="680.2" cy="782.9" rx="20.1" ry="36.3" fill="#96dc86" opacity="0.6"/><ellipse cx="603.7" cy="863.5" rx="16.1" ry="16.1" fill="#96dc86" opacity="0.5"/><ellipse cx="835.3" cy="992.5" rx="8.1" ry="28.2" fill="#96dc86" opacity="0.7" transform="rotate(5 835.3 992.5)"/><ellipse cx="893.8" cy="883.7" rx="8.1" ry="48.4" fill="#96dc86" opacity="0.6" transform="rotate(5 893.8 883.7)"/><ellipse cx="825.3" cy="573.4" rx="32.2" ry="40.3" fill="#71cd89" opacity="0.5" transform="rotate(-20 825.3 573.4)"/><ellipse cx="595.6" cy="702.3" rx="12.1" ry="20.1" fill="#71cd89" opacity="0.5"/><ellipse cx="494.9" cy="863.5" rx="8.1" ry="16.1" fill="#96dc86" opacity="0.5" transform="rotate(-30 494.9 863.5)"/><ellipse cx="1042.9" cy="1157.9" rx="22.2" ry="18.1" fill="#96dc86" opacity="0.8"/><ellipse cx="1077.2" cy="1101.5" rx="7.3" ry="32.2" fill="#96dc86" opacity="0.8"/><ellipse cx="1129.6" cy="1157.9" rx="8.9" ry="8.9" fill="#b4e28c" opacity="0.8"/><ellipse cx="1002.6" cy="1214.3" rx="24.2" ry="8.9" fill="#96dc86" opacity="0.7" transform="rotate(-15 1002.6 1214.3)"/><ellipse cx="1117.5" cy="1302.9" rx="10.1" ry="44.3" fill="#96dc86" opacity="0.6" transform="rotate(-15 1117.5 1302.9)"/><ellipse cx="1055" cy="1339.2" rx="14.1" ry="32.2" fill="#96dc86" opacity="0.7" transform="rotate(-20 1055 1339.2)"/><ellipse cx="1099.3" cy="1061.2" rx="16.1" ry="16.1" fill="#96dc86" opacity="0.6"/><ellipse cx="889.8" cy="952.4" rx="10.1" ry="44.3" fill="#96dc86" opacity="0.6" transform="rotate(5 889.8 952.4)"/><ellipse cx="958.3" cy="928.2" rx="16.1" ry="32.2" fill="#96dc86" opacity="0.5" transform="rotate(-25 958.3 928.2)"/><ellipse cx="833.4" cy="980.6" rx="8.1" ry="28.2" fill="#96dc86" opacity="0.7" transform="rotate(10 833.4 980.6)"/><ellipse cx="881.8" cy="1081.3" rx="44.3" ry="14.1" fill="#96dc86" opacity="0.7" transform="rotate(10 881.8 1081.3)"/><ellipse cx="901.9" cy="1182.1" rx="12.1" ry="16.1" fill="#96dc86" opacity="0.7"/><ellipse cx="924.1" cy="1242.5" rx="5.6" ry="8.1" fill="#b4e28c" opacity="0.7"/><ellipse cx="889.8" cy="1286.8" rx="16.1" ry="10.1" fill="#96dc86" opacity="0.6"/><ellipse cx="773" cy="1109.5" rx="12.1" ry="48.4" fill="#96dc86" opacity="0.5" transform="rotate(10 773 1109.5)"/><ellipse cx="720.6" cy="952.4" rx="24.2" ry="12.1" fill="#96dc86" opacity="0.4"/><ellipse cx="1224.2" cy="1520.5" rx="48.4" ry="24.2" fill="#96dc86" opacity="0.8"/><ellipse cx="1228.3" cy="1516.5" rx="12.1" ry="5.6" fill="#e8e09c" opacity="0.7"/><ellipse cx="1252.5" cy="1532.6" rx="10.1" ry="4.8" fill="#e8e09c" opacity="0.7"/><ellipse cx="1284.7" cy="1560.8" rx="48.4" ry="20.1" fill="#7ad682" opacity="0.8"/><ellipse cx="740.7" cy="1363.4" rx="10.1" ry="32.2" fill="#96dc86" opacity="0.5" transform="rotate(-10 740.7 1363.4)"/><ellipse cx="768.9" cy="1464.1" rx="24.2" ry="48.4" fill="#71cd89" opacity="0.7" transform="rotate(-20 768.9 1464.1)"/><ellipse cx="857.6" cy="1560.8" rx="12.1" ry="20.1" fill="#7ad682" opacity="0.9"/><ellipse cx="700.4" cy="1504.4" rx="16.1" ry="40.3" fill="#71cd89" opacity="0.5"/><ellipse cx="918" cy="1403.7" rx="6" ry="24.2" fill="#96dc86" opacity="0.5"/><ellipse cx="1099.3" cy="1435.9" rx="10.1" ry="24.2" fill="#96dc86" opacity="0.5" transform="rotate(-20 1099.3 1435.9)"/><ellipse cx="1345.1" cy="1282.8" rx="24.2" ry="16.1" fill="#96dc86" opacity="0.5"/><ellipse cx="2528.6" cy="1943.2" rx="44.3" ry="64.5" fill="#b4e28c" opacity="0.9" transform="rotate(-20 2528.6 1943.2)"/><ellipse cx="2585" cy="2084.2" rx="48.4" ry="44.3" fill="#b4e28c" opacity="0.9"/><ellipse cx="2524.5" cy="2023.8" rx="20.1" ry="24.2" fill="#e8e09c" opacity="0.5"/><ellipse cx="2621.2" cy="1983.5" rx="12.1" ry="60.4" fill="#b4e28c" opacity="0.8" transform="rotate(-20 2621.2 1983.5)"/><ellipse cx="2141.8" cy="1721.6" rx="48.4" ry="60.4" fill="#b4e28c" opacity="0.8" transform="rotate(15 2141.8 1721.6)"/><ellipse cx="2182.1" cy="1641" rx="40.3" ry="40.3" fill="#96dc86" opacity="0.7"/><ellipse cx="2544.7" cy="1620.9" rx="28.2" ry="52.4" fill="#b4e28c" opacity="0.9" transform="rotate(35 2544.7 1620.9)"/><ellipse cx="2125.6" cy="1778" rx="44.3" ry="32.2" fill="#e8e09c" opacity="0.8"/><ellipse cx="2182.1" cy="1741.8" rx="36.3" ry="24.2" fill="#b4e28c" opacity="0.8" transform="rotate(-20 2182.1 1741.8)"/><ellipse cx="2073.3" cy="1828.4" rx="16.1" ry="12.1" fill="#e4c88c" opacity="0.8"/><ellipse cx="2109.5" cy="1830.4" rx="16.1" ry="12.1" fill="#e8e09c" opacity="0.8"/><ellipse cx="2206.2" cy="1818.3" rx="52.4" ry="16.1" fill="#e8e09c" opacity="0.8" transform="rotate(-5 2206.2 1818.3)"/><ellipse cx="2294.9" cy="1854.6" rx="24.2" ry="16.1" fill="#b4e28c" opacity="0.7"/><ellipse cx="2307" cy="1761.9" rx="28.2" ry="28.2" fill="#96dc86" opacity="0.7"/><ellipse cx="2496.3" cy="1927.1" rx="32.2" ry="44.3" fill="#e8e09c" opacity="0.8" transform="rotate(-10 2496.3 1927.1)"/><ellipse cx="2528.6" cy="2003.7" rx="24.2" ry="32.2" fill="#b4e28c" opacity="0.7"/><ellipse cx="2585" cy="2023.8" rx="24.2" ry="40.3" fill="#7ad682" opacity="0.8" transform="rotate(-10 2585 2023.8)"/><ellipse cx="2560.8" cy="2092.3" rx="40.3" ry="28.2" fill="#e8e09c" opacity="0.9" transform="rotate(20 2560.8 2092.3)"/><ellipse cx="2621.2" cy="2084.2" rx="12.1" ry="36.3" fill="#e8e09c" opacity="0.8"/><ellipse cx="2609.2" cy="1963.4" rx="16.1" ry="48.4" fill="#b4e28c" opacity="0.7" transform="rotate(-25 2609.2 1963.4)"/><ellipse cx="2576.9" cy="1576.6" rx="28.2" ry="68.5" fill="#e8e09c" opacity="0.9" transform="rotate(28 2576.9 1576.6)"/><ellipse cx="2512.5" cy="1556.4" rx="32.2" ry="36.3" fill="#b4e28c" opacity="0.7"/><ellipse cx="2528.6" cy="1653.1" rx="16.1" ry="24.2" fill="#b4e28c" opacity="0.7" transform="rotate(30 2528.6 1653.1)"/><ellipse cx="2000.7" cy="1894.9" rx="24.2" ry="16.1" fill="#e8e09c" opacity="0.6"/><ellipse cx="1940.3" cy="1927.1" rx="32.2" ry="12.1" fill="#b4e28c" opacity="0.8" transform="rotate(10 1940.3 1927.1)"/><ellipse cx="2041" cy="1927.1" rx="16.1" ry="12.1" fill="#b4e28c" opacity="0.8"/><ellipse cx="2033" cy="1600.7" rx="36.3" ry="24.2" fill="#b4e28c" opacity="0.6"/><ellipse cx="176.3" cy="950.7" rx="9.1" ry="20.1" fill="#e8e09c" opacity="0.7"/><ellipse cx="190.4" cy="998.6" rx="8.1" ry="17.6" fill="#e8e09c" opacity="0.6"/><ellipse cx="826" cy="1016.2" rx="15.1" ry="45.3" fill="#96dc86" opacity="0.8" transform="rotate(15 826 1016.2)"/><ellipse cx="805.9" cy="1152.2" rx="20.1" ry="75.5" fill="#96dc86" opacity="0.8" transform="rotate(25 805.9 1152.2)"/><ellipse cx="822" cy="1157.2" rx="7.1" ry="12.6" fill="#e8e09c" opacity="0.8" transform="rotate(20 822 1157.2)"/><ellipse cx="791.8" cy="1212.6" rx="5" ry="9.1" fill="#e8e09c" opacity="0.6"/><ellipse cx="1062.7" cy="1101.8" rx="12.6" ry="40.3" fill="#96dc86" opacity="0.6"/><ellipse cx="856.2" cy="1555.1" rx="8.1" ry="15.1" fill="#96dc86" opacity="0.7"/><ellipse cx="904.1" cy="1605.5" rx="6" ry="10.1" fill="#96dc86" opacity="0.6"/><ellipse cx="1130.2" cy="1157.2" rx="7.1" ry="8.1" fill="#e8e09c" opacity="0.7"/><ellipse cx="1115.1" cy="1293.2" rx="7.1" ry="30.2" fill="#96dc86" opacity="0.6"/><ellipse cx="1603.7" cy="1368.8" rx="35.3" ry="45.3" fill="#96dc86" opacity="0.7"/><ellipse cx="1553.3" cy="1192.5" rx="25.2" ry="20.1" fill="#96dc86" opacity="0.5"/><ellipse cx="1251.1" cy="1535" rx="30.2" ry="15.1" fill="#96dc86" opacity="0.6"/><ellipse cx="1326.6" cy="1595.4" rx="25.2" ry="15.1" fill="#96dc86" opacity="0.5"/><ellipse cx="2102.3" cy="1061.5" rx="25.2" ry="20.1" fill="#b4e28c" opacity="0.6"/><ellipse cx="1870.6" cy="993.5" rx="15.1" ry="7.6" fill="#96dc86" opacity="0.6"/><ellipse cx="1670.2" cy="1842.2" rx="97.7" ry="65.2" fill="#b4e28c" opacity="0.85" transform="rotate(-15 1670.2 1842.2)"/><ellipse cx="1732.4" cy="1877.7" rx="41.5" ry="29.6" fill="#e8e09c" opacity="0.85" transform="rotate(-20 1732.4 1877.7)"/><ellipse cx="1747.2" cy="1895.5" rx="14.8" ry="11.8" fill="#e4c88c" opacity="0.8"/><ellipse cx="1625.8" cy="1824.4" rx="35.5" ry="26.7" fill="#e8e09c" opacity="0.4"/><ellipse cx="1640.6" cy="1960.6" rx="65.2" ry="17.8" fill="#b4e28c" opacity="0.9" transform="rotate(-30 1640.6 1960.6)"/><ellipse cx="1581.3" cy="1984.3" rx="26.7" ry="14.8" fill="#e8e09c" opacity="0.7" transform="rotate(-30 1581.3 1984.3)"/><ellipse cx="1507.3" cy="2034.7" rx="88.8" ry="23.7" fill="#e8e09c" opacity="0.95" transform="rotate(-35 1507.3 2034.7)"/><ellipse cx="1433.3" cy="2093.9" rx="17.8" ry="35.5" fill="#e8e09c" opacity="0.8" transform="rotate(-25 1433.3 2093.9)"/><ellipse cx="1522.1" cy="1848.1" rx="59.2" ry="103.7" fill="#7ad682" opacity="0.6" transform="rotate(10 1522.1 1848.1)"/><ellipse cx="1956.2" cy="1831" rx="45.3" ry="25.2" fill="#96dc86" opacity="0.7"/><ellipse cx="1905.9" cy="1911.5" rx="30.2" ry="12.6" fill="#b4e28c" opacity="0.7" transform="rotate(10 1905.9 1911.5)"/><ellipse cx="2006.6" cy="1916.6" rx="35.3" ry="12.6" fill="#b4e28c" opacity="0.8"/><ellipse cx="2703.7" cy="1444.3" rx="40.3" ry="55.4" fill="#e8e09c" opacity="0.8" transform="rotate(35 2703.7 1444.3)"/><ellipse cx="2693.6" cy="1278.1" rx="35.3" ry="60.4" fill="#b4e28c" opacity="0.7" transform="rotate(10 2693.6 1278.1)"/><ellipse cx="2754" cy="1147.2" rx="22.7" ry="45.3" fill="#e8e09c" opacity="0.9" transform="rotate(10 2754 1147.2)"/><ellipse cx="2774.2" cy="1066.6" rx="15.1" ry="30.2" fill="#96dc86" opacity="0.7"/><ellipse cx="2779.2" cy="1111.9" rx="11.1" ry="15.1" fill="#e4c88c" opacity="0.8"/><ellipse cx="2995.8" cy="654.8" rx="25.2" ry="15.1" fill="#b4e28c" opacity="0.8" transform="rotate(-30 2995.8 654.8)"/><ellipse cx="2945.4" cy="725.3" rx="25.2" ry="15.1" fill="#96dc86" opacity="0.7" transform="rotate(-40 2945.4 725.3)"/><ellipse cx="2854.8" cy="725.3" rx="10.1" ry="10.1" fill="#96dc86" opacity="0.7"/><ellipse cx="2653.3" cy="815.9" rx="20.1" ry="25.2" fill="#96dc86" opacity="0.8"/></g>
<g filter="url(#bf)"><ellipse cx="2601.1" cy="1552.4" rx="11.3" ry="30.2" fill="#d49a68" transform="rotate(25 2601.1 1552.4)"/><ellipse cx="2603.1" cy="1560.4" rx="5.6" ry="16.1" fill="#c06848" opacity="0.9" transform="rotate(25 2603.1 1560.4)"/><ellipse cx="2564.8" cy="1598.7" rx="8.9" ry="15.3" fill="#d49a68" transform="rotate(20 2564.8 1598.7)"/><ellipse cx="2566.8" cy="1600.7" rx="4" ry="7.3" fill="#c06848" opacity="0.7" transform="rotate(20 2566.8 1600.7)"/><ellipse cx="2472.2" cy="1955.3" rx="12.9" ry="15.3" fill="#e4c88c" opacity="0.9" transform="rotate(-20 2472.2 1955.3)"/><ellipse cx="2474.2" cy="1953.3" rx="7.3" ry="8.9" fill="#d49a68" opacity="0.8" transform="rotate(-20 2474.2 1953.3)"/><ellipse cx="2462.1" cy="1977.5" rx="4.8" ry="5.6" fill="#d49a68" opacity="0.8"/><ellipse cx="2560.8" cy="2092.3" rx="16.1" ry="9.7" fill="#e4c88c" opacity="0.9" transform="rotate(25 2560.8 2092.3)"/><ellipse cx="2597.1" cy="2126.6" rx="9.7" ry="5.6" fill="#d49a68" opacity="0.8"/><ellipse cx="2630.1" cy="2100.4" rx="4" ry="11.3" fill="#e4c88c" opacity="0.8"/><ellipse cx="2544.7" cy="2080.2" rx="5.6" ry="5.6" fill="#e4c88c" opacity="0.8"/><ellipse cx="2581" cy="2104.4" rx="8.1" ry="4.8" fill="#d49a68" opacity="0.6"/><ellipse cx="2075.3" cy="1832.4" rx="8.9" ry="5.6" fill="#d49a68" opacity="0.8" transform="rotate(30 2075.3 1832.4)"/><ellipse cx="335.7" cy="456.6" rx="38.3" ry="56.4" fill="#e4c88c" transform="rotate(-8 335.7 456.6)"/><ellipse cx="329.7" cy="448.5" rx="28.2" ry="46.3" fill="#a83030" transform="rotate(-8 329.7 448.5)"/><ellipse cx="345.8" cy="458.6" rx="22.6" ry="34.7" fill="#640020" transform="rotate(-30 345.8 458.6)"/><ellipse cx="317.6" cy="410.2" rx="4.8" ry="6" fill="#640020"/><ellipse cx="351.8" cy="511" rx="5.6" ry="5.6" fill="#d49a68" opacity="0.9"/><ellipse cx="319.6" cy="535.1" rx="4.8" ry="4.8" fill="#d49a68" opacity="0.8"/><ellipse cx="305.5" cy="599.6" rx="11.3" ry="32.2" fill="#d49a68" opacity="0.95" transform="rotate(-10 305.5 599.6)"/><ellipse cx="307.5" cy="581.5" rx="5.6" ry="10.1" fill="#c06848" opacity="0.9"/><ellipse cx="284.5" cy="643.9" rx="8.1" ry="14.1" fill="#a83030" opacity="0.95" transform="rotate(-10 284.5 643.9)"/><ellipse cx="285.3" cy="641.9" rx="4" ry="7.3" fill="#7c1024" opacity="0.8" transform="rotate(-10 285.3 641.9)"/><ellipse cx="273.3" cy="686.2" rx="14.1" ry="30.2" fill="#d49a68" opacity="0.95" transform="rotate(-22 273.3 686.2)"/><ellipse cx="275.3" cy="678.2" rx="6.4" ry="12.1" fill="#c06848" opacity="0.7" transform="rotate(-20 275.3 678.2)"/><ellipse cx="249.9" cy="728.5" rx="4.8" ry="5.6" fill="#d49a68" opacity="0.9"/><ellipse cx="214.8" cy="778.9" rx="5.6" ry="10.1" fill="#e4c88c" opacity="0.8"/><ellipse cx="1483.6" cy="2108.7" rx="50.3" ry="50.3" fill="#e4c88c" transform="rotate(-30 1483.6 2108.7)"/><ellipse cx="1495.5" cy="2105.7" rx="44.4" ry="47.4" fill="#d49a68" opacity="0.9" transform="rotate(-30 1495.5 2105.7)"/><ellipse cx="1519.2" cy="2105.7" rx="38.5" ry="62.2" fill="#c06848" transform="rotate(-20 1519.2 2105.7)"/><ellipse cx="1534" cy="2102.8" rx="29.6" ry="71.1" fill="#a83030" transform="rotate(-8 1534 2102.8)"/><ellipse cx="1477.7" cy="2120.5" rx="8.9" ry="8.9" fill="#a83030" opacity="0.7"/><ellipse cx="1504.3" cy="2088" rx="11.8" ry="11.8" fill="#a83030" opacity="0.7"/><ellipse cx="1465.8" cy="2082" rx="8.9" ry="8.9" fill="#c06848" opacity="0.7"/><ellipse cx="1507.3" cy="2129.4" rx="8.9" ry="7.4" fill="#e4c88c" opacity="0.7"/><ellipse cx="1551.7" cy="2055.4" rx="17.8" ry="41.5" fill="#7c1024" transform="rotate(12 1551.7 2055.4)"/><ellipse cx="1554.7" cy="2120.5" rx="17.8" ry="56.3" fill="#7c1024" transform="rotate(-3 1554.7 2120.5)"/><ellipse cx="1551.7" cy="2076.1" rx="11.8" ry="38.5" fill="#640020" transform="rotate(8 1551.7 2076.1)"/><ellipse cx="1554.7" cy="2141.3" rx="10.4" ry="32.6" fill="#640020" transform="rotate(-5 1554.7 2141.3)"/><ellipse cx="1578.4" cy="2011" rx="20.7" ry="8.9" fill="#c06848" opacity="0.9" transform="rotate(-35 1578.4 2011)"/><ellipse cx="1596.2" cy="1999.1" rx="14.8" ry="6.5" fill="#d49a68" opacity="0.9" transform="rotate(-35 1596.2 1999.1)"/><ellipse cx="2749" cy="1157.2" rx="15.1" ry="22.7" fill="#d49a68" transform="rotate(10 2749 1157.2)"/><ellipse cx="2751.5" cy="1157.2" rx="9.1" ry="15.1" fill="#c06848" transform="rotate(10 2751.5 1157.2)"/></g>
<path d="M214.1,1121.9 L218.2,1121.7 L221.6,1119.4 L223.2,1122.1 L225.1,1124.4 L222.9,1128.8 L219.1,1132 L218.7,1134.6 L217.6,1137 L217.8,1139.7 L216.6,1142.1 L218.7,1145.8 L220.1,1149.7 L224.1,1152.4 L224.1,1157.2 L223.8,1160.1 L225.2,1162.7 L224.1,1165.6 L225.6,1168.2 L223.3,1166.2 L220.6,1164.7 L218.7,1161.6 L218.4,1157.9 L214.6,1156.2 L214.1,1152.1 L213.7,1148.9 L213.5,1145.7 L211.7,1142.9 L211.5,1139.5 L212.6,1137 L214.1,1134.7 L215.5,1132.3 L215.6,1129.5Z" fill="#fff"/>
<path d="M2715,1355.9 L2718.8,1353.4 L2723.2,1354.1 L2726.3,1353.5 L2729.3,1352.6 L2731.7,1350.6 L2734.1,1348.6 L2736.7,1347.2 L2739.6,1347.2 L2742.7,1347.2 L2744.9,1345 L2747.7,1345.1 L2750.5,1345.3 L2753,1344.1 L2755.8,1344.1 L2759.5,1344 L2763.1,1344.1 L2765.1,1347.9 L2768.5,1350.4 L2771.2,1351.8 L2774,1353.2 L2770.3,1352.7 L2766.7,1352.2 L2763.2,1350.5 L2759.5,1349.5 L2756.7,1353.2 L2756.1,1355.9 L2756.8,1358.6 L2758.2,1361.2 L2757.6,1364 L2756.3,1366.3 L2755.9,1368.9 L2755.1,1371.4 L2755.8,1374 L2755.9,1371.4 L2755,1368.9 L2754.8,1366.1 L2753.1,1364 L2754.1,1361 L2753,1358.1 L2752,1355.3 L2752.2,1352.2 L2749.7,1353.6 L2747,1354.8 L2744.2,1354.5 L2741.3,1354.1 L2739.4,1356.7 L2736.2,1357.2 L2733.5,1358.5 L2730.4,1358.6 L2727.5,1359.5 L2724.4,1358.7 L2721.9,1360.3 L2719.6,1362.2 L2715,1361.3Z" fill="#fff"/>
<path d="M2774.9,1355 L2776.9,1357.3 L2779.2,1359.3 L2781.6,1361.2 L2783,1364 L2784.8,1366.5 L2786.3,1369 L2786.1,1372.1 L2787.6,1374.9 L2787.6,1377.8 L2789.2,1380.2 L2788.2,1382.9 L2788.8,1385.8 L2788.7,1390.1 L2788.8,1394.5 L2787.2,1398 L2785.2,1401.2 L2781.3,1401.3 L2777.6,1402.5 L2774.8,1405 L2771.6,1407.1 L2768.9,1410 L2764.9,1410.6 L2761.9,1412.1 L2759.3,1414.2 L2758.5,1417.4 L2757.6,1420.6 L2756.8,1423.8 L2756.1,1427.1 L2752.8,1428.2 L2750.7,1431.1 L2749.4,1426.6 L2748.6,1422 L2745,1421 L2741.3,1421.1 L2738.7,1422.5 L2736,1423.6 L2733.2,1424.6 L2730.4,1425.7 L2728,1427.6 L2725.7,1429.8 L2722.6,1430.5 L2719.6,1431.1 L2716.5,1428.1 L2712.3,1427.5 L2715,1427 L2717.8,1426.6 L2720.4,1425.5 L2723.2,1425.7 L2724.9,1423.5 L2726.9,1421.7 L2729.6,1420.9 L2732.3,1420.2 L2735.1,1417 L2736.8,1413 L2736.1,1409.8 L2736.8,1406.6 L2733.8,1404.1 L2730.4,1402.1 L2726.8,1401.3 L2723.3,1400.4 L2719.6,1399.4 L2715.9,1400.3 L2712.5,1401.1 L2709.3,1399.4 L2706.4,1397.7 L2703.2,1396.7 L2706.8,1397.6 L2710.4,1398.2 L2714.1,1397.5 L2717.7,1397.6 L2722,1398.1 L2725.8,1399.9 L2730.1,1399.9 L2734.1,1398.5 L2737.6,1399.8 L2741.3,1400.1 L2744.9,1398.9 L2748.6,1398.5 L2753.3,1397.1 L2757.6,1394.8 L2761,1391.9 L2762.2,1387.6 L2764.4,1384.3 L2764.9,1380.3 L2768.2,1377.8 L2771.2,1374.9 L2772.1,1372.2 L2772,1369.4 L2772.7,1366.8 L2773,1364 L2772.6,1360.1 L2770.3,1356.8Z" fill="#fff"/>
</g>
<g fill="none" stroke="#333" stroke-width="2" stroke-linejoin="round">
<path d="M312.5,398 L310.3,401.9 L311.2,406.4 L308.6,409.8 L307.2,413.9 L307.7,417.1 L305.9,419.8 L304.8,422.9 L305.7,426 L308.1,430.2 L308.8,435 L309.1,438.3 L311,441.1 L310.2,444.8 L310.1,448.6 L310.9,452.4 L311,456.2 L311.9,460 L312.4,463.9 L311.9,468 L309.5,471.3 L310.2,474.7 L311,478 L310.6,481.4 L310.3,484.9 L309.5,487.5 L309.5,490.1 L308.9,492.8 L309.5,495.5 L313,496 L315.5,498.5 L319.6,500.8 L322.3,504.5 L319.3,506.6 L315.5,506.8 L312.3,508.3 L308.8,507.5 L308,511.3 L307.2,515.1 L311,518.1 L314.5,519.1 L317.8,520.4 L314.1,521.2 L311,523.4 L309,524.9 L306.5,525.7 L305.8,530.3 L304.2,534.7 L303,537.2 L302.1,539.8 L301.1,542.3 L300.4,545 L301.7,549.4 L301.2,553.9 L298.4,557.1 L298.7,561.3 L299.6,565.2 L298.2,569 L295.1,571.4 L294.8,575.3 L296.4,578.6 L297.2,582.1 L293.9,584 L291,586.6 L291.7,590.4 L292.1,594.2 L289,596.1 L287.3,599.4 L286.7,603 L284.2,605.7 L284,609.3 L284.2,612.8 L287.1,615.4 L287.1,619.4 L279.5,644.5 L279.6,647.6 L278.4,650.5 L276.2,652.6 L273.4,653.7 L273.7,656.6 L272.3,659.2 L272,661.9 L272,664.7 L261.9,689.9 L251.8,715 L250.2,717.1 L248.1,718.6 L247.9,721.2 L248.5,723.7 L246.5,725.4 L243.8,725.6 L243,728 L241.8,730.2 L241.1,732.8 L239.3,734.8 L237.5,736.9 L234.6,737 L231.7,741 L229.2,745.3 L225.9,749 L222.3,752.4 L220.4,753.9 L218.6,755.7 L217.4,758 L216.6,760.4 L215.1,764 L213.9,767.8 L210.2,768.9 L206.5,770.4 L206,774.5 L207.2,778.3 L206.4,782.3 L204,785.5 L204.8,788 L205.2,790.5 L205.1,793.1 L206,795.5 L205.3,798 L205.2,800.7 L206.1,803.1 L206.5,805.7 L205.1,808.1 L205.8,810.8 L205.9,813.6 L204.6,815.9 L203.1,818.1 L202,820.5 L201.4,823.2 L201.5,825.8 L202.5,828.4 L201.5,830.9 L201.3,833.5 L202.5,835.9 L203.8,839.3 L205.2,842.7 L204.4,846.3 L204,850 L205.6,853.9 L206,858.1 L202.8,861 L201.5,865.1 L190.4,890.3 L176.3,915.5 L174.7,918.3 L175.4,921.4 L173.8,924 L171.6,926.2 L169.1,928 L166.1,928.5 L164.2,930.8 L162.2,933.1 L160.7,936.1 L160.9,939.4 L161.5,942.5 L162.2,945.7 L162.9,948.6 L163.7,951.4 L165.2,953.9 L166.9,956.4 L169.1,958.4 L170.2,961.2 L172.7,963 L173.8,965.8 L174.9,969.3 L177.8,971.5 L179.1,974.7 L180.9,977.7 L179.8,980.9 L178.5,984.2 L178.2,987.6 L177.3,991 L174.6,993.4 L174.7,997.1 L174.6,1000.6 L172,1003 L170.7,1006.2 L170.2,1009.5 L171.3,1012.8 L171.2,1016.2 L170,1019.2 L170.4,1022.5 L170.5,1025.7 L169.4,1028.8 L169.6,1032 L168.4,1035 L168.6,1038.2 L167.7,1041.4 L168.5,1044 L170.3,1046.2 L171.8,1048.5 L172.6,1051.2 L173.6,1053.7 L175.1,1056.1 L175.8,1058.8 L176.3,1061.5 L187.4,1086.7 L189.9,1090.8 L188.2,1095.3 L190.3,1099.2 L193.9,1101.8 L192.9,1105.9 L192.3,1110.1 L189.1,1112.9 L187.4,1116.9 L191.3,1119.4 L195.8,1118 L199,1120.9 L201.5,1124.4 L205.1,1123.7 L208.8,1124.4 L211.2,1127.1 L214.1,1129.5 L211.9,1131.8 L209.7,1134.1 L209.4,1137.3 L209.3,1140.5 L209,1143.5 L208.8,1146.5 L208.2,1149.5 L206.5,1152.1 L206.2,1155.3 L205.7,1158.5 L204,1161.3 L203.5,1164.6 L204.2,1167.9 L205.5,1171.1 L205.4,1174.9 L202.5,1177.3 L202.4,1180.2 L203.3,1183 L205,1185.3 L207.2,1187.3 L209.2,1189.5 L209.1,1192.5 L209.8,1195.2 L211.5,1197.5 L215.8,1198.2 L218.7,1201.4 L220.7,1205.1 L224.1,1207.5 L222.5,1209.5 L220.2,1210.9 L219,1213.2 L218.4,1215.7 L219.6,1218 L221.3,1220 L222,1222.5 L221.6,1225.1 L220.2,1227.5 L218.5,1229.6 L216.5,1231.5 L214.1,1232.7 L216,1235.1 L214.8,1237.9 L215,1240.6 L216.6,1242.8 L216.6,1245.4 L216.5,1248.1 L215.5,1250.6 L214.1,1252.8 L215.4,1255.4 L215.8,1258.3 L216.9,1260.9 L217.6,1263.7 L219.2,1266.1 L221.4,1268 L223.1,1270.3 L224.1,1273 L225.4,1275.4 L226.6,1277.8 L227.5,1280.4 L229,1282.6 L230.1,1285.2 L231.1,1287.7 L231.9,1290.4 L231.7,1293.1 L234.2,1294.6 L236.1,1296.9 L236.5,1299.9 L238.3,1302.3 L239.6,1304.8 L240.4,1307.6 L240.9,1310.4 L240.8,1313.3 L242.5,1316.7 L244.9,1319.7 L247.3,1322.6 L249.3,1325.9 L247.5,1329.4 L246.2,1333.2 L247.7,1336.9 L247.8,1341 L249.4,1344.1 L252.2,1346.2 L253.6,1349.5 L256.9,1351 L256.9,1355.8 L256.9,1360.6 L256,1363.2 L256.4,1365.9 L253.9,1366.8 L251.8,1368.7 L250.8,1373.1 L248.8,1377.2 L247.4,1381.7 L247.8,1386.3 L251.5,1387.3 L252.9,1390.8 L255.1,1393.4 L256.9,1396.4 L259.3,1397.7 L262,1397.7 L264.6,1397.1 L267.3,1397.4 L270.1,1396.9 L272.7,1398.1 L274.6,1400.1 L277,1401.4 L279.6,1402.2 L282.3,1402.7 L284.9,1403.7 L287.7,1403.6 L289.9,1405.2 L292.6,1406 L294.8,1407.6 L297.2,1408.9 L298.8,1411 L300.5,1413 L303,1413.4 L305.5,1414.3 L307.8,1415.4 L309.6,1417.2 L310.7,1419.5 L312.3,1421.5 L314.2,1424.7 L316.8,1427.4 L317.3,1431.2 L319.8,1434.1 L322.5,1435.3 L324.9,1437.1 L326.6,1439.5 L328.8,1441.5 L330.9,1443.6 L333.4,1445 L335.2,1447.4 L337.5,1449.2 L342.3,1449.3 L347,1449 L351.3,1451.2 L355.1,1454.3 L355,1459 L356.8,1463.3 L359.1,1467.4 L360.1,1471.9 L363.8,1472.1 L367.4,1471.9 L370.4,1474.1 L372.7,1476.9 L374.4,1479 L376.5,1480.7 L378.1,1482.8 L379.9,1484.8 L381.8,1486.8 L384.1,1488.1 L385.7,1490.3 L387.8,1492 L391.1,1495.2 L393.5,1499.1 L396.6,1502.7 L397.9,1507.1 L400.3,1511.3 L402.9,1515.4 L405,1519.9 L405.4,1524.8 L406,1527.3 L405.5,1529.9 L407.2,1532.2 L406.3,1534.9 L406.2,1537.5 L406.3,1540 L407.3,1542.4 L408,1544.9 L407,1549.4 L406,1553.9 L406.3,1558.6 L409,1562.5 L410.3,1565.6 L411.3,1568.7 L412.8,1571.7 L413,1575.1 L411.7,1575.9 L446.7,1580.3 L481.8,1584.4 L516.8,1588.4 L551.9,1592.1 L543.6,1606.9 L572.1,1624.4 L600.7,1641.7 L629.6,1658.9 L658.5,1676 L687.7,1692.9 L717,1709.6 L746.5,1726.2 L780.1,1731.5 L813.7,1736.5 L847.4,1741.4 L881.1,1746.1 L914.9,1750.5 L918.9,1719.2 L951.8,1723.4 L984.7,1727.3 L1017.6,1731.1 L1014.6,1727.5 L1014.1,1722.9 L1012.7,1718.6 L1013.4,1714.1 L1016,1718 L1019,1721.5 L1021.2,1725.7 L1022.4,1730.2 L1022.5,1733.2 L1023.8,1736 L1025.4,1738.6 L1028.1,1740 L1029.2,1742.9 L1031.9,1744.5 L1032.4,1747.4 L1032.5,1750.4 L1033.9,1753.6 L1034.8,1757 L1037,1759.7 L1039.2,1762.5 L1042.5,1763.3 L1045.8,1764.4 L1049.1,1765.5 L1052.7,1765.5 L1077.8,1790.6 L1100,1815.8 L1100,1813.3 L1103.2,1814.7 L1104.7,1817.8 L1105.9,1820.8 L1108,1823.3 L1108.7,1826.5 L1109.8,1829.5 L1110.1,1832.7 L1110.1,1836 L1122.7,1873.7 L1140.3,1898.9 L1165.5,1919 L1190.7,1936.7 L1193.6,1938.7 L1197.1,1938.3 L1200.2,1939.5 L1203.3,1940.7 L1220.9,1921.6 L1233.5,1893.9 L1236.8,1894.5 L1239.6,1892.5 L1242.5,1891.3 L1245.6,1890.5 L1247.5,1888 L1250.2,1886.2 L1253.4,1885.5 L1256.1,1883.8 L1258.9,1885.2 L1261.9,1885.6 L1264.6,1884.3 L1267.5,1883.2 L1267.8,1886.5 L1270.4,1888.6 L1273.3,1889.7 L1276.3,1890.3 L1306.5,1892.9 L1306.3,1895.8 L1307.6,1898.5 L1310.2,1899.7 L1312.6,1901.3 L1314.5,1903.1 L1317,1904.1 L1319,1905.9 L1321.6,1906.5 L1341.8,1929.1 L1344.4,1930.2 L1345.4,1932.9 L1347.3,1934.7 L1349,1936.7 L1348.1,1939.4 L1348.7,1942.2 L1350,1944.6 L1351.8,1946.7 L1364.4,1971.9 L1374.5,1997.1 L1377.1,1998.9 L1378,2001.9 L1379.8,2004.3 L1381.3,2006.8 L1382.2,2009.8 L1384.2,2012.1 L1385.8,2014.6 L1387.1,2017.2 L1402.2,2042.4 L1404.7,2042.8 L1407.3,2043.1 L1409.9,2043 L1412.4,2043.5 L1413.1,2046.4 L1415.9,2047.4 L1415.8,2050.2 L1417.3,2052.5 L1416.4,2055.1 L1416.6,2057.9 L1416.6,2061.1 L1419.3,2062.7 L1420.4,2065.1 L1421.7,2067.4 L1421.8,2070 L1422.3,2072.6 L1423.7,2077.1 L1426.5,2081 L1426.1,2085.7 L1427.4,2090.3 L1428.2,2093 L1429.6,2095.5 L1431.1,2098 L1431.2,2101 L1432.4,2103.6 L1433.1,2106.5 L1435.7,2107.9 L1437.5,2110.4 L1438,2112.9 L1438.4,2115.3 L1438.1,2117.9 L1438.5,2120.4 L1440.4,2122.6 L1443.4,2122.8 L1445.1,2125.1 L1445,2128 L1447.3,2129.6 L1449.9,2130.6 L1452.7,2131 L1454.8,2132.9 L1456,2135.5 L1457.8,2137.7 L1459.8,2139.9 L1462.6,2140.6 L1464.3,2142.9 L1467.1,2143.7 L1469.8,2144.4 L1472.3,2145.4 L1475.2,2144.8 L1477.6,2146.6 L1480,2148 L1482.8,2148.2 L1484.1,2150.3 L1485.7,2152.3 L1488.3,2153.2 L1490.8,2152 L1494.7,2154.1 L1497.9,2157.2 L1500.7,2157.8 L1503.2,2159.3 L1505.1,2156.7 L1508.2,2156.3 L1510.8,2156.2 L1513.2,2157.3 L1515.7,2158.1 L1518,2159.2 L1521,2162.8 L1524.4,2165.8 L1528.9,2165.1 L1533.2,2163.3 L1534.1,2166.6 L1536.9,2168.8 L1539.9,2170.4 L1543.2,2170.8 L1545.9,2171.4 L1548,2172.9 L1550.7,2172.6 L1553.3,2173.3 L1556.6,2172.8 L1559.2,2170.7 L1561,2168 L1563.4,2165.8 L1565.9,2165.8 L1567,2163 L1567.1,2160.1 L1567.1,2157.1 L1567.1,2154.2 L1566.4,2151.1 L1563.8,2149.1 L1564.3,2146.1 L1563.4,2143.1 L1563.2,2139.5 L1563.8,2136 L1560.9,2133.8 L1558.7,2131 L1557.7,2127.8 L1558.4,2124.5 L1558.8,2121.2 L1558.3,2118 L1558.6,2114.8 L1558.1,2111.6 L1557.8,2108.5 L1557.8,2105.3 L1557.4,2102.1 L1557.5,2098.9 L1557.1,2095.7 L1555.8,2092.8 L1555.7,2089 L1556.3,2085.2 L1553.8,2082.5 L1551.3,2079.6 L1552.9,2076.5 L1555,2073.7 L1556.8,2070.7 L1558.3,2067.6 L1559.7,2065.1 L1560.5,2062.4 L1561.3,2059.6 L1560.3,2056.8 L1562.2,2054.7 L1564.4,2052.9 L1564.2,2049.9 L1565.9,2047.5 L1568.2,2045.4 L1570,2042.9 L1570.6,2039.8 L1569.7,2036.8 L1571.7,2034.7 L1573.7,2032.6 L1574.8,2029.9 L1576,2027.3 L1576.4,2023.9 L1576.8,2020.4 L1580.7,2020 L1582.6,2016.6 L1584.9,2014.4 L1587.4,2012.4 L1589.2,2009.7 L1591.1,2007.2 L1593.7,2005.3 L1594.3,2002.2 L1595.5,1999.5 L1597,1996.9 L1600.2,1996.9 L1603.3,1997.8 L1606,1996.2 L1608.7,1994.6 L1612.2,1991.2 L1617,1990.7 L1620.1,1987.3 L1623.8,1984.5 L1625.8,1982.4 L1626.2,1979.6 L1628.3,1977.2 L1631.4,1977.6 L1633.9,1978.1 L1636.5,1978.2 L1638.9,1979.1 L1641.4,1979.5 L1644.2,1977 L1647.5,1975.3 L1650.8,1973.7 L1654,1971.9 L1679.2,1956.8 L1679.1,1953.1 L1680.7,1949.8 L1683.4,1947.3 L1686.7,1945.8 L1690.2,1946.8 L1693.9,1946.6 L1696.6,1944.1 L1699.4,1941.7 L1700,1938.9 L1702.3,1937.2 L1704.1,1935.1 L1706.5,1933.7 L1708.5,1931.7 L1709.3,1928.9 L1711.7,1927.4 L1714.5,1926.6 L1719,1925.5 L1722.7,1922.5 L1726.1,1919.5 L1729.6,1916.5 L1732.4,1915.2 L1733.5,1912.3 L1736.4,1912.2 L1739.2,1911.5 L1741.7,1909.7 L1744.6,1910.8 L1747.3,1910.3 L1749.7,1909 L1754.1,1909.6 L1758.3,1908.1 L1762.3,1906.7 L1766.5,1905.7 L1766.8,1902.7 L1766.3,1899.6 L1766.7,1896.5 L1768,1893.7 L1770.6,1891.8 L1772.5,1889.1 L1772.9,1892.7 L1771.9,1896.1 L1771.9,1899.8 L1774,1902.7 L1778.8,1903.8 L1782.8,1906.7 L1786.5,1903.6 L1790.7,1901.2 L1793.5,1900.7 L1796.3,1901.1 L1798.9,1900.1 L1801.2,1898.4 L1803.8,1899.6 L1806.3,1900.5 L1809.1,1900.8 L1811.8,1901.2 L1816.7,1901.2 L1821.3,1902.9 L1825.6,1905.1 L1829.9,1907.3 L1834.3,1909.3 L1838.6,1911.5 L1843.1,1913.6 L1848.1,1913.3 L1850.1,1915.4 L1851.1,1918.2 L1853.9,1918.8 L1856.8,1918.4 L1858.8,1916.7 L1861.4,1916.3 L1863.5,1914.6 L1866.2,1914.8 L1869.6,1912.4 L1873.8,1911.8 L1871.8,1909.5 L1872.4,1906.6 L1872.6,1903.9 L1872.3,1901.2 L1874.1,1899.3 L1876,1897.4 L1878.7,1897.1 L1881.3,1896.7 L1885.7,1894.6 L1890.4,1893.7 L1892.9,1897.1 L1893.4,1901.2 L1896.5,1901.2 L1899.5,1900.5 L1902.4,1899.5 L1905.5,1899.7 L1907.7,1902.4 L1908.5,1905.7 L1905.6,1907.3 L1902.7,1909 L1900.9,1911.8 L1899.5,1914.8 L1902.6,1914.8 L1905.8,1914.5 L1908.6,1913 L1911.5,1911.8 L1914.1,1912.7 L1916.7,1913.4 L1918.5,1915.4 L1920.6,1917.1 L1922.9,1918.6 L1924.7,1920.5 L1927.4,1920.8 L1929.7,1922.4 L1928.4,1926.8 L1925.1,1929.9 L1928.6,1930.8 L1931.9,1932.2 L1935.4,1933.2 L1938.7,1934.4 L1941.7,1936.2 L1944,1938.7 L1947.4,1939.2 L1950.8,1939 L1953.6,1942.2 L1956.9,1945 L1961,1942.2 L1965.9,1942 L1966.4,1937.5 L1965.9,1932.9 L1968.1,1931.4 L1969.9,1929.5 L1972.4,1928.5 L1975,1928.4 L1979.7,1928.3 L1984.1,1929.9 L1984.9,1933.2 L1986.9,1935.8 L1990,1937.4 L1991.6,1940.5 L1993.5,1938.5 L1994.8,1936.1 L1997,1934.5 L1999.2,1932.9 L1999.9,1929.9 L2002.4,1928 L2005.2,1926.6 L2008.2,1926.9 L2008.4,1923.7 L2007.1,1920.8 L2005.6,1918 L2005.2,1914.8 L2009.8,1914.3 L2014.3,1913.3 L2015.6,1917.2 L2017.3,1920.9 L2020.4,1921.6 L2023.5,1921.6 L2026.3,1923.2 L2029.4,1923.9 L2033.1,1925.2 L2036.6,1926.9 L2039.9,1929.2 L2041.5,1932.9 L2043.2,1935.2 L2043.8,1937.9 L2045.8,1939.9 L2047.5,1942 L2045.6,1945.3 L2043,1948 L2045.1,1945.7 L2045.6,1942.5 L2048.1,1940.8 L2050.5,1939 L2053.9,1937.9 L2056.2,1935.3 L2059.5,1936 L2062.6,1937.5 L2063.3,1935 L2064.7,1932.8 L2066.4,1930.9 L2067.2,1928.4 L2065.2,1926.6 L2063.8,1924.2 L2061.1,1923.3 L2059.6,1920.9 L2056.3,1919.7 L2054.2,1916.9 L2050.9,1916.1 L2047.5,1916.3 L2044.5,1913.4 L2040.6,1911.9 L2036.5,1911 L2032.4,1911.8 L2031.6,1908.7 L2029.1,1906.6 L2025.8,1906.3 L2023.4,1904.2 L2024.4,1901.7 L2025,1899.1 L2024.4,1896.4 L2024.9,1893.7 L2028.1,1890.8 L2032.4,1890.6 L2035.5,1890.1 L2038.6,1889.7 L2041.4,1888.3 L2044.5,1887.6 L2044.4,1884.1 L2047,1881.8 L2047.4,1878.7 L2047.5,1875.5 L2045.7,1873.6 L2043.1,1873.1 L2040.7,1872.2 L2038.5,1871 L2033.8,1871.2 L2029.4,1872.5 L2029.8,1875 L2029.4,1877.5 L2027.7,1879.4 L2026.4,1881.6 L2021.9,1880.6 L2017.3,1880.1 L2015.5,1875.8 L2011.3,1874 L2013.5,1870.3 L2017.3,1868 L2019.4,1866.1 L2021.2,1864 L2023.7,1862.8 L2026.4,1861.9 L2029,1858.5 L2032.4,1855.9 L2033.4,1853 L2035.8,1851.2 L2038.3,1848.8 L2041.5,1849.9 L2045.6,1850.4 L2049.4,1848.8 L2053.3,1847.7 L2056.6,1845.3 L2061.2,1845.8 L2064.6,1848.9 L2067.5,1845.5 L2071.7,1843.8 L2075.8,1846.5 L2080.5,1848.2 L2085,1846.4 L2089.8,1845.3 L2092.8,1844 L2095.5,1842.1 L2098.7,1842.3 L2101.9,1842.3 L2104.8,1841.2 L2107.9,1840.8 L2110.9,1840.4 L2114,1840.8 L2115.5,1836.4 L2115.4,1831.8 L2116.8,1827.2 L2115.5,1822.7 L2117.6,1820.9 L2120.1,1819.6 L2121.5,1823.9 L2124.6,1827.2 L2123.9,1831.1 L2125,1835 L2128.5,1837.8 L2127.6,1842.3 L2131.2,1844.9 L2135.2,1846.8 L2139.1,1847.1 L2142.8,1845.7 L2146.7,1845.4 L2150.3,1843.8 L2152,1841.2 L2155.1,1840.8 L2158,1840.1 L2160.8,1840.8 L2163.5,1840 L2166.3,1839.8 L2168.6,1838 L2171.4,1837.8 L2174.5,1837 L2177.6,1836.6 L2180.7,1837.4 L2183.8,1836.7 L2186.9,1835.5 L2189.2,1833.1 L2192.3,1832 L2195.6,1832.6 L2198.7,1833.3 L2201.8,1832.4 L2204.7,1833.4 L2207.8,1834 L2210.7,1833.2 L2213.8,1833 L2216.6,1831.3 L2219.8,1831.7 L2222.1,1833.5 L2225.1,1833.3 L2227.5,1834.6 L2230.1,1835.7 L2232.6,1836.8 L2235.4,1837.5 L2238.2,1837.4 L2240.9,1837.8 L2243.1,1839.1 L2245.2,1840.6 L2247.8,1841.1 L2249.7,1842.9 L2252.4,1842.4 L2255.1,1843.1 L2257.4,1844.6 L2259.1,1846.8 L2263.9,1847.6 L2267.5,1850.9 L2269.9,1855.1 L2274.2,1857.4 L2275,1861.6 L2277.2,1865.2 L2280.1,1868.3 L2283.2,1871 L2288,1870.7 L2292.3,1872.5 L2295.3,1874 L2298.6,1874.1 L2301.6,1875.4 L2304.4,1877 L2307.3,1874 L2311.4,1873.8 L2312.8,1869.9 L2316.5,1868 L2319.7,1865.2 L2321.2,1861.1 L2324.2,1858 L2328.6,1857.4 L2332.2,1855.4 L2336.3,1855.1 L2339.4,1852.3 L2340.7,1848.3 L2343.5,1845.2 L2343.5,1841 L2345.2,1838.9 L2347.2,1837.3 L2349.7,1838.5 L2352.4,1838 L2356.6,1835.9 L2361.2,1835 L2366,1835.1 L2370,1838 L2372.5,1837.4 L2375.2,1837.3 L2377,1839.2 L2378.8,1841 L2382.3,1843.3 L2386.2,1844.6 L2389,1847.7 L2391.4,1851.1 L2395.3,1853.2 L2396.6,1857.5 L2400.3,1859.2 L2404,1861.1 L2405.6,1864.5 L2406.7,1868.1 L2408.4,1871.6 L2411.5,1873.7 L2413,1876.3 L2415.2,1878.2 L2416.3,1881.2 L2419.2,1882.4 L2421.3,1884.5 L2423.3,1886.6 L2424.6,1889.2 L2426.6,1891.4 L2429,1892.5 L2430.7,1894.5 L2433.4,1894.1 L2435.5,1892.4 L2439.9,1891.9 L2444.3,1891.4 L2446.4,1895 L2448,1898.9 L2450.2,1902.6 L2451.8,1906.5 L2453.7,1908.5 L2454.4,1911.1 L2454.6,1913.8 L2454.8,1916.4 L2456.5,1918.6 L2457.1,1921.3 L2456.4,1923.9 L2456.9,1926.6 L2456.7,1930.6 L2458.6,1934.1 L2459.4,1937.9 L2459.4,1941.7 L2460.6,1944.4 L2459,1947 L2458.9,1949.6 L2458.5,1952.2 L2457.1,1954.5 L2455.3,1956.5 L2455.1,1959.2 L2454.3,1961.8 L2453.1,1965.6 L2451.2,1969.1 L2450.3,1973.1 L2451.8,1977 L2455.7,1979.6 L2459,1983.1 L2461,1987.4 L2461.9,1992.1 L2461.3,1994.8 L2462.7,1997.2 L2463.8,1999.6 L2464.4,2002.1 L2466.8,2004.4 L2467.6,2007.6 L2469.6,2010.1 L2472,2012.2 L2473.9,2014.8 L2473.9,2018 L2476.9,2019.3 L2478.1,2022.4 L2479.5,2025.1 L2481.7,2027.1 L2483,2029.8 L2484.6,2032.3 L2488.8,2034.7 L2491.9,2038.4 L2493.3,2040.4 L2494.8,2042.4 L2494.8,2045 L2494.6,2047.5 L2498.3,2050.1 L2502.2,2052.5 L2502.5,2056.4 L2502.2,2060.3 L2502.1,2064.4 L2504.7,2067.6 L2507.9,2069 L2511.2,2068 L2514.2,2069.1 L2517.3,2070.1 L2519.5,2072.9 L2521.9,2075.5 L2523.6,2079.1 L2527.4,2080.2 L2530.9,2082.4 L2530.9,2086.6 L2532.3,2090.1 L2534.9,2092.8 L2537.7,2095.9 L2539.1,2099.7 L2542.5,2102.1 L2545,2105.4 L2548.3,2105.4 L2551.2,2103.8 L2554.6,2104.4 L2557.6,2102.8 L2560.9,2105.6 L2564.6,2107.7 L2569,2108 L2572.7,2110.4 L2574,2113.1 L2575.6,2115.6 L2576,2118.9 L2578.9,2120.6 L2580.6,2123 L2582.2,2125.5 L2583.1,2128.4 L2585.3,2130.5 L2585.4,2134.6 L2583.2,2138.1 L2583.6,2142 L2585.3,2145.6 L2589.2,2147.5 L2592.9,2149.7 L2596.4,2148 L2600.2,2146.7 L2604,2145.5 L2608,2145.6 L2612.5,2144.3 L2616.4,2141.6 L2621,2140.9 L2625.6,2140.6 L2627.3,2138.7 L2628.1,2136.2 L2630.4,2135 L2632.4,2133.5 L2632.9,2130.7 L2633.2,2127.9 L2635.4,2126.1 L2638.2,2125.5 L2637.1,2122.5 L2636,2119.6 L2636.9,2116.5 L2636.8,2113.3 L2638.7,2110.7 L2641.4,2108.9 L2642.4,2105.9 L2643.2,2102.8 L2646,2100.4 L2646.3,2096.7 L2645.8,2093.3 L2644.4,2090.1 L2644,2086.6 L2641.2,2084.3 L2641.4,2081 L2641.7,2077.7 L2640.7,2047.5 L2641.1,2044.8 L2642.1,2042.4 L2641.8,2039.7 L2641.8,2037.1 L2643,2034.3 L2641.3,2031.7 L2639.2,2029.9 L2638.2,2027.3 L2636.2,2025.1 L2634.7,2022.6 L2635.2,2019.6 L2633.9,2016.9 L2632.1,2014.7 L2630.4,2012.4 L2629.4,2009.7 L2628.1,2007.2 L2613,1984.5 L2600.4,1959.3 L2597.9,1956.8 L2598,1953.3 L2596.4,1950.4 L2594.5,1947.8 L2592.8,1945 L2591.9,1941.8 L2589.5,1939.5 L2587.8,1936.7 L2587.5,1934.1 L2587,1931.7 L2586.2,1929.2 L2586.2,1926.6 L2586.3,1924.1 L2585.9,1921.6 L2585.4,1919.1 L2585.3,1916.5 L2585.5,1913.4 L2585.8,1910.3 L2584.8,1907.4 L2583.5,1904.5 L2580.3,1903.4 L2577.1,1903.7 L2575.4,1900.8 L2572.7,1898.9 L2569.7,1897.1 L2569.1,1893.6 L2568.9,1890.3 L2566.7,1887.7 L2563.2,1886.8 L2559.8,1885.7 L2557.7,1882.5 L2557.6,1878.8 L2542.5,1853.6 L2527.4,1825.9 L2514.8,1795.7 L2508.2,1770.5 L2505.2,1767.8 L2501.3,1766.6 L2499.4,1762.8 L2500.7,1758.7 L2502.1,1755.4 L2504.2,1752.5 L2505.3,1748.9 L2504.7,1745.3 L2507.6,1744.3 L2509.8,1742.1 L2510.7,1739.3 L2512,1736.6 L2510.2,1733.8 L2511.7,1730.9 L2511.8,1728 L2512.3,1725.2 L2512.9,1721.3 L2510.9,1718 L2513.2,1715.1 L2516.1,1712.9 L2516.1,1709.7 L2516.2,1706.4 L2515.5,1703.2 L2516.3,1700 L2520.6,1700.1 L2524.9,1700 L2525.5,1695.1 L2526.4,1690.2 L2528.7,1688.7 L2529.5,1686 L2530,1683.5 L2529.9,1680.9 L2547.5,1660.7 L2549.6,1658.2 L2552.2,1656.3 L2553.4,1653.1 L2556.6,1651.8 L2558.3,1648.2 L2556.7,1644.6 L2559.9,1643 L2562.6,1640.6 L2565.1,1639.5 L2566.1,1636.9 L2566.7,1634.5 L2568.1,1632.3 L2569.8,1630 L2569.9,1627.1 L2572.7,1626.6 L2575.2,1625.5 L2597.9,1605.3 L2598.8,1602.5 L2600.2,1600 L2599.5,1597 L2600.7,1594.1 L2603.8,1593.4 L2605.7,1590.7 L2606.2,1587.7 L2608,1585.2 L2606.4,1582.7 L2605.9,1579.9 L2607.7,1577.3 L2607.1,1574.3 L2607.9,1571.6 L2609.5,1569.3 L2611.3,1567.2 L2613,1565 L2614.7,1562.2 L2616.9,1559.8 L2618.1,1556.8 L2619.4,1553.8 L2620.5,1550.7 L2621.7,1547.7 L2624,1545.3 L2625.6,1542.4 L2626.5,1539.2 L2629.5,1537.6 L2631.3,1534.9 L2630.8,1531.7 L2631,1528.1 L2633.3,1525.5 L2636.6,1524.8 L2639.7,1523.8 L2642.4,1519.8 L2646.9,1518.3 L2651.5,1517.8 L2655.8,1519.7 L2660.2,1520.7 L2664.7,1521.2 L2668.6,1518.4 L2673.4,1518.7 L2673.8,1515.9 L2673.9,1513 L2673.8,1510.1 L2674.5,1507.3 L2675.1,1504.4 L2675.7,1501.6 L2676.2,1498.8 L2677,1496 L2679.1,1493.9 L2679.7,1490.9 L2679.2,1486.8 L2682,1483.8 L2684,1480.6 L2686.9,1478.2 L2688.9,1475.2 L2692,1473.3 L2694.9,1470.9 L2696,1467.4 L2698.1,1464.9 L2700.8,1463.1 L2702.9,1460.6 L2705.1,1458.3 L2707.1,1456.5 L2709,1454.6 L2711.9,1454.7 L2714.1,1452.9 L2718.6,1451 L2723.2,1449.2 L2726,1449.6 L2728.9,1450 L2731.7,1449.2 L2734.1,1447.4 L2737.6,1450.6 L2742.2,1451.9 L2745.2,1448.4 L2744.9,1443.8 L2745.7,1440.6 L2748.3,1438.7 L2748.9,1435.6 L2750.4,1432.9 L2750.4,1429.4 L2752.6,1426.5 L2754.9,1424.1 L2757.6,1422 L2759.3,1419.4 L2760.8,1416.7 L2762.7,1414.3 L2764.9,1412.1 L2768,1409.5 L2772.1,1409.3 L2774,1405.7 L2777.6,1403.9 L2780.4,1401.3 L2783,1398.3 L2786.4,1396.3 L2790.3,1395.8 L2790.5,1392.2 L2791.5,1388.8 L2789.5,1385.8 L2789.4,1382.2 L2790,1378.6 L2787.7,1375.9 L2787.8,1372.6 L2786.6,1369.5 L2785.6,1365.9 L2783.4,1362.9 L2781.4,1359.8 L2779.4,1356.8 L2775.9,1355.3 L2773.4,1352.5 L2771.6,1349.4 L2770.3,1345.9 L2768.2,1344.2 L2767.1,1341.8 L2767.7,1339.2 L2766.5,1336.7 L2764.4,1335.1 L2763.3,1332.8 L2761.4,1331.1 L2759.5,1329.6 L2757.6,1327.6 L2756.4,1325.2 L2754.8,1323.1 L2753.5,1320.7 L2750.8,1319.1 L2750.8,1316 L2750.2,1313.3 L2750.4,1310.6 L2738.6,1286.1 L2735.2,1288.4 L2731.2,1289.4 L2727,1289.8 L2723.2,1287.9 L2718.6,1289.6 L2714.1,1291.5 L2711,1288.2 L2706.4,1287.7 L2703.9,1284.2 L2701.4,1280.6 L2699.5,1278.7 L2697.2,1277.4 L2695.1,1275.7 L2692.4,1275.2 L2695.2,1275.2 L2697.8,1276.3 L2700.6,1276.2 L2703.2,1275.2 L2706,1277.7 L2709.4,1279.1 L2712.5,1281.2 L2715.9,1282.5 L2718.9,1280.8 L2722.3,1280.6 L2720.4,1276.3 L2722.4,1271.9 L2719.3,1268.9 L2715.9,1266.1 L2717.9,1263.5 L2719.6,1260.7 L2718.1,1256.3 L2717.7,1251.6 L2718.8,1249 L2717.7,1246.4 L2716.4,1244 L2714.1,1242.6 L2710.2,1240.5 L2706,1238.9 L2701.6,1237.8 L2697.8,1235.3 L2693.4,1235.4 L2690.6,1231.9 L2687.1,1230.1 L2683.3,1229 L2687.5,1229.1 L2691.8,1229.4 L2695.3,1231.9 L2699.6,1232.6 L2702.3,1233 L2705,1233.3 L2707.8,1233.5 L2710.5,1233.5 L2710.9,1230.8 L2711.3,1228.1 L2710.3,1225.4 L2710.5,1222.6 L2708.5,1218.5 L2705.1,1215.4 L2702.4,1214.4 L2699.7,1213.6 L2697,1213.1 L2694.2,1212.7 L2691.4,1212.9 L2688.6,1212.5 L2685.9,1211.7 L2683.3,1210.8 L2679.4,1210.8 L2676.3,1208.4 L2672.5,1209.2 L2668.8,1208.1 L2667.5,1204.8 L2667.7,1201.3 L2664.6,1199.6 L2661.5,1198.2 L2658.9,1198.6 L2656.3,1198.9 L2654.1,1200.6 L2652.5,1202.7 L2649.7,1200.6 L2646.7,1198.8 L2646.3,1195.3 L2647,1191.8 L2646.8,1188.9 L2645.2,1186.4 L2646.8,1189 L2647.9,1191.8 L2648,1195.2 L2650.7,1197.3 L2653.2,1196.7 L2655.2,1195.1 L2657.2,1193.4 L2659.7,1192.7 L2663,1194.7 L2663.5,1198.4 L2666.4,1200.3 L2668.8,1202.7 L2673.3,1202.5 L2676.9,1199.7 L2679.3,1200.2 L2681.8,1200.6 L2682.7,1203 L2683.3,1205.4 L2686.1,1205.7 L2688.8,1205.8 L2691.5,1206.5 L2694.2,1207.2 L2698.8,1207.8 L2703.2,1209 L2702.6,1205.2 L2699.6,1202.8 L2698.9,1200 L2697.3,1197.6 L2697.7,1194.8 L2697.8,1191.9 L2698,1188.8 L2696.1,1186.5 L2694.3,1184 L2694.2,1181 L2693.4,1178.3 L2692.4,1175.6 L2690.6,1173.2 L2690.5,1170.2 L2689.5,1167.5 L2689.1,1164.6 L2686.7,1162.5 L2686.9,1159.3 L2685.2,1156.9 L2684,1154.2 L2684.3,1151.3 L2685.1,1148.4 L2684.4,1145.2 L2686.5,1142.6 L2684.7,1140.2 L2683.3,1137.5 L2686,1134.4 L2686.9,1130.3 L2688.3,1125.6 L2690.5,1121.2 L2691.4,1118.8 L2693,1116.8 L2693.7,1114.3 L2695.1,1112.2 L2697.8,1108.8 L2699.6,1104.9 L2703.2,1106.7 L2700.9,1111 L2701.4,1115.8 L2700.2,1118.7 L2697.7,1120.7 L2696.7,1123.6 L2696,1126.7 L2698.2,1129.2 L2697.1,1132.4 L2695.7,1135 L2694.2,1137.5 L2695.8,1141.3 L2697.8,1144.8 L2700.1,1149 L2699.6,1153.9 L2701.9,1158.2 L2703.2,1162.9 L2702.3,1165.7 L2703.3,1168.5 L2704.6,1171 L2705.1,1173.8 L2706.3,1178.3 L2706.9,1182.9 L2708.3,1186.7 L2710.5,1190.1 L2713.5,1192.6 L2715.9,1195.5 L2718.6,1193.7 L2721.4,1191.9 L2722.4,1195.9 L2725,1199.2 L2726.1,1204 L2728.6,1208.2 L2728.4,1210.9 L2728.4,1213.6 L2729.7,1216 L2732.3,1217.3 L2729.7,1213.1 L2729.5,1208.1 L2729.6,1212.7 L2730.4,1217.2 L2733.2,1215.1 L2734.1,1211.8 L2737.9,1213.1 L2741.3,1215.4 L2740.3,1218.1 L2739.5,1220.8 L2738.6,1225.5 L2736.8,1229.9 L2736.3,1232.8 L2736.9,1235.7 L2735.8,1238.4 L2734.1,1240.8 L2734.3,1244 L2733,1247.1 L2732.2,1250.2 L2732.3,1253.4 L2732,1257 L2730.3,1260.2 L2732.2,1263.1 L2734.1,1266.1 L2735.5,1270.4 L2739.5,1272.5 L2741.7,1270.2 L2744,1268 L2746.5,1263.7 L2746.8,1258.9 L2748.7,1255.6 L2750,1252 L2749.1,1248.1 L2750.4,1244.4 L2748.4,1240.9 L2748.9,1237 L2749.3,1233.2 L2751.3,1229.9 L2751.4,1226.9 L2750.7,1223.9 L2752.5,1221.6 L2754,1219 L2757.1,1216.7 L2759.5,1213.6 L2760.2,1210.5 L2759.4,1207.5 L2761.2,1205.1 L2763.1,1202.7 L2764.8,1199.7 L2766.9,1196.9 L2766.5,1193.4 L2765.8,1190 L2766.3,1191.9 L2766.4,1188.9 L2768.1,1186.5 L2767.5,1183.8 L2766.7,1181 L2767,1178.5 L2766.2,1176.1 L2766.1,1173.6 L2765.8,1171.1 L2765.3,1166.9 L2764,1162.9 L2763.4,1160.2 L2761,1158.9 L2760.6,1156.3 L2761.3,1153.9 L2759.5,1150.9 L2759.5,1147.5 L2755.9,1145.5 L2752.2,1143.9 L2751.6,1141.3 L2749.7,1139.5 L2747.5,1138 L2744.9,1137.5 L2742.5,1134.2 L2739.5,1131.2 L2737.2,1128.4 L2736.8,1124.8 L2735.4,1122.5 L2734.1,1120 L2732.8,1117.4 L2730.4,1115.8 L2729.4,1112.6 L2727.3,1110 L2725.1,1107.6 L2723.2,1104.9 L2723.4,1102.2 L2721.8,1099.9 L2720.4,1097.6 L2720.5,1094.9 L2722.3,1099.5 L2722.8,1102.6 L2725,1104.9 L2727.7,1106.7 L2730.4,1108.5 L2733.9,1110.6 L2737.7,1112.2 L2740.9,1114.9 L2744.9,1115.8 L2748.1,1117.5 L2750.4,1120.3 L2753,1119.4 L2755.8,1119.4 L2759.9,1118.6 L2764,1119.4 L2765.1,1123 L2765.8,1126.7 L2765.5,1131.2 L2764.9,1135.7 L2768.5,1135.7 L2769.7,1132.6 L2772.1,1130.3 L2773.2,1125.7 L2774.9,1121.2 L2775.7,1116.5 L2777.6,1112.2 L2780.1,1108.4 L2783,1104.9 L2785.2,1102.5 L2787.1,1100 L2789.2,1097.4 L2789.4,1094 L2790.4,1090.2 L2792.9,1087.2 L2791.4,1083.4 L2793,1079.5 L2792.9,1075.8 L2793.9,1072.2 L2795.2,1068.7 L2795.7,1065 L2797.8,1063.3 L2798.8,1060.7 L2797.2,1058.5 L2796.4,1055.9 L2794.2,1051.6 L2795.4,1046.9 L2795,1042.1 L2796.8,1037.7 L2794,1033.6 L2793.9,1028.8 L2791.9,1026.7 L2792,1023.8 L2791.8,1021.1 L2790.3,1018.8 L2787.7,1020.5 L2784.8,1021.5 L2781.2,1022.3 L2777.6,1021.5 L2776.2,1018 L2776.7,1014.3 L2776.4,1009.6 L2780.3,1007 L2782.8,1005.5 L2785.7,1005.2 L2786.3,1002.5 L2786.6,999.8 L2789,998.5 L2790.3,996.1 L2793.3,995.2 L2795.7,993.2 L2796.2,990.2 L2795.7,987.1 L2797.7,984 L2799.1,980.6 L2800.9,977.4 L2803,974.4 L2807.1,974 L2808.7,970.2 L2810.2,966.7 L2813.8,965.3 L2816.5,963.8 L2817.4,960.9 L2820.1,960.2 L2822.9,959.9 L2825.3,958.1 L2827.9,956.9 L2830.2,955 L2832,952.6 L2834.5,951.1 L2837.4,950.7 L2840.2,950.2 L2842.9,949 L2846.1,949.1 L2848.8,947.4 L2852.2,946.6 L2853.7,943.6 L2857.1,941.2 L2861.2,941.3 L2864.5,939.4 L2868.2,938.1 L2872,936.3 L2876,937.6 L2879.9,936.5 L2882.7,933.6 L2885,930.5 L2888.8,930.4 L2892.1,929.8 L2895.4,929.1 L2899.9,929 L2902.7,925.4 L2904.5,923 L2904.5,920 L2905.8,917.2 L2910.7,916.7 L2914.9,914.2 L2917.5,913.3 L2920.2,912.3 L2921.9,910.1 L2924,908.2 L2925,905.3 L2927.1,903 L2930,902.5 L2933,902.1 L2937.5,903.9 L2942.1,905.2 L2947,904.8 L2951.2,902.1 L2954.3,900.8 L2957.1,898.9 L2959.7,896.4 L2963.2,896.1 L2966.1,892.5 L2966.6,887.9 L2971,887.9 L2975.3,887 L2976.4,882.8 L2973.6,879.5 L2973.4,875.6 L2972.3,871.9 L2970.3,869.3 L2968.2,866.9 L2967.5,863.5 L2964.8,861.3 L2960.1,861.1 L2955.7,859.8 L2958.5,861 L2960.9,863 L2963.8,864 L2966.3,865.9 L2966.7,869 L2968.3,871.8 L2969.3,874.8 L2969.3,878 L2967.7,880.3 L2965.2,881.7 L2962.1,881.6 L2960.2,884 L2957.4,886 L2954.2,884.8 L2951.1,885.1 L2948.1,885.5 L2945.9,883.3 L2942.9,882.6 L2941.2,880.1 L2939.1,878 L2938.1,875.4 L2936.5,873.2 L2935.2,870.6 L2933,868.9 L2930.8,866.6 L2928.1,864.7 L2926.5,861.9 L2924,859.8 L2919.1,859.1 L2914.9,856.8 L2914.9,854.1 L2914.5,851.4 L2912.3,849.7 L2910.4,847.7 L2912.1,845 L2912.9,841.8 L2914.5,838.9 L2914.9,835.7 L2916.4,833 L2918.9,831.3 L2921.9,830.5 L2924,828.1 L2920.8,826 L2917.9,823.6 L2915.3,822.1 L2913.4,819.7 L2910.9,818.2 L2908.8,816 L2908.6,812.3 L2908.7,808.5 L2909.1,804.7 L2908.8,800.9 L2910.5,797.2 L2911.9,793.4 L2910.5,790.1 L2910.8,786.7 L2913.2,784.3 L2914.9,781.3 L2916.3,778.1 L2919,775.8 L2918.2,771.9 L2920.9,769.2 L2921.7,765.4 L2921.7,761.5 L2922.3,757.6 L2924,754.1 L2926.2,752.4 L2927.7,750.1 L2928.4,747.3 L2930,745 L2932.3,742.4 L2935.7,741.7 L2937.1,738.7 L2939.1,736 L2941.8,734.2 L2943.8,731.6 L2945.5,728.8 L2948.1,726.9 L2951,723.8 L2952.3,719.8 L2956.1,718.1 L2960.2,717.8 L2962.1,713.4 L2961.8,708.5 L2965.5,705.6 L2969.3,702.7 L2971.7,699.7 L2974.8,697.4 L2976.9,694.2 L2978.4,690.6 L2981.7,689.3 L2984.7,687.3 L2988,685.8 L2990.4,683.1 L2992.8,680.2 L2995.3,677.4 L2998.9,676.3 L3002.5,675.5 L3005.9,675.1 L3009.2,674.9 L3012.7,674 L3014.6,671 L3017.4,667.5 L3021.8,667 L3025.9,666.6 L3029.7,665 L3030.3,660.7 L3031.7,656.6 L3035.9,655.6 L3040,654.4 L2990.8,684.8 L2994,681.6 L2997.8,679 L3002.3,677.9 L3005.9,674.8 L3008.8,671.4 L3013.1,670.3 L3017.2,669.2 L3021,667.2 L3022.4,664.9 L3023.2,662.3 L3025.6,661.1 L3028.3,660.6 L3030.2,658.8 L3032.8,658.5 L3034.3,656.4 L3036.1,654.6 L3037.9,652.6 L3039.2,650.2 L3041.2,648.3 L3043.8,647.2 L3046.3,646 L3048.6,644.4 L3050.3,642.2 L3051.2,639.5 L3053.7,637.8 L3055.6,635.4 L3056.2,632.5 L3056.2,629.4 L3054.6,626.2 L3051.9,623.9 L3051.8,620.3 L3051.2,616.9 L3047.7,616.5 L3044.9,614.4 L3041,615 L3038.6,611.8 L3035.5,610.9 L3032.3,610.7 L3029.1,610.3 L3026,609.3 L3026.5,606.5 L3024.7,604.3 L3023.6,601.9 L3023.5,599.2 L3021.6,597.2 L3020.7,594.6 L3021.2,591.9 L3021,589.2 L3018.6,587.9 L3016.2,586.8 L3013.6,586.8 L3010.9,586.6 L3007.9,584.8 L3004.5,584.5 L3000.6,584.7 L2998.3,581.6 L2975.6,503.6 L2974,501.4 L2973.1,498.8 L2971.5,496.2 L2973.1,493.5 L2971.6,491.2 L2969.2,489.9 L2967.3,487.9 L2965.6,485.9 L2962.6,486.2 L2959.6,485.8 L2956.9,487 L2954.3,488.4 L2951.1,487.8 L2948,486.8 L2946.1,484.1 L2945.4,480.9 L2943.6,483.2 L2940.8,484.2 L2938.2,485.3 L2935.6,486.5 L2932.7,487.3 L2929.7,486.9 L2928.5,490 L2925.3,491 L2922.4,492.8 L2919,493.5 L2916.5,496.5 L2912.7,496 L2912,491.5 L2910.2,487.4 L2907,486.6 L2904,485.5 L2900.8,486.2 L2897.6,485.9 L2895.3,490 L2894.7,494.6 L2893.8,499.2 L2892.5,503.6 L2885,528.7 L2883.5,531.7 L2883.5,535 L2883.4,538.2 L2882.5,541.3 L2884.1,544.7 L2884.5,548.3 L2882.1,551 L2879.9,553.9 L2881,557.3 L2883,560.1 L2884.8,563.4 L2883.8,567 L2882.3,570.1 L2879.8,572.6 L2878.6,575.8 L2877.4,579.1 L2876.2,582.4 L2875.5,585.9 L2874.1,589.5 L2870.6,591.1 L2873,594.1 L2875.7,596.7 L2877,600.7 L2874.9,604.3 L2876.4,606.8 L2876,609.8 L2874.5,612.1 L2872.6,614.2 L2871.5,616.6 L2871.4,619.3 L2871.6,621.9 L2872.4,624.4 L2871.1,627.2 L2871.7,630.3 L2872.7,633.1 L2872.9,636.1 L2870.4,637.9 L2869.3,640.7 L2865.9,641.3 L2864.8,644.5 L2863.8,648.3 L2861.9,651.7 L2857.9,652.1 L2854.8,654.6 L2850.6,655.5 L2846.8,657.3 L2843.1,659.9 L2838.6,659.7 L2842.4,659.6 L2846.1,659 L2849.6,657.6 L2852.9,655.9 L2849.4,656.5 L2846,657.7 L2843.1,660.1 L2839.3,660.4 L2838.8,663 L2838.5,665.6 L2838.8,668.2 L2838.2,670.8 L2836.8,673.1 L2836.2,675.7 L2835.6,678.3 L2835.7,681 L2835,678.9 L2809.6,685.6 L2784.1,692.2 L2758.6,698.7 L2733,705 L2707.4,711.2 L2681.8,717.2 L2685.7,716 L2689.8,715.7 L2686.8,716.6 L2684.9,719.1 L2682,718.8 L2679.2,717.8 L2674.4,718.5 L2670.1,720.9 L2667.5,721.2 L2664.9,720.7 L2663.1,722.7 L2660.4,723.3 L2658.9,728 L2658,732.9 L2656.6,736.8 L2656,740.9 L2652.6,743.1 L2649,745 L2649.7,747.7 L2649.7,750.5 L2648.3,753 L2647.6,755.7 L2645.1,756.8 L2643.2,758.8 L2640.6,760.3 L2639.9,763.2 L2636.7,765.3 L2634.7,768.7 L2633.2,772.2 L2630.8,775.2 L2627.4,777.9 L2623.4,779.9 L2619.7,782.7 L2618.7,787.3 L2619.4,792.1 L2621.8,796.4 L2622.4,799 L2624.5,800.7 L2626.9,801.5 L2629.3,802.4 L2628.5,806.9 L2627.8,811.5 L2628.5,814.7 L2629.4,817.8 L2631.7,820.3 L2632.3,823.6 L2632.7,826.3 L2632.8,829 L2632.3,831.8 L2630.8,834.2 L2629.6,837.1 L2627.6,839.5 L2624.7,840.6 L2621.8,841.7 L2620,845.7 L2615.6,846.1 L2612.2,847.9 L2609.7,850.8 L2605.5,851.6 L2603.7,855.5 L2599.8,856.4 L2597.6,859.8 L2593,861.6 L2588.1,860.5 L2584.2,863.3 L2579.5,864.4 L2577.1,866 L2574.3,866.7 L2571.8,868.1 L2568.9,868.3 L2566.4,868.3 L2563.9,868.7 L2561.3,868.8 L2559,867.5 L2554.1,866.7 L2549.2,865.9 L2544.7,866.8 L2540.3,868 L2535.9,870.1 L2531.1,868.9 L2528.2,869.4 L2525.3,868.9 L2522.5,869.8 L2519.6,870.2 L2516.7,870.6 L2514.1,872.2 L2512.6,874.9 L2509.9,876.5 L2506.5,878.8 L2502.6,880.6 L2498.5,881.4 L2494.2,881.6 L2493.5,885.3 L2494.9,888.8 L2495.4,892.4 L2498.2,894.7 L2498,898.5 L2501,900.9 L2503.8,903.2 L2504.7,906.7 L2506.4,909.9 L2509.5,911.7 L2507.6,913.5 L2506,915.5 L2507,918 L2506.1,920.5 L2503.9,924.9 L2499.8,927.4 L2497,928.7 L2494.2,929.8 L2494.5,932.8 L2493.6,935.8 L2492.3,938.1 L2490.9,940.3 L2489.6,942.5 L2487.7,944.4 L2484.8,945 L2482.4,946.6 L2479.2,945.8 L2476.7,947.8 L2476,950.7 L2474.8,953.4 L2473.3,956 L2470.8,957.7 L2468.5,959.4 L2466.7,961.5 L2463.9,960.8 L2461.1,960.4 L2459,961.8 L2457,963.4 L2455.8,965.7 L2453.8,967.3 L2450.4,967.6 L2448.3,970.3 L2446,972.5 L2444,975 L2440.8,976 L2437.9,977.9 L2435.7,980.7 L2435.7,984.2 L2433.9,986.3 L2431.7,987.9 L2430.4,990.4 L2428.3,992.1 L2425.8,993.4 L2423,993.7 L2420.3,993.4 L2417.6,993.9 L2413.5,995.4 L2410.6,998.5 L2406.9,1000.6 L2403.1,1002.4 L2400.2,1005 L2396.9,1007.1 L2394,1009.6 L2391,1012 L2386.2,1013.2 L2383.5,1017.4 L2382,1021.8 L2378.9,1025.3 L2376.5,1028 L2373.2,1029.2 L2370.2,1027.3 L2366.8,1026.5 L2363.9,1027.8 L2360.9,1028.8 L2357.7,1029.2 L2354.7,1030.2 L2351.4,1032.7 L2347.8,1034.9 L2343.6,1035.9 L2340.2,1038.6 L2337.8,1037 L2335.1,1036 L2333.8,1033 L2330.5,1032.6 L2325.8,1031.5 L2320.9,1031.4 L2317.5,1031.4 L2314.1,1030.9 L2311.2,1029 L2308.8,1026.5 L2305.6,1025.6 L2302.4,1025 L2299.4,1023.6 L2296.7,1021.7 L2292.4,1020.7 L2288.2,1019.3 L2287,1014.5 L2287.9,1011.7 L2289.1,1009 L2290,1005.9 L2293.1,1004.8 L2294.7,1001.9 L2297.9,1001.1 L2298.7,998.1 L2299.1,995.1 L2300.1,992.8 L2301,990.4 L2300.2,988 L2300.3,985.5 L2300.9,981.8 L2301.5,978.2 L2304,977.4 L2306.6,977.3 L2308.6,975.6 L2310,973.4 L2310.6,970.9 L2310.6,968.4 L2310.2,965.9 L2309.6,963.5 L2311.7,959 L2312.4,954 L2316.3,953.6 L2318.5,950.4 L2322.6,948.8 L2326.9,949.2 L2328.3,945.7 L2329.2,941.9 L2328,938.3 L2326.9,934.7 L2326.9,930.4 L2328.1,926.2 L2326.4,923.8 L2324.7,921.2 L2324.5,918.2 L2323.3,915.4 L2320.4,912.3 L2317.3,909.3 L2316.8,904.9 L2318.5,900.9 L2317.6,898.5 L2316.7,896.1 L2316.7,893.4 L2314.7,891.5 L2313.7,889.1 L2312.9,886.7 L2312.2,883.9 L2313.6,881.5 L2312,878 L2310,874.7 L2309.7,870.8 L2308.8,867 L2307.2,864.7 L2305.7,862.3 L2304.8,859.2 L2301.5,858.6 L2298.8,858.8 L2296.2,859.4 L2293.5,858.4 L2291.9,856.1 L2290.4,859.8 L2287.3,862.1 L2283.5,861.8 L2279.8,862.2 L2277.8,864.8 L2275.3,867 L2274.1,870.2 L2272.5,873.1 L2270.4,876 L2269.8,879.6 L2267.8,882.6 L2265.3,885.1 L2263,886.6 L2261.6,888.9 L2261.1,891.6 L2259.2,893.6 L2256.2,893.3 L2254,891.1 L2251.1,891 L2248.4,890 L2246.8,885.7 L2244.7,881.5 L2243.5,878.5 L2243.8,875.3 L2244.8,872.4 L2245.9,869.4 L2248.5,868.9 L2250.8,867.7 L2253.4,867.3 L2255.6,865.8 L2256.6,863 L2258.1,860.4 L2258.2,857.2 L2260.4,854.9 L2261.3,852.3 L2263.2,850.4 L2262.5,847.8 L2261.6,845.3 L2265,842.4 L2268.9,840.4 L2268.6,836.7 L2267.7,833 L2270.9,830.1 L2270.1,825.9 L2271.5,821.6 L2271.6,817.1 L2270.9,812.4 L2267.7,809 L2267,806.2 L2267.1,803.3 L2264.5,801.8 L2262.9,799.3 L2259.4,796.4 L2258,792.1 L2261.4,790.1 L2265.3,789.7 L2264.2,786.7 L2261.9,784.6 L2260.4,782 L2258,780 L2257.4,777.4 L2256.3,774.9 L2254,773.5 L2251.8,771.9 L2250.2,769.4 L2247.3,768.9 L2243.3,767.9 L2240.1,765.5 L2236.2,767.2 L2232.1,765.9 L2228.9,764.3 L2225.7,766 L2222.8,764.6 L2220.1,762.9 L2216.7,761.4 L2214.4,758.4 L2211,757.3 L2208,755.3 L2206,752.3 L2202.7,751.1 L2199.2,751.7 L2195.9,750.8 L2191.5,749 L2186.8,749.3 L2185.6,751.8 L2183.1,753.2 L2180.4,753.1 L2177.7,753.8 L2177.4,756.7 L2176.2,759.3 L2173.9,761.1 L2171.7,762.9 L2172.6,766.9 L2174.7,770.4 L2176.9,772.1 L2179.6,771.9 L2181.5,773.6 L2183.2,775.5 L2178.7,775.8 L2174.7,778 L2170.6,778.5 L2167.2,781 L2163.5,784.1 L2159.6,787 L2161.7,789.5 L2162.2,792.8 L2161.9,796 L2162.6,799.1 L2162.4,803.2 L2159.8,806.5 L2161.1,810.2 L2161.1,814.2 L2160.5,817.2 L2160.6,820.2 L2158,822 L2156.6,824.8 L2155.9,820.1 L2152.1,817.2 L2153,814.4 L2154.1,811.6 L2152.6,808.9 L2152.9,805.8 L2152.6,802.9 L2152.4,800.1 L2151.3,797.4 L2150.5,794.6 L2150.8,798.6 L2149,802.1 L2147.3,804.7 L2146.4,807.6 L2143.8,809.2 L2141.5,811.2 L2139.6,813 L2137.1,813.7 L2134.6,814.5 L2132.4,815.7 L2130.4,818 L2130.8,821 L2130.3,823.7 L2129.4,826.3 L2126.9,829.8 L2123.4,832.3 L2125.4,835.9 L2126.9,839.6 L2125.4,843.4 L2124.9,847.5 L2124.7,851.5 L2122.2,854.8 L2123,858.7 L2121.8,862.6 L2119.5,866.1 L2117.6,869.9 L2117.1,874.3 L2114.3,877.7 L2114.7,880.9 L2115.6,884.1 L2117.9,886.5 L2118.8,889.8 L2118.6,893.6 L2117.2,897.2 L2117.5,901 L2117.3,904.9 L2119,907.4 L2120.7,909.9 L2120.7,912.9 L2120.8,915.9 L2121.7,918.8 L2122.1,921.7 L2124.4,923.8 L2126.4,926 L2128.2,930.4 L2129.7,935 L2131.3,939.5 L2132.4,944.1 L2135.1,948.2 L2135.4,953 L2134.8,957.9 L2137,962.3 L2135.6,964.9 L2136.6,967.7 L2136.7,970.4 L2136.1,973 L2136.9,975.6 L2137,978.4 L2138.1,980.9 L2139.1,983.4 L2137,1010 L2133,1012.5 L2130,1016.2 L2127.2,1018.2 L2126.1,1021.5 L2122.9,1022.7 L2119.7,1023.6 L2121,1026.8 L2119.8,1030 L2119.4,1033.2 L2119.9,1036.3 L2117,1039.4 L2115.2,1043.3 L2111.4,1045.1 L2107.3,1046.4 L2103.6,1047.7 L2099.9,1049.2 L2096.3,1051.3 L2092.2,1051.4 L2089.6,1050.5 L2087.2,1049.3 L2084.5,1048.9 L2082.1,1047.4 L2080.6,1044.3 L2079.4,1041.1 L2076.4,1039.4 L2074.6,1036.3 L2072.4,1034.4 L2070.8,1032 L2070.4,1029 L2068,1027 L2067.3,1024 L2065,1022 L2065.4,1019 L2064.5,1016.2 L2061.1,1013.8 L2059.3,1010 L2056.9,971.3 L2055.8,968.6 L2057,965.8 L2054.8,964.2 L2052.5,962.7 L2050.5,958.2 L2050.8,953.2 L2049,950.9 L2048.1,948.1 L2046.9,945.5 L2046.3,942.6 L2049.4,941.2 L2049.7,937.8 L2050.4,935 L2050.8,932 L2055.4,901.8 L2055.1,899.2 L2055.1,896.5 L2055.8,893.9 L2056.3,891.3 L2057.5,888.7 L2058.4,886.1 L2056.8,883.6 L2056.9,880.7 L2059.1,876.3 L2062,872.3 L2060.7,867.5 L2061.4,862.6 L2063.3,860.4 L2063.9,857.6 L2064.5,854.8 L2065.6,852.2 L2063.6,850 L2063.8,846.9 L2063.9,844.1 L2062.9,841.4 L2061.5,837 L2062.4,832.4 L2065.4,829.1 L2069,826.3 L2070.4,824.2 L2071.7,822.1 L2072.9,819.8 L2075,818.2 L2074.8,815.7 L2074,813.2 L2074.6,810.7 L2075,808.2 L2074.8,805.3 L2074.5,802.5 L2075.3,799.7 L2075,796.8 L2076.9,794.6 L2078.7,792.4 L2081.6,791.7 L2084.1,790 L2084.5,786.6 L2085.8,783.4 L2087.7,780.5 L2090.1,778 L2088.9,780.6 L2088.6,783.5 L2086.6,785.5 L2084.1,787 L2081,789.5 L2077.6,791.6 L2076.5,795.4 L2075,799.1 L2075.1,802.7 L2073.8,806.1 L2071.4,808.6 L2069,811.2 L2066.4,814 L2064.1,817 L2061.8,820 L2059.9,823.3 L2057.7,827.4 L2057.3,832 L2054.2,835.3 L2050.8,838.4 L2048.7,841.8 L2045.4,844.3 L2042.8,847.4 L2040.2,850.5 L2037.9,849.2 L2035.7,847.5 L2036.8,842.6 L2040.1,838.8 L2041.3,834.2 L2041.8,829.3 L2045.3,828.6 L2047.7,825.9 L2050.4,823.9 L2053.1,821.8 L2053.7,818.2 L2052.2,814.9 L2052.3,811.4 L2053.8,808.2 L2053.1,805.3 L2054,802.4 L2056.5,801.1 L2058.8,799.3 L2058.4,796.6 L2059.5,794.1 L2060.7,791.6 L2062.9,790 L2064.3,787.8 L2064.3,785.1 L2065.3,782.7 L2066,780.3 L2067.4,778 L2068,775.4 L2070.2,773.9 L2072,771.9 L2072.5,768.5 L2073.6,765.2 L2076.4,763 L2078,759.8 L2078.8,763.2 L2081,765.9 L2083.2,762.8 L2085.6,759.8 L2088.6,757.4 L2090.1,753.8 L2094.5,751.9 L2099.2,750.8 L2098.9,753.9 L2096.2,755.5 L2095.2,758.2 L2095.5,761 L2096.3,763.8 L2095.5,766.5 L2094.9,769.2 L2094.6,771.9 L2096.8,768.8 L2099.2,765.9 L2100.5,763.4 L2102.6,761.6 L2104.4,759.5 L2105.2,756.8 L2106.5,754.2 L2106.7,751.3 L2108.3,748.6 L2111.3,747.7 L2113.1,745.6 L2115.9,745.8 L2118.7,745.5 L2120.3,743.2 L2123.6,743.6 L2126.3,741.7 L2129.3,742.5 L2132.4,741.7 L2135,740.9 L2137.5,741.9 L2139.2,739.8 L2141.5,738.7 L2142.8,735.8 L2144.5,733.1 L2147.8,732.9 L2150.5,731.1 L2153.6,730.8 L2156.6,730 L2159.6,730.5 L2162.6,731.1 L2166.9,733.3 L2171.7,734.2 L2175.5,736.4 L2179.3,738.7 L2183.3,739.5 L2186.8,741.7 L2186.6,737 L2188.3,732.6 L2192.3,732.8 L2195.9,731.1 L2200.7,730 L2204.9,732.6 L2208.2,732 L2210.9,730.1 L2214.3,730 L2217,732 L2219.8,733.8 L2223,734 L2225.8,732.1 L2229.1,732.6 L2233.5,732.3 L2236.4,729 L2240,731.1 L2244.2,731.1 L2241.4,727.2 L2238.2,723.6 L2233.7,723.7 L2229.1,723.6 L2227.1,722 L2224.6,721.3 L2222.4,720.1 L2220.1,719 L2217.2,718.9 L2214.8,717.5 L2212,717.2 L2209.5,716 L2209.6,713.3 L2210.8,710.8 L2210.4,708.1 L2211,705.5 L2209.5,702.6 L2208.1,699.6 L2207,696.6 L2206.5,693.4 L2203,695.6 L2198.9,696.4 L2195.5,698.2 L2192.9,700.9 L2189.8,701.3 L2186.9,702.3 L2183.8,702.3 L2180.8,701.8 L2177.3,702.2 L2173.9,703.2 L2171.4,700.7 L2168.1,699.4 L2168.5,696.9 L2169.4,694.4 L2167.6,692.6 L2165.8,690.7 L2165.2,686.1 L2167.2,681.9 L2164.7,683.2 L2162.1,684.1 L2159.4,684 L2156.6,684.3 L2151.9,683.6 L2147.2,682.8 L2145.3,687.3 L2141.5,690.3 L2137.5,690.6 L2134.1,692.4 L2130.2,692.1 L2126.4,691.9 L2125.2,694.4 L2122.4,695.1 L2119.9,694.3 L2117.3,694.9 L2114.5,696.7 L2111.4,698.2 L2107.7,698.1 L2105.2,700.9 L2102.1,704.7 L2097.7,707 L2093.9,706.7 L2090.1,707 L2087,710.8 L2082.6,713 L2078.9,710.6 L2075,708.5 L2070.2,709.3 L2065.9,711.5 L2061.8,708.8 L2056.9,708.5 L2055.1,705.9 L2052.4,704.5 L2050.7,702.1 L2049.3,699.4 L2047.1,697.4 L2045.6,694.8 L2043.9,692.4 L2041.8,690.3 L2038.7,689.6 L2035.7,688.9 L2032.6,688.5 L2029.7,687.3 L2026.6,687.8 L2023.5,687.4 L2020.7,686.1 L2017.6,685.8 L2014.5,686.2 L2011.5,687.3 L2008.8,689.4 L2007.8,692.6 L2005.2,694.6 L2002.5,696.4 L2001.4,691.9 L2001,687.3 L2002.8,684.1 L2003.5,680.5 L2005.1,677 L2008.5,675.2 L2010.7,671.7 L2010.7,667.4 L2014.7,666.2 L2017.6,663.2 L2020.6,661.8 L2022.9,659.4 L2023.7,656 L2026.6,654.1 L2029.4,654.1 L2031.5,652.4 L2032.9,650.3 L2034.2,648 L2031.6,647.3 L2028.9,647.7 L2026.4,646.4 L2023.6,646.5 L2020.4,647.3 L2017.2,646.4 L2014.7,648.6 L2011.5,649.6 L2009,651.2 L2006.1,651.2 L2003.9,653.1 L2002.5,655.6 L1998.9,656.5 L1997.8,660 L1995.4,662.1 L1993.4,664.7 L1990.6,667.2 L1987.5,669.3 L1984.2,671.3 L1981.3,673.7 L1978.9,677.9 L1975.3,681.3 L1972.5,683.4 L1969.8,685.4 L1966.2,685.3 L1963.2,687.3 L1960.5,690.2 L1958.5,693.6 L1955,695.5 L1951.1,696.4 L1947.9,696.9 L1944.9,695.9 L1942.1,697.4 L1939,697.9 L1937.2,699.9 L1935.4,702 L1932.8,703.3 L1929.9,702.4 L1927.6,704.6 L1925.3,706.8 L1923.6,709.6 L1920.9,711.5 L1917.3,711.7 L1914.6,714 L1912.2,716.6 L1908.8,717.5 L1905,716.2 L1901.6,714 L1897.6,714.3 L1893.7,713 L1890.7,711.5 L1888.3,714.6 L1884.6,716 L1887.5,712.8 L1887.6,708.5 L1889.1,706.4 L1890.6,704.4 L1889.8,701.9 L1890.7,699.4 L1890.1,695.9 L1887.6,693.4 L1883.9,693.5 L1881.6,696.4 L1878.6,696.4 L1876.4,698.4 L1875.1,701 L1872.5,702.4 L1869.6,702.5 L1867.1,701.1 L1864.4,700.3 L1861.6,700 L1859.7,702 L1858,704.3 L1856,706.2 L1854.4,708.5 L1852.2,710.4 L1849.3,711.1 L1846.9,712.5 L1844.6,714.2 L1841.3,714.6 L1839,717 L1836.2,715.5 L1833.2,714.5 L1829.6,714.2 L1827.2,711.5 L1829.6,707.9 L1833.2,705.5 L1835.8,704.4 L1838.1,703 L1839.6,700.6 L1841.6,698.8 L1842.4,696.1 L1844,693.8 L1846.5,692.4 L1848.4,690.3 L1852,690.1 L1854.3,687.4 L1856.7,684.9 L1859.9,683.8 L1862.1,681.1 L1864.8,678.9 L1863.8,675.1 L1866.5,672.2 L1868.8,670.7 L1870.8,668.8 L1873,667 L1875.8,666.4 L1877.9,664.6 L1879.7,662.4 L1881.2,659.9 L1881.6,657.1 L1884.6,656.3 L1887.6,655.1 L1889.4,652.6 L1890.8,649.7 L1893.5,648.4 L1895.6,646.3 L1897.3,643.8 L1899.7,642 L1902.7,641.2 L1905.7,640.3 L1908.4,638.8 L1910.9,637 L1913.8,635.8 L1916.9,634.9 L1918.3,632 L1920.9,629.9 L1923.4,627.8 L1926.3,626.2 L1929.4,625 L1932.8,625.2 L1935,622.7 L1936.5,619.8 L1939.3,618.1 L1942,616.3 L1937.6,617.7 L1933,617.8 L1929.4,617.5 L1926.9,614.8 L1923.8,613.6 L1920.9,611.8 L1916.5,609.7 L1911.8,610.5 L1907.3,611.2 L1902.7,611.8 L1899,613.1 L1895.2,612.4 L1891.6,614.4 L1887.6,613.3 L1885.7,610.4 L1886.1,606.9 L1883,605.8 L1880.1,604.2 L1877.7,605.7 L1875.2,607 L1874.7,609.8 L1873.6,612.5 L1870.8,612.9 L1868.2,611.9 L1865.3,612.5 L1863.5,614.8 L1859.7,614 L1855.8,614.6 L1851.8,614 L1848.4,616.3 L1844.3,614.2 L1843.4,609.8 L1840.4,606.8 L1836.3,605.7 L1833.4,603.7 L1830.2,602 L1827,600.4 L1824.2,598.2 L1821.8,600.4 L1819.1,602.2 L1815.9,603.2 L1813.6,605.7 L1813.1,601.9 L1812.1,598.2 L1808.6,599.4 L1805.3,597.9 L1802.5,595.9 L1800,593.7 L1797.6,594.2 L1793.5,593.7 L1789.4,593.6 L1787.2,590.1 L1785,586.6 L1782.7,585.2 L1780.2,584.5 L1777.9,583.3 L1775.3,582.6 L1772.8,583.5 L1770.1,583.2 L1767.5,583.4 L1764.8,583.1 L1760.3,584.4 L1755.7,585.3 L1751.1,586.5 L1747.2,589.2 L1746.2,586.5 L1744.2,584.7 L1742,583 L1739.7,581.6 L1712,579.1 L1709.4,577.9 L1706.9,576.6 L1704,576.1 L1701.9,574.1 L1701.7,571.3 L1699.8,569.2 L1700.3,566.5 L1699.4,564 L1699.1,560.3 L1696.9,557.5 L1695.8,553.9 L1692.6,552 L1689.2,551 L1686.1,549.4 L1682.7,548.8 L1679.2,548.9 L1678.6,553.4 L1678.2,557.9 L1678.5,556.2 L1655.2,556.3 L1631.9,556.3 L1608.6,556.2 L1585.3,556 L1562,555.7 L1538.7,555.2 L1515.4,554.6 L1492.1,553.9 L1468.8,553 L1445.5,552.1 L1422.3,551 L1399,549.8 L1375.7,548.5 L1352.5,547 L1329.2,545.4 L1306,543.7 L1282.7,541.9 L1259.5,540 L1236.3,537.9 L1213.1,535.7 L1189.9,533.4 L1166.7,531 L1143.5,528.4 L1120.4,525.7 L1097.2,522.9 L1074.1,520 L1051,517 L1027.9,513.8 L1004.9,510.5 L981.8,507.1 L958.8,503.6 L935.7,499.9 L912.7,496.1 L889.8,492.2 L866.8,488.2 L843.9,484.1 L821,479.8 L798.1,475.4 L775.2,470.9 L752.3,466.3 L729.5,461.6 L706.7,456.7 L684,451.7 L661.2,446.6 L638.5,441.4 L615.8,436 L593.2,430.6 L570.5,425 L547.9,419.3 L525.4,413.5 L502.8,407.5 L480.3,401.5 L457.9,395.3 L435.4,389 L413,382.6 L410.7,385.2 L413,387.5 L412,390.6 L410.7,393.1 L410,395.7 L411.3,400.2 L412.3,404.8 L415.1,402.1 L419.1,401.8 L418.9,404.9 L417.8,407.8 L417.5,411 L419.1,413.9 L416.6,417.8 L413.8,421.4 L412.4,423.8 L410.7,426 L410.8,428.6 L412,431 L413.4,433.2 L415.3,435 L415.8,438.6 L414.3,441.8 L414.8,445.3 L413.8,448.6 L415.5,452.3 L416.8,456.2 L413.8,460 L410.7,463.7 L407.9,467.7 L404.7,471.3 L404.7,474.3 L404.3,477.4 L404,480.4 L403.2,483.4 L402.4,488.2 L400.2,492.4 L397.8,493.8 L396.9,496.4 L396.2,499 L397.1,501.5 L394,501 L391.1,502.3 L389,504.6 L388.1,507.5 L385.5,507.7 L383.1,508.3 L381.8,510.8 L379,511.3 L376.1,508.9 L373.7,506 L373.2,501.3 L375.2,497 L378.4,495 L382,493.9 L384.9,494.4 L387.7,493.9 L390,492.1 L392.6,490.9 L394.7,488.7 L394.8,485.6 L396.5,483.2 L397.1,480.3 L397.8,475.5 L400.2,471.3 L401.3,468.8 L403,466.6 L404.4,464.3 L406.2,462.2 L407,458.5 L409.2,455.4 L407.7,452 L406.2,448.6 L406,445.9 L405.2,443.2 L406.8,440.9 L407,438 L405.9,434.2 L404.7,430.5 L402.2,432.5 L400.2,435 L399.8,438.6 L397.1,441.1 L394.1,442.6 L391.1,442.6 L386.7,441.1 L382,441.1 L379.2,437.9 L376,435 L372.2,433.8 L368.6,432.2 L364.8,430.9 L360.9,430.5 L358.8,427.7 L355.5,426.4 L352.3,424.8 L348.8,425.2 L345,425.3 L342.2,422.8 L339.8,420.2 L336.7,418.4 L333.8,415.6 L331,412.8 L328,410.1 L324.6,407.8 L322.8,404 L318.8,402.6 L316.2,399.6 L312.5,398Z"/>
<path d="M249.3,1425.6 L253,1424.3 L256.9,1424.1 L257.8,1426.5 L257.9,1429.1 L254.3,1429.6 L250.8,1429.1Z"/>
<path d="M260.4,1431.6 L264.9,1430.2 L269.5,1429.1 L271.1,1432.4 L274.5,1434.1 L270.6,1436 L269.5,1440.2 L265.8,1438.8 L261.9,1438.2Z"/>
<path d="M278.5,1433.1 L281,1431.4 L283.8,1430.3 L286.6,1431.4 L289.6,1431.6 L292.3,1433.6 L295.7,1433 L298.3,1434.6 L300.7,1436.6 L298.9,1439.1 L297.2,1441.7 L293.9,1442.9 L290.8,1441.6 L287.7,1440.6 L284.6,1440.2Z"/>
<path d="M342.5,1490.5 L346,1492.4 L350,1492 L351.3,1494.5 L351.7,1497.2 L354.4,1497.9 L356.6,1499.6 L357,1502.1 L356.6,1504.6 L353.6,1502.6 L350,1502.1 L348.1,1499 L345,1497.1Z"/>
<path d="M334.9,1519.7 L337.6,1523.4 L340,1527.3 L342,1531.8 L345,1535.8 L341.5,1537.4 L339.5,1535.7 L337.7,1533.8 L335.6,1531.7 L336.4,1528.8Z"/>
<path d="M284.6,1490.5 L287.2,1490.4 L289.6,1489.5 L292.1,1493.5 L289.8,1495 L287.1,1494.5Z"/>
<path d="M2938.5,919.7 L2938.8,917 L2937.9,914.4 L2939.6,912.3 L2942.1,911.2 L2945.5,909.5 L2948.1,906.7 L2952.1,907.7 L2955.7,909.7 L2954,912.1 L2951.2,912.7 L2947.4,914.3 L2943.6,915.7Z"/>
<path d="M2964.8,912.7 L2969.4,913 L2973.8,914.2 L2977.2,915.5 L2980.8,915.7 L2979.6,913.5 L2977.8,911.7 L2978.1,909.2 L2978.4,906.7 L2977.1,909.1 L2975.3,911.2 L2972.1,911.3 L2969.3,912.7Z"/>
<path d="M2787.6,1007 L2790.6,1003.3 L2793.9,999.8 L2793.8,995.9 L2795.7,992.5 L2798.4,991.9 L2800.4,990 L2802.5,988.4 L2804.8,987.1 L2807.3,986.8 L2809.7,986.3 L2811.5,984.4 L2813.8,983.4 L2815.4,979.9 L2819,978.6 L2821.3,975.7 L2824.7,974.4 L2828.2,973 L2832,972.6 L2833.9,970 L2836.6,968.4 L2839.7,968.6 L2842.9,968.9 L2846.4,969.7 L2849.9,969.5 L2850.9,965.9 L2853.7,963.5 L2855.5,961.5 L2858.1,960.6 L2859.3,958.3 L2861,956.3 L2863.3,953.5 L2866.4,951.7 L2869.1,952.7 L2871.9,953.5 L2869.5,956.6 L2866.4,959 L2871.1,958.7 L2875.5,957.2 L2878.8,956.2 L2882.2,955.4 L2884.4,952.2 L2888.2,951.7 L2886.4,955.3 L2883.3,958.8 L2879.1,960.8 L2875.9,961.8 L2872.6,962.1 L2870.4,964.6 L2868.2,967.1 L2864.8,967.9 L2861.3,967.8 L2859,970.4 L2857.4,973.5 L2855,975.6 L2852.1,976.5 L2848.8,976.6 L2846.5,978.9 L2843.5,982 L2839.4,983.3 L2835.9,985.6 L2832,987.1 L2828.4,989.4 L2824.7,991.5 L2822,995.3 L2817.5,996.1 L2815.5,999.6 L2811.6,1000.3 L2808.5,1002.5 L2804.8,1002.5 L2802.3,1004.8 L2798.9,1004.8 L2796.3,1006.7 L2793.9,1008.8 L2791.2,1011.2 L2787.6,1011.5Z"/>
<path d="M385.8,403.3 L388.5,402.7 L391.1,401.8 L395.5,403.9 L400.2,402.5 L402.9,404.6 L403.9,407.8 L401.8,411.3 L401.7,415.4 L400.1,418.9 L397.1,421.4 L394.2,419.1 L391.1,416.9 L389,413.7 L386.6,410.9Z"/>
<path d="M1960.2,623.9 L1963.7,624.5 L1966.3,622 L1968.5,619.5 L1969.2,616.3 L1972,614.1 L1975,612.1 L1978.2,610.5 L1981.3,608.8 L1985.3,607.8 L1989.3,607.1 L1991.9,604 L1994.9,601.2 L1995.8,604.2 L1992.4,605.9 L1988.9,607.2 L1985.6,609.5 L1984.3,613.3 L1980.7,615.6 L1979.8,619.9 L1976,621.1 L1972.3,622.4 L1968,624.9 L1963.2,626.3Z"/>
<path d="M214.1,1121.9 L218.2,1121.7 L221.6,1119.4 L223.2,1122.1 L225.1,1124.4 L222.9,1128.8 L219.1,1132 L218.7,1134.6 L217.6,1137 L217.8,1139.7 L216.6,1142.1 L218.7,1145.8 L220.1,1149.7 L224.1,1152.4 L224.1,1157.2 L223.8,1160.1 L225.2,1162.7 L224.1,1165.6 L225.6,1168.2 L223.3,1166.2 L220.6,1164.7 L218.7,1161.6 L218.4,1157.9 L214.6,1156.2 L214.1,1152.1 L213.7,1148.9 L213.5,1145.7 L211.7,1142.9 L211.5,1139.5 L212.6,1137 L214.1,1134.7 L215.5,1132.3 L215.6,1129.5Z"/>
<path d="M2715,1355.9 L2718.8,1353.4 L2723.2,1354.1 L2726.3,1353.5 L2729.3,1352.6 L2731.7,1350.6 L2734.1,1348.6 L2736.7,1347.2 L2739.6,1347.2 L2742.7,1347.2 L2744.9,1345 L2747.7,1345.1 L2750.5,1345.3 L2753,1344.1 L2755.8,1344.1 L2759.5,1344 L2763.1,1344.1 L2765.1,1347.9 L2768.5,1350.4 L2771.2,1351.8 L2774,1353.2 L2770.3,1352.7 L2766.7,1352.2 L2763.2,1350.5 L2759.5,1349.5 L2756.7,1353.2 L2756.1,1355.9 L2756.8,1358.6 L2758.2,1361.2 L2757.6,1364 L2756.3,1366.3 L2755.9,1368.9 L2755.1,1371.4 L2755.8,1374 L2755.9,1371.4 L2755,1368.9 L2754.8,1366.1 L2753.1,1364 L2754.1,1361 L2753,1358.1 L2752,1355.3 L2752.2,1352.2 L2749.7,1353.6 L2747,1354.8 L2744.2,1354.5 L2741.3,1354.1 L2739.4,1356.7 L2736.2,1357.2 L2733.5,1358.5 L2730.4,1358.6 L2727.5,1359.5 L2724.4,1358.7 L2721.9,1360.3 L2719.6,1362.2 L2715,1361.3Z"/>
<path d="M2774.9,1355 L2776.9,1357.3 L2779.2,1359.3 L2781.6,1361.2 L2783,1364 L2784.8,1366.5 L2786.3,1369 L2786.1,1372.1 L2787.6,1374.9 L2787.6,1377.8 L2789.2,1380.2 L2788.2,1382.9 L2788.8,1385.8 L2788.7,1390.1 L2788.8,1394.5 L2787.2,1398 L2785.2,1401.2 L2781.3,1401.3 L2777.6,1402.5 L2774.8,1405 L2771.6,1407.1 L2768.9,1410 L2764.9,1410.6 L2761.9,1412.1 L2759.3,1414.2 L2758.5,1417.4 L2757.6,1420.6 L2756.8,1423.8 L2756.1,1427.1 L2752.8,1428.2 L2750.7,1431.1 L2749.4,1426.6 L2748.6,1422 L2745,1421 L2741.3,1421.1 L2738.7,1422.5 L2736,1423.6 L2733.2,1424.6 L2730.4,1425.7 L2728,1427.6 L2725.7,1429.8 L2722.6,1430.5 L2719.6,1431.1 L2716.5,1428.1 L2712.3,1427.5 L2715,1427 L2717.8,1426.6 L2720.4,1425.5 L2723.2,1425.7 L2724.9,1423.5 L2726.9,1421.7 L2729.6,1420.9 L2732.3,1420.2 L2735.1,1417 L2736.8,1413 L2736.1,1409.8 L2736.8,1406.6 L2733.8,1404.1 L2730.4,1402.1 L2726.8,1401.3 L2723.3,1400.4 L2719.6,1399.4 L2715.9,1400.3 L2712.5,1401.1 L2709.3,1399.4 L2706.4,1397.7 L2703.2,1396.7 L2706.8,1397.6 L2710.4,1398.2 L2714.1,1397.5 L2717.7,1397.6 L2722,1398.1 L2725.8,1399.9 L2730.1,1399.9 L2734.1,1398.5 L2737.6,1399.8 L2741.3,1400.1 L2744.9,1398.9 L2748.6,1398.5 L2753.3,1397.1 L2757.6,1394.8 L2761,1391.9 L2762.2,1387.6 L2764.4,1384.3 L2764.9,1380.3 L2768.2,1377.8 L2771.2,1374.9 L2772.1,1372.2 L2772,1369.4 L2772.7,1366.8 L2773,1364 L2772.6,1360.1 L2770.3,1356.8Z"/>
<path d="M302.2,552.9 L304.8,553 L307.4,552.9 L310,553 L312.4,553.8 L314.9,555.3 L317.6,554.4 L319.7,555.9 L322.3,556.4 L324.6,558 L326.6,559.7 L328,562.1 L329.9,564 L332.5,566.2 L335.7,567.7 L339,566.7 L342.5,566.5 L344.6,569.3 L346.6,572.2 L348.3,575.5 L347.5,579.1 L347,581.6 L346.8,584.1 L347.2,586.7 L347,589.2 L347.9,591.8 L349.5,594 L349.1,596.6 L348.5,599.2 L349.9,602.7 L352.6,605.1 L352.5,609 L355.1,611.8 L356.4,615.8 L360.2,617.3 L364.2,616.2 L367.7,618.4 L370.2,618.9 L372.8,619.4 L375.3,619.7 L377.9,619.9 L380.6,620.1 L383,618.7 L385.6,618.2 L387.8,616.9 L391.7,617.2 L395.3,618.6 L399.1,618.7 L402.9,619.4 L404.8,621.3 L406.8,623 L409.4,623.7 L412.1,623.9 L414.2,625.2 L416.4,626.5 L418.6,627.8 L420.6,629.4 L423.4,628.5 L426,627 L429,627 L431.9,626 L435,625.4 L438,626.3 L440.6,628 L443.2,629.4 L445.3,631.2 L448,631.9 L450.9,631.4 L453.3,633 L457.1,632.1 L460.9,632.7 L464.7,632.4 L468.4,633.5 L472.1,631.2 L476.1,632.7 L480,632.1 L483.5,630.5 L487.8,629.1 L492.3,628.9 L496.6,630.4 L501.1,629.4 L528.8,632 L532.7,630.2 L557,636.2 L581.4,642 L605.8,647.6 L630.2,653.2"/>
<path d="M670.2,448.6 L662.4,483.4 L654.5,518.3 L646.7,553.2 L638.8,588.2 L630.9,623.3 L630.6,626.9 L628.6,629.4 L628.8,632.7 L628.6,635.9 L629.9,638.9 L630.6,642 L632.5,645 L633.1,648.4 L632.4,652.4 L628.6,653.6 L631,656.4 L632.4,659.9 L634.1,663.4 L633.6,667.2 L636.6,667.8 L639.1,669.6 L639.8,672.6 L642.2,674.8 L644.8,678.9 L644.7,683.8 L641.2,686.4 L640.2,690.7 L637.2,693.6 L635.6,697.4 L633.7,700 L635,702.9 L632.9,704.8 L632.2,707.6 L630.1,709.3 L628.7,711.6 L627.1,713.9 L624.5,715 L624.3,717.8 L624.5,720.5 L623.2,723 L622.8,725.8 L621.5,728.3 L619.8,730.6 L617.1,731.5 L614.5,732.7 L612.2,736.9 L610.5,741.3 L606.3,743.5 L601.9,745.3 L598.1,748.3 L595.7,752.5 L593.9,757.1 L590.3,760.4 L590,762.9 L589.9,765.4 L588.3,767.8 L589.3,770.4 L592.9,770.2 L595.9,772.1 L597.8,774.9 L599.4,778 L601,781.7 L601.9,785.5 L601.6,789.7 L599.4,793.3 L597,796.7 L595.8,800.7 L591.2,802.2 L581.9,843.3 L572.7,884.5 L563.4,925.7"/>
<path d="M715.1,458.5 L707.9,492.3 L700.6,526.1 L700.1,528.7 L700.9,533 L699.7,537.3 L701.5,541.3 L705.1,543.8 L706.3,547.2 L706.2,550.7 L708.3,553.5 L710.2,556.4 L708.2,559.4 L709.2,562.8 L708.3,565.9 L707.6,569 L710.2,569.7 L712.3,571.4 L713.1,573.8 L714.5,576.1 L716.6,577.6 L718.1,579.6 L719.4,581.8 L720.2,584.1 L721.7,586.3 L723.4,588.2 L724.9,590.4 L726.9,592 L728.4,594.2 L729.6,596.5 L729.6,599.2 L730.3,601.7 L730.1,605.5 L732.4,608.5 L734.9,611 L736.4,614.3 L738.2,617.4 L739.3,620.8 L740.4,624.3 L742.9,626.9 L745.7,627.5 L748.2,629 L750.6,630.4 L753,632 L757.1,634.7 L761.5,637 L761.4,641.7 L762.1,646.3 L758.9,649.9 L758,654.6 L754.6,657.6 L751.2,660.7 L750,663.1 L748.2,665 L749,667.5 L750.5,669.7 L748.3,671.7 L746.7,674.1 L747.8,677.4 L745.4,679.8 L746.9,682.2 L746.3,684.9 L746.7,687.5 L747.9,689.9 L744.8,692.2 L744,696.1 L742.7,699.6 L740.4,702.5 L739.7,706.4 L737.9,710 L739.2,712.2 L740.8,714.1 L742.9,715.5 L745.4,716.1 L748.3,715.2 L751.1,714.1 L753,711.8 L755.5,710 L758.3,708.7 L760.1,706.3 L763,705.6 L765.6,704 L765.8,707.6 L768.7,710 L771.5,712 L773.1,715 L775.1,717.2 L774.1,720 L774.3,722.6 L774.1,725.1 L775.3,727.5 L775.3,730.1 L776.3,732.6 L775.6,735.2 L777.7,738.7 L778,742.8 L778.6,746.8 L780.7,750.3 L781.8,754.1 L781.2,758 L780.1,762.3 L783.2,765.4 L786.8,767.5 L789.9,770.4 L791.2,774.4 L793.3,778 L795.6,782 L797.6,786.3 L796.6,791.1 L798.3,795.6 L799.1,798.3 L801.1,800.3 L803.6,801.8 L804.3,804.7 L808.5,803.4 L810.9,799.6 L814.5,801.4 L818.4,800.9 L822.2,799.2 L826,800.7 L829.9,798.9 L833.6,796.6 L838.3,797.2 L843,797.1 L847.4,798.8 L851.2,801.7 L854.6,801.4 L856.3,798.5 L859.4,798.4 L862.3,799.6 L865.2,800.1 L867.9,798.7 L869.4,801.1 L871.3,803.2 L873.2,800.6 L875.1,798.1 L877.1,795.7 L878.9,793.1 L880.7,795.1 L882.4,797.2 L884.5,798.8 L886.4,800.7 L887.8,803.7 L887.3,807 L889.2,809.5 L891.5,811.7"/>
<path d="M205.5,830.8 L230.5,838.4 L255.5,845.9 L280.6,853.2 L305.7,860.3 L330.8,867.4 L356,874.3 L381.3,881 L406.5,887.7 L431.8,894.2 L457.1,900.5 L482.5,906.8 L507.9,912.9 L533.3,918.8 L558.7,924.6 L584.2,930.3 L609.7,935.9 L635.3,941.3 L660.9,946.6 L686.5,951.7 L712.1,956.7 L737.7,961.6 L763.4,966.3 L789.1,970.9 L814.9,975.4 L840.6,979.7 L866.4,983.9"/>
<path d="M414.5,889.7 L405.7,923.8 L396.9,957.9 L388.1,992.1 L379.3,1026.2 L370.5,1060.4 L361.6,1094.5 L382.7,1129.1 L404.2,1163.5 L426,1197.8 L448.1,1232.1 L470.6,1266.3 L493.5,1300.4 L516.7,1334.3 L540.2,1368.2 L564.1,1402 L588.3,1435.6"/>
<path d="M714.3,957.2 L707.7,991.7 L701,1026.3 L694.3,1060.9 L687.5,1095.5 L680.8,1130.2 L674.1,1164.8 L667.4,1199.5 L660.7,1234.1 L654,1268.7 L647.3,1303.4 L637.1,1358.6 L634.7,1360.7 L633,1363.4 L630.4,1365.4 L629.6,1368.7 L625.8,1367.5 L622,1366.1 L620,1363.9 L619.9,1360.9 L617.9,1358.8 L617,1356.1 L614.4,1355.3 L612.1,1353.8 L609.4,1354 L606.8,1354.7 L604.3,1355.6 L601.7,1355.9 L599.1,1356.1 L596.8,1357.6 L596.8,1360.4 L596.1,1363.1 L598.4,1365.3 L597.9,1368.4 L594.9,1369.8 L593.3,1372.6 L594.3,1375.6 L594.3,1378.7 L595.1,1381.9 L596.2,1384.9 L596.1,1388.2 L595.7,1391.4 L596.2,1394.7 L596.4,1398 L595.3,1401.2 L593.3,1403.9 L594.1,1407.5 L596.4,1410.4 L595.4,1413.8 L593.4,1416.8 L590.8,1419.4 L587.9,1421.8 L588.7,1425.4 L589.3,1429.1 L586.8,1433.1 L587.8,1437.1 L588.1,1441.2 L589.7,1445.1 L589.3,1449.2 L591.7,1452.5 L593.5,1456.2 L592.5,1460.4 L594.3,1464.3 L596.6,1466.9 L596.6,1470.4 L596.6,1473.7 L596.8,1476.9 L599.4,1479.6 L601.6,1482.6 L603,1486 L605.9,1488.5 L603.7,1491.4 L601,1494 L597.6,1495.3 L594.3,1497.1 L591.7,1499.6 L588.8,1501.6 L586.6,1504.4 L584.2,1507.1 L583.8,1510.8 L584.2,1514.4 L582.2,1517.6 L579.2,1519.7 L577.3,1523.3 L576.6,1527.2 L576,1531.2 L574.2,1534.8 L572.2,1539 L569.3,1542.5 L564.9,1544.1 L561.6,1547.4 L559.5,1551.8 L561.1,1556.3 L558.8,1560.4 L559.1,1565 L561.7,1567.5 L563.9,1570.2 L567,1572.2 L569.1,1575.1 L568.3,1577.6 L567.5,1580.1 L567.2,1582.7 L566.6,1585.2 L562.6,1585 L558.6,1585.3 L554.7,1586.6 L551.5,1589.2 L551,1593.4 L548.8,1597.1 L545.8,1600 L544,1603.8"/>
<path d="M647.3,1303.4 L675,1308.7 L702.8,1313.8 L730.7,1318.7 L758.5,1323.5 L786.4,1328.2 L814.3,1332.7 L842.3,1337.1 L870.2,1341.3 L898.2,1345.4 L926.2,1349.3 L954.2,1353 L982.2,1356.6 L1010.3,1360.1 L1038.4,1363.4 L1066.5,1366.6 L1094.6,1369.6 L1122.7,1372.4 L1150.8,1375.1 L1179,1377.7 L1207.2,1380.1 L1235.3,1382.3 L1263.5,1384.4 L1291.7,1386.4 L1319.9,1388.2 L1348.2,1389.8 L1376.4,1391.3 L1404.6,1392.6 L1432.9,1393.8 L1461.1,1394.8 L1489.4,1395.7 L1517.6,1396.5 L1545.9,1397 L1574.2,1397.5 L1602.4,1397.7 L1630.7,1397.9 L1659,1397.8 L1687.2,1397.6 L1715.5,1397.3"/>
<path d="M899.6,775.9 L894.1,810.5 L888.5,845.1 L883,879.7 L877.5,914.4 L871.9,949.1 L866.4,983.9 L860.8,1018.7 L855.3,1053.4 L889.7,1058.8 L924.1,1063.9 L958.6,1068.8"/>
<path d="M958.6,1068.8 L953.7,1104.4 L948.8,1139.9 L943.9,1175.5 L939,1211.1 L934,1246.7 L929.1,1282.2 L924.2,1317.8 L919.3,1353.4 L914.4,1389 L909.5,1424.6 L904.5,1460.1 L899.6,1495.7 L894.7,1531.2 L889.8,1566.7 L884.9,1602.2 L880,1637.7 L875.1,1673.1 L870.2,1708.5 L865.3,1743.9"/>
<path d="M899.6,775.9 L925.8,780 L952.1,784 L978.4,787.8 L1004.7,791.4 L1031,795 L1057.4,798.3 L1083.8,801.6 L1110.2,804.6 L1136.6,807.5 L1163,810.3 L1189.4,812.9 L1215.9,815.4 L1242.3,817.7"/>
<path d="M855.3,1053.4 L882.6,1057.7 L910,1061.9 L937.4,1065.9 L964.8,1069.7 L992.3,1073.4 L1019.7,1076.9 L1047.2,1080.3 L1074.7,1083.5 L1102.2,1086.6 L1129.8,1089.5 L1157.3,1092.2 L1184.9,1094.8 L1212.5,1097.3 L1240.1,1099.6 L1267.7,1101.7 L1295.3,1103.7 L1322.9,1105.6 L1320.7,1140.7 L1318.4,1175.9 L1316.2,1211.1 L1313.9,1246.3 L1311.7,1281.6 L1309.4,1316.8 L1307.2,1352 L1305,1387.2"/>
<path d="M1265.9,540.5 L1263,574.9 L1260,609.4 L1257.1,644 L1254.2,678.6 L1251.2,713.3 L1248.3,748.1 L1245.3,782.9 L1242.3,817.7 L1239.4,852.6 L1236.4,887.6 L1233.4,922.5 L1230.5,957.5 L1227.5,992.6 L1224.5,1027.6 L1221.5,1062.7 L1218.6,1097.8"/>
<path d="M1247.9,752.3 L1273.9,754.4 L1299.8,756.4 L1325.8,758.2 L1351.8,759.9 L1377.8,761.4 L1403.8,762.8 L1429.8,764.1 L1455.8,765.2 L1481.8,766.2 L1507.8,767 L1533.9,767.6 L1559.9,768.2 L1585.9,768.5 L1612,768.8"/>
<path d="M1230.5,957.5 L1256,959.6 L1281.6,961.6 L1307.2,963.4 L1332.8,965.1 L1358.4,966.7 L1384,968.1 L1409.6,969.4 L1435.2,970.5 L1460.9,971.6 L1486.5,972.4 L1512.1,973.2 L1513,973.4 L1515.1,976.8 L1518.6,978.7 L1521.2,982.2 L1525.6,981.9 L1527.3,984.8 L1529.8,987 L1532.2,989.5 L1535.7,990 L1540.1,988.5 L1543.2,985 L1546.4,986 L1549.5,987.1 L1552.6,985.9 L1555.8,985 L1560.2,984.1 L1564.6,985 L1569,984 L1573.4,985 L1577.1,985.1 L1580.3,986.7 L1583,989.1 L1586,991 L1589.4,991.7 L1592.8,992.4 L1595.5,994.5 L1598.6,996 L1602.7,998 L1606.2,1001.1 L1607,1004.3 L1609.6,1006.4 L1610.7,1009.6 L1613.7,1011.1 L1615.5,1014.5 L1614.3,1018.2 L1615.9,1021.5 L1618.8,1023.7 L1619,1026.2 L1618.6,1028.8 L1619.9,1031 L1620.9,1033.2 L1624.3,1036.9 L1626.3,1041.4 L1626.8,1045.4 L1627.7,1049.3 L1629.6,1052.8 L1631.4,1056.5 L1631.9,1060.3 L1632.7,1064.1 L1632,1068.4 L1634.9,1071.6 L1638.5,1074.2 L1639.4,1078.6 L1640.7,1082.6 L1641.4,1086.7 L1645.3,1089.2 L1644.8,1093.8 L1644.2,1097.8 L1645,1101.8 L1643.1,1105.5 L1644.4,1109.5 L1646.1,1113 L1646.5,1116.9 L1646,1120.8 L1647.2,1124.5 L1646.6,1128.6 L1649,1132 L1651.4,1134.6 L1651.8,1138 L1653,1141.2 L1653,1144.6 L1653.9,1147.7 L1655.2,1150.8 L1655.2,1154.1 L1656.5,1157.2 L1659.4,1160.1 L1659.2,1164.1 L1661.1,1167.5 L1664.1,1169.8 L1665.7,1173.2 L1668.5,1175.7 L1669.8,1179.1 L1671.7,1182.3 L1674.1,1183.9 L1674.9,1186.6 L1676.1,1189.5 L1679.2,1189.9 L1683.1,1191.1 L1687,1191.6 L1691.5,1191.4 L1694.3,1194.9 L1697,1198.6 L1699.4,1202.5 L1697.4,1205.6 L1694.1,1207.3 L1691.8,1210 L1689.3,1212.6 L1689.5,1215.2 L1689.7,1217.8 L1689.8,1220.6 L1691.8,1222.6 L1696.4,1223.5 L1700.2,1226.2 L1700.6,1230.8 L1701.9,1235.2 L1706.5,1236.1 L1707.9,1240.6 L1712.1,1241.6 L1714.5,1245.3 L1713.9,1249.1 L1714.3,1285.8 L1714.8,1322.5 L1715.2,1359.2 L1715.6,1395.9 L1716,1432.6 L1717.5,1431.6 L1728.1,1509.7 L1727.1,1633 L1752.6,1639.9 L1753.3,1676.5 L1754.1,1713.1 L1754.9,1749.6 L1754.8,1700 L1754.8,1745.3 L1754.9,1748.3 L1755.9,1751 L1758.8,1752.3 L1759.7,1755.4 L1760.8,1758 L1761.8,1760.7 L1763.7,1762.8 L1764.8,1765.5 L1766.9,1767.9 L1767.4,1771 L1765.7,1773.9 L1766.9,1777 L1769,1779.1 L1771.1,1781.2 L1773.2,1783.2 L1774.9,1785.6 L1776.8,1788.2 L1776.4,1791.3 L1776.5,1794.3 L1776.9,1797.2 L1779.9,1798.3 L1781.3,1801.1 L1782.9,1803.6 L1785,1805.7 L1784.5,1809 L1782.8,1811.9 L1783.2,1815.2 L1783.9,1818.4 L1784,1821.6 L1782.6,1824.6 L1782.2,1827.7 L1782.5,1830.9 L1782,1833.5 L1782,1836.2 L1782.7,1838.9 L1781.7,1841.4 L1781.6,1844.2 L1780.7,1846.8 L1778.9,1848.8 L1777.4,1851.1 L1779.3,1854 L1780.5,1857.2 L1782.1,1860.2 L1784,1863.1 L1780.9,1865.3 L1779.7,1869 L1778.7,1872.6 L1779.9,1876.2 L1777.6,1879.8 L1775,1883.2 L1773.9,1887.4 L1772.4,1891.4 L1771.3,1894.5 L1770,1897.5 L1768.3,1900.5 L1768.9,1903.9"/>
<path d="M1318.4,1175.9 L1345.9,1177.6 L1373.3,1179.1 L1400.8,1180.5 L1428.3,1181.7 L1455.8,1182.8 L1483.3,1183.7 L1510.8,1184.5 L1538.3,1185.1 L1565.8,1185.6 L1593.3,1185.9 L1620.8,1186.1 L1648.3,1186.1 L1675.8,1186"/>
<path d="M1252.6,1383.6 L1250,1418.8 L1277.7,1420.8 L1305.5,1422.6 L1333.3,1424.3 L1361.1,1425.8 L1388.8,1427.2 L1416.7,1428.5 L1414.7,1474.1 L1412.8,1519.6 L1410.9,1565.2 L1411.3,1561.5 L1413.7,1564.1 L1416.8,1565.8 L1420,1567.4 L1422.3,1570.1 L1425,1572 L1426.7,1574.8 L1429.4,1576.6 L1432.4,1577.6 L1436.3,1576.6 L1439.8,1574.7 L1443.2,1571.8 L1447.5,1572.6 L1448.6,1577.4 L1449.3,1582.3 L1451.8,1582.9 L1454,1584.1 L1456.3,1585.4 L1457.6,1587.7 L1459.1,1590.3 L1462.1,1590.6 L1464.5,1592 L1467,1593.1 L1469.5,1594.6 L1472.4,1594.9 L1475.2,1594.2 L1477.7,1592.7 L1480.6,1593.1 L1482.9,1591.2 L1485.5,1591.6 L1488,1592.6 L1490.6,1592.5 L1493.1,1593.4 L1495.5,1594.3 L1497.9,1595.3 L1500.7,1595.6 L1503.4,1596.5 L1505.2,1598.7 L1507.5,1600.5 L1510.3,1600.6 L1513.1,1600.4 L1515.5,1598.9 L1518,1597.8 L1518.8,1600.4 L1521,1602.1 L1523.1,1603.7 L1525,1605.5 L1527,1607.4 L1528.5,1609.8 L1527.2,1612.6 L1528.1,1615.4 L1531.8,1613.9 L1535.5,1612.3 L1539.2,1610.6 L1543.2,1610.4 L1547.6,1611.9 L1549.9,1615.8 L1554.3,1616.3 L1558.3,1617.9 L1562.7,1618.2 L1566.9,1619.6 L1569.8,1622.9 L1573.4,1625.5 L1575.3,1621.8 L1577.3,1618.2 L1580.1,1615.2 L1583.5,1612.9 L1587.6,1613.5 L1590.9,1615.9 L1594.6,1617.7 L1598.6,1617.9 L1601.8,1618.1 L1603.6,1620.8 L1605.2,1623.3 L1607.8,1624.7 L1610.5,1625.9 L1613.4,1625.9 L1616.1,1626.8 L1618.8,1628 L1622.7,1625.6 L1626.3,1623 L1628.4,1621 L1628.6,1618.2 L1631.2,1617.4 L1633.9,1617.9 L1636.6,1618.3 L1639.4,1618.5 L1642.5,1618.5 L1644.5,1620.8 L1645.2,1617.7 L1648.1,1616 L1650.9,1614.2 L1654,1615.4 L1657.7,1616.4 L1661.6,1616.7 L1665.3,1615.8 L1669.1,1615.4 L1673.2,1615.2 L1677.3,1614.7 L1680.8,1612.5 L1684.2,1610.4 L1686.9,1614.3 L1690.9,1616.8 L1694.5,1620.2 L1699.4,1620.4 L1703.5,1622.5 L1707.6,1624.4 L1709.9,1628.7 L1714.5,1630.5 L1717.7,1632 L1721.2,1631.3 L1724,1633.1 L1727.1,1634.5 L1730.9,1634 L1734.6,1635.3 L1738.4,1635.5 L1742.2,1635.5 L1745.1,1635.4 L1747,1637.8 L1749.6,1638.2 L1752.2,1638.1"/>
<path d="M1247.7,1418.6 L1245,1453.8 L1242.3,1489 L1239.5,1524.1 L1236.8,1559.3 L1234.1,1594.4 L1231.3,1629.5 L1228.6,1664.6 L1225.8,1699.6 L1223.1,1734.6 L1193.2,1732.3 L1163.3,1729.9 L1133.4,1727.2 L1103.5,1724.4 L1073.7,1721.5 L1043.8,1718.4 L1014,1715.1 L1017.6,1731.1"/>
<path d="M1753.4,1678.6 L1786.8,1677.8 L1820.2,1676.8 L1853.7,1675.7 L1887.1,1674.3 L1920.5,1672.7"/>
<path d="M1716,1432.6 L1747.1,1432.1 L1778.2,1431.3 L1809.3,1430.4 L1840.4,1429.3 L1871.5,1428.1 L1902.5,1426.6 L1933.6,1425 L1964.6,1423.1 L1965.3,1423 L1966.1,1426.7 L1967.1,1430.4 L1967.7,1434.5 L1971.3,1436.6 L1970.6,1440.4 L1971.5,1444.1 L1968.7,1446.7 L1965.3,1448.3 L1963.5,1451.8 L1963.5,1455.6 L1959.7,1456.4 L1956.2,1457.8 L1991.5,1455.8"/>
<path d="M1582,557.9 L1582.3,560.7 L1582.5,563.4 L1582.1,566.1 L1582.3,568.8 L1582.1,571.9 L1581.6,574.9 L1584.2,576.6 L1586,579.1 L1588.8,581.7 L1587.7,585.4 L1587.9,588.6 L1588.7,591.8 L1587.2,594.9 L1587.9,598.4 L1585.9,601 L1585,604.3 L1585.4,607.5 L1585.4,610.8 L1586.2,613.9 L1587.2,617.1 L1587.7,620.4 L1589.5,623.1 L1590.3,626.3 L1591.1,629.4 L1598.6,654.6 L1599.5,658 L1598.7,661.4 L1601.1,663.8 L1602.2,667.1 L1602.7,670.5 L1601.1,673.5 L1600.1,676.6 L1599.6,679.8 L1599.9,683 L1599.7,686.2 L1600.2,689.4 L1600.1,692.6 L1601.9,695.6 L1604.1,698.2 L1603.8,701.6 L1603.7,705 L1606.1,707.5 L1607.2,710.8 L1607.2,714.2 L1606.5,717.6 L1609.2,720.3 L1611.9,722.9 L1610.3,726.4 L1609.7,730.2 L1606.7,732.6 L1605.8,736.4 L1606.9,740.5 L1604.1,743.6 L1606.9,746.1 L1608.3,749.6 L1610.3,752.6 L1612.7,755.3 L1612.8,759.2 L1611.8,762.9 L1611.4,766.6 L1611.2,770.4 L1609.6,774.2 L1609.9,778.4 L1606.9,781.4 L1606.2,785.5 L1604.1,787 L1602.6,789.1 L1600.5,790.4 L1598.6,792.1 L1599.2,795.1 L1600.2,798.1 L1602.8,800 L1603.7,803.2 L1606,806.3 L1608.4,809.4 L1612.3,810.3 L1616.3,809.7 L1617.1,813.5 L1616.9,855.5 L1616.7,897.6 L1616.5,939.7 L1613.8,942.3 L1610.2,941.1 L1610.7,943.7 L1610.1,946.3 L1611.3,948.6 L1612.7,950.7 L1612.8,953.9 L1613.6,957 L1614.8,960.1 L1614.7,963.3 L1612.5,967.3 L1611.5,971.8 L1610.3,976.3 L1611.2,980.9 L1609.4,983.7 L1608.4,986.9 L1607.5,990.2 L1607.7,993.5 L1609.6,997.8 L1611.8,1002 L1611.4,1004.6 L1610.4,1007.1 L1612.5,1008.7 L1613.7,1011.1"/>
<path d="M1616.5,939.7 L1642.9,939.7 L1669.3,939.6 L1695.7,939.4 L1722.1,939 L1748.5,938.5 L1774.9,937.8 L1801.2,937 L1827.6,936 L1854,934.9 L1880.4,933.7"/>
<path d="M1825.3,714 L1822.4,716 L1819.2,717.6 L1820.2,770.4 L1816.1,771.5 L1812.5,773.9 L1808.9,776 L1805.1,778 L1801.5,780 L1799.1,783.5 L1797.2,787.1 L1795.1,790.6 L1795.1,794.5 L1796.3,798.3 L1796,802.2 L1794,805.7 L1796.3,808.8 L1798.2,812.1 L1801.7,814.2 L1802.6,818.3 L1800.1,850 L1797.6,850 L1800.2,850.3 L1802.8,850.8 L1804.7,852.6 L1806.9,854.1 L1809.5,854.8 L1812,855.8 L1812.8,858.6 L1815.2,860.1 L1819.2,863 L1822.9,866.2 L1826.5,869.6 L1830.3,872.7 L1832.3,874.6 L1835.1,874.5 L1837.7,874.1 L1840.3,874.1 L1841.2,876.6 L1841.3,879.3 L1843.2,881.2 L1845.4,882.7 L1847.9,884.3 L1849.5,886.7 L1852.2,887.3 L1854.8,888.4 L1857.3,890.2 L1859.6,892 L1860.3,894.9 L1860.5,897.8 L1862.4,901.6 L1865.7,904.2 L1869.4,906.2 L1873.1,907.9 L1875.2,910.7 L1876.6,913.8 L1878.5,916.9 L1878.2,920.5 L1876.1,924 L1875.4,927.9 L1877.6,931.2 L1879.7,934.6 L1880.8,939.1 L1883.2,943.2 L1884.5,945.7 L1885.1,948.5 L1886.3,951.1 L1888.2,953.2 L1887.6,957.1 L1885.5,960.5 L1884.5,964.5 L1885.7,968.3 L1886.4,970.9 L1887.9,973 L1887.3,975.5 L1887.3,978.1 L1890.4,981.9 L1893.3,986 L1896.9,987.1 L1899.4,990 L1903.2,990.7 L1905.9,993.5 L1907.8,995.9 L1908.8,998.8 L1911.4,1000.6 L1914.4,1001.1 L1917.2,1003.1 L1919.7,1005.4 L1922.3,1007.8 L1923.5,1011.1 L1925,1013.9 L1927,1016.4 L1928.7,1019 L1931,1021.2 L1932.5,1024.1 L1935.6,1024.9 L1938,1026.7 L1940.1,1028.8 L1939.5,1032.6 L1939.1,1036.4 L1939.3,1040.4 L1941.1,1043.9 L1940.7,1047.7 L1938.8,1051 L1937.1,1054.6 L1933.6,1056.5 L1931.7,1059.8 L1928.4,1061.9 L1927.8,1065.7 L1926,1069 L1923,1067.7 L1920.2,1065.8 L1917.5,1067.7 L1914.6,1069.4 L1912.8,1071.8 L1911.4,1074.4 L1908.5,1075.2 L1905.9,1076.6 L1902.6,1077.2 L1899.7,1078.9 L1898.1,1081.8 L1895.8,1084.2 L1895.9,1087.4 L1895,1090.5 L1895.6,1093.7 L1896.8,1096.7 L1898.9,1099 L1900,1101.8 L1901.8,1104.2 L1903.3,1106.8 L1903.3,1110.7 L1903.2,1114.6 L1901.6,1118.1 L1900.8,1121.9 L1899.4,1124.4 L1897.4,1126.5 L1896.8,1129.3 L1895.8,1132 L1892.1,1132.9 L1888.5,1134.2 L1886.5,1137.5 L1883.2,1139.5 L1882.9,1142.8 L1882.5,1146 L1881.8,1149.1 L1880.7,1152.1 L1881.1,1155 L1881.8,1157.8 L1880.6,1160.5 L1878.2,1162.2 L1875.5,1165.8 L1874.6,1170.2 L1873.3,1172.9 L1875,1175.3 L1877.3,1176.4 L1879.7,1177.3 L1881.7,1181 L1881.7,1185.3 L1885,1188.1 L1885.7,1192.4 L1884.7,1195.8 L1886.6,1198.7 L1889,1200.8 L1891.6,1202.6 L1894.6,1204.6 L1898.1,1204 L1900,1206.8 L1900.8,1210 L1903.9,1214 L1907.6,1217.2 L1910.3,1217.3 L1912.5,1218.9 L1914.7,1220.3 L1915.9,1222.6 L1917.3,1225.6 L1919.9,1227.5 L1920.5,1230.9 L1923.5,1232.7 L1923.8,1235.2 L1924.5,1237.7 L1926.4,1239.5 L1928.4,1241 L1927.6,1245.7 L1926,1250.3 L1928.1,1252.8 L1931.3,1252.3 L1934.2,1253 L1936.1,1255.4 L1938.8,1255.4 L1941.1,1254.2 L1943.8,1254.2 L1946.2,1252.8 L1947.9,1255.4 L1950.2,1257.3 L1953.2,1258.1 L1956.2,1257.9 L1955.6,1262.3 L1954.9,1266.7 L1956,1271.3 L1953.7,1275.5 L1953.2,1278 L1953.5,1280.5 L1952.5,1283 L1952.8,1285.5 L1951.1,1287.6 L1948.7,1288.7 L1947.6,1291 L1946.2,1293.1 L1945.7,1297.7 L1948.1,1301.6 L1951.2,1304.7 L1953.7,1308.2 L1957.7,1311.2 L1961.5,1314.3 L1964.6,1318.1 L1968.8,1320.8 L1973.4,1321.1 L1978,1321.4 L1981.7,1324.2 L1983.9,1328.4 L1987,1330.3 L1989.1,1333.3 L1991.5,1335.9 L1994,1338.4 L1995.3,1342.1 L1996.5,1345.8 L1996,1349.7 L1996.5,1353.6 L1996.9,1358.4 L1996.2,1363.2 L1996.2,1366 L1996.5,1368.8 L1999,1370 L2001.6,1371.2 L2004.5,1373.1 L2006.3,1376 L2008.4,1378.7 L2010.6,1381.2 L2012.4,1383.1 L2014.4,1384.6 L2016.8,1385.5 L2019.2,1386.3 L2019.1,1390.2 L2017.5,1393.8 L2017.7,1397.8 L2019.2,1401.4 L2016.3,1404.3 L2013.6,1407.3 L2010,1409.2 L2006.6,1411.5 L2006.1,1414.1 L2006.2,1416.7 L2004.6,1418.9 L2004.1,1421.5 L2002,1423.2 L2000,1425 L1998.7,1427.4 L1996.5,1429.1 L1996.6,1433.2 L1994.1,1436.4 L1994.4,1440.3 L1994,1444.2 L1993.3,1446.7 L1993.1,1449.3 L1992.6,1451.9 L1991.5,1454.3 L1989.8,1457.2 L1986.9,1458.6 L1985.2,1461.5 L1985.2,1464.8 L1986.5,1467.8 L1985.4,1470.9 L1984.6,1473.9 L1983.9,1476.9 L1983.5,1481.9 L1980.5,1485.9 L1978.1,1490.1 L1976.4,1494.5 L1975.8,1498.5 L1976.5,1502.3 L1975.5,1506.1 L1973.9,1509.7 L1972.4,1511.7 L1970.9,1513.8 L1969.9,1516.3 L1970.9,1518.8 L1969.2,1523.4 L1966.3,1527.3 L1965.3,1529.7 L1964.4,1532.1 L1962.7,1534.3 L1962.9,1537 L1960.6,1538.4 L1959.2,1540.6 L1957.9,1542.9 L1956.2,1544.9 L1956.2,1547.5 L1955.3,1550 L1953,1552.1 L1953.8,1555 L1952.3,1557.2 L1952.2,1560 L1951.9,1562.5 L1951.2,1565 L1947.9,1568.3 L1944.5,1571.5 L1942.6,1573.4 L1940.4,1574.9 L1940.7,1577.5 L1941.1,1580.2 L1940.1,1585 L1935.8,1587.5 L1933.7,1591.5 L1931,1595.3 L1927.9,1596 L1925.6,1598.2 L1923.6,1600.6 L1921.9,1603.3 L1921.6,1606.3 L1921.6,1609.4 L1920.3,1612.3 L1921,1615.4 L1918.5,1617 L1917.4,1619.7 L1916.4,1622.3 L1915.9,1625 L1917.7,1627.5 L1919.9,1629.6 L1919.4,1632.6 L1918.5,1635.5 L1919.9,1637.8 L1920.4,1640.5 L1921.5,1642.9 L1922.9,1645.1 L1922.9,1647.8 L1922.2,1650.5 L1921.9,1653.3 L1923.5,1655.7 L1925.2,1657.9 L1925.3,1660.7 L1926.1,1663.5 L1925.2,1666.1 L1925.1,1668.9 L1924.1,1671.4 L1923.2,1674.1 L1921,1675.8 L1922.9,1678.5 L1924.6,1681.2 L1926,1684.2 L1927.5,1687.1 L1926.8,1690.4 L1925.2,1693.4 L1925.8,1696.7 L1926,1700 L1928,1704.1 L1930,1708.3 L1932.5,1712.2 L1936.1,1715.1 L1934.4,1717.4 L1933.5,1720.1 L1931.8,1722.4 L1931,1725.2 L1929.1,1727.4 L1926.9,1729.4 L1925.7,1732.2 L1926,1735.2 L1924.3,1737.5 L1922.3,1739.6 L1921.2,1742.5 L1918.8,1744.2 L1917.8,1747 L1916,1749.5 L1915.2,1752.4 L1915.9,1755.4 L1912.8,1758.8 L1909,1761.4 L1909.4,1766 L1908.4,1770.5 L1905.7,1771.9 L1904.5,1774.6 L1904.1,1777.4 L1903.8,1780.2 L1902,1782.5 L1900.5,1784.9 L1900.7,1787.8 L1900.8,1790.6 L1899.8,1793.2 L1899.2,1796 L1897,1797.8 L1895.5,1800.2 L1896.9,1802.6 L1897.5,1805.3 L1899.1,1807.6 L1900.8,1809.8 L1900.2,1814.3 L1937.9,1812.4 L1975.7,1810.3 L2013.5,1807.9 L2014.6,1811.1 L2015.5,1814.3 L2015.1,1817.6 L2014.1,1820.9 L2021.7,1846 L2023.8,1849.7 L2025.5,1853.6 L2027.8,1857.2 L2029.3,1861.1"/>
<path d="M1653,1144.6 L1865.6,1138.5 L1868.6,1139.4 L1870.2,1142 L1872.2,1144.2 L1873.1,1147.1 L1874.8,1149 L1876.3,1151.1 L1878.3,1152.6 L1880.7,1153.6"/>
<path d="M1913.5,1002.3 L1942.6,1000.5 L1971.6,998.6 L2000.6,996.6 L2029.6,994.3 L2058.6,991.9"/>
<path d="M1890.7,711.5 L1893.8,713.3 L1897.4,713 L1900.2,715.2 L1902.7,717.5 L1906,717.6 L1908.4,719.7 L1910,722.4 L1912.5,724.3 L1914.1,726.8 L1915.9,729.3 L1918.3,731.1 L1920.9,732.6 L1922.9,735.9 L1926.6,736.9 L1930.1,736.2 L1933.3,734.4 L1936.5,734.3 L1939.5,735.7 L1942.3,737.1 L1945.1,738.7 L1948.3,738.6 L1951.5,738.6 L1954.3,740.1 L1957.3,741.3 L1960.8,741 L1964.3,740.4 L1965.7,743.9 L1969.2,745.3 L1972.6,744.6 L1975.6,746.2 L1978.6,747.6 L1980.9,749.9 L1984,750.7 L1987.1,750.5 L1990.2,751.3 L1993.4,750.8 L1998.1,750.8 L2002.7,750.1 L2006.9,752.3 L2011.5,753.2 L2015.3,753.1 L2019,753.9 L2021.2,757 L2023.6,759.8 L2027,762.5 L2029.7,765.9 L2031.3,768.2 L2034,769.3 L2036.4,770.5 L2038.7,771.9 L2037.8,774.4 L2038.7,777 L2040.1,779.1 L2041.8,781 L2040.3,785.5 L2038.7,790 L2042.3,791.6 L2044.8,794.6 L2047.3,796.5 L2049,799.2 L2050.1,802.1 L2050.8,805.2 L2051.9,808.4 L2053.8,811.2"/>
<path d="M2010.6,1381.2 L2012.7,1378 L2014.9,1374.9 L2018.6,1373.5 L2021.7,1371.2 L2025.9,1372.5 L2030.2,1371.6 L2033.5,1368.9 L2036.8,1366.1 L2039.9,1370 L2044.8,1369.1 L2048.1,1371.7 L2051.9,1373.7 L2052.7,1370.9 L2053.6,1368.3 L2055,1365.8 L2057,1363.6 L2056.1,1360.5 L2054.9,1357.5 L2053.6,1354.3 L2054.4,1351 L2056.9,1347 L2060.1,1343.5 L2062.2,1345.2 L2064.8,1345.5 L2067.1,1344.3 L2069.6,1343.5 L2071.7,1340 L2073.8,1336.4 L2073,1332.4 L2072.1,1328.4 L2075.1,1325 L2078.8,1322.3 L2076.3,1320.5 L2076.5,1317.5 L2077.8,1315.2 L2079.6,1313.3 L2082.1,1317.1 L2086.7,1317.3 L2090.8,1316.8 L2094.7,1315.8 L2098,1314.2 L2101.1,1312.1 L2103.4,1308.9 L2107.3,1308.2 L2110.9,1310.6 L2114.3,1313.2 L2118.7,1313.5 L2122.4,1315.8 L2125.5,1312.1 L2128.4,1308.4 L2133,1307.1 L2137.5,1305.7 L2140.9,1306.8 L2143.5,1309.1 L2146.7,1310.2 L2150.1,1310.8 L2151.7,1307.8 L2152,1304.5 L2153.5,1301.5 L2154.7,1298.5 L2157.4,1296.5 L2159.6,1294 L2160.1,1290.5 L2162.7,1288.1 L2166.2,1291.2 L2169.2,1294.7 L2173.9,1295.5 L2177.8,1298.2 L2180.8,1294.5 L2184.6,1291.7 L2185.5,1287.1 L2187.9,1283.1 L2191.2,1281.6 L2194.4,1279.9 L2197.5,1278.1 L2200,1275.5 L2199.6,1272.9 L2200.7,1270.5 L2200.6,1267.9 L2200,1265.4 L2200.8,1262.9 L2202.7,1261.1 L2204.2,1259.1 L2205.7,1257 L2205.5,1254.3 L2206.6,1251.8 L2208.4,1249.8 L2210.1,1247.8 L2211.4,1244.7 L2214,1242.5 L2217.3,1242.1 L2220.1,1240.3 L2224.6,1238.4 L2229.3,1237.3 L2234.1,1236 L2237.8,1232.7 L2237.8,1229.4 L2238.1,1226.2 L2234.9,1224.8 L2233.1,1221.9 L2234.6,1219.4 L2236.1,1216.8 L2238.3,1214.7 L2240.3,1212.6 L2244,1211.2 L2247.9,1211.4 L2251.7,1211.3 L2255.4,1210 L2255.9,1212.6 L2255.5,1215.1 L2257.6,1216.6 L2259.6,1218.1 L2263.3,1221.1 L2265.5,1225.1 L2270.3,1224.6 L2274.5,1226.9 L2279.1,1227.8 L2283.1,1230.2 L2286,1229.3 L2288.9,1228.8 L2291.7,1229.9 L2294.7,1229.8 L2296.9,1231.8 L2298.7,1234.1 L2301.9,1234.7 L2303.3,1237.7 L2307.9,1237.6 L2311.9,1235.4 L2316.4,1237.2 L2320.9,1235.2 L2324.5,1233.4 L2328.6,1233.2 L2332.6,1232.5 L2336,1230.2 L2337.8,1227.8 L2340.3,1226.1 L2343.1,1225.1 L2346.1,1225.1 L2348.6,1228.5 L2352.8,1228.5 L2354.8,1231.7 L2356.1,1235.2 L2359.8,1237.3 L2362.7,1240.3 L2363.5,1244.5 L2366.2,1247.8 L2369.7,1247.7 L2372.9,1246.4 L2376.3,1245.3 L2378.8,1242.8 L2383.8,1202.5 L2387.6,1199.9 L2392.1,1200.1 L2395.2,1197 L2398.9,1194.9 L2398.7,1190.4 L2400.7,1186.2 L2400.8,1181.7 L2401.5,1177.3 L2406.3,1176.2 L2408.7,1171.9 L2413.3,1170.6 L2416.6,1167.2 L2418.6,1163.6 L2420,1159.7 L2422.7,1156.3 L2426.6,1154.7 L2441.8,1132 L2441.8,1129.3 L2442.1,1126.7 L2443.6,1124.5 L2444.3,1121.9 L2446.4,1119.9 L2446.1,1117 L2445.9,1114.4 L2446.8,1111.8 L2449.3,1081.6 L2450.8,1079.2 L2451.8,1076.6"/>
<path d="M2079.6,1313.3 L2078.7,1309.5 L2077.2,1305.9 L2076.2,1302 L2077.1,1298.2 L2079.2,1296.1 L2078.4,1293.2 L2080,1291.1 L2081.2,1288.7 L2082.9,1286.7 L2085.4,1285.8 L2087.3,1284.1 L2089.7,1283.1 L2097.3,1257.9 L2096.5,1255.4 L2096.2,1252.8 L2095.2,1250.5 L2094.5,1248 L2095.1,1245.4 L2094.4,1242.9 L2094.5,1240.3 L2094.7,1237.7 L2094.6,1233.3 L2094.3,1229 L2091.6,1225.4 L2088.2,1222.6 L2089.1,1220 L2089.5,1217.3 L2091.6,1215.3 L2092.2,1212.6 L2092.1,1211.8 L2088.3,1169.5 L2084.6,1127.1 L2080.8,1084.8 L2077,1042.6"/>
<path d="M2121.4,1037.3 L2200,1029.8 L2217,1028 L2217.5,1032.2 L2252.3,1026.9 L2287.1,1021.4"/>
<path d="M2217,1028 L2221.4,1065.3 L2225.8,1102.5 L2230.2,1139.7 L2234.6,1177 L2239.1,1214.3"/>
<path d="M2434.3,981.7 L2440.8,1021 L2447.2,1060.3 L2453.7,1099.6 L2460.2,1138.9 L2487.8,1134.3 L2515.4,1129.5 L2542.9,1124.6 L2570.5,1119.5 L2598,1114.3 L2625.4,1108.9 L2652.9,1103.4 L2680.3,1097.7 L2707.7,1091.9"/>
<path d="M2469.5,955.1 L2472.8,973.8 L2500.8,968.9 L2528.7,963.8 L2556.7,958.6 L2584.6,953.2 L2612.5,947.6 L2640.3,941.9 L2668.1,936 L2695.9,929.9 L2696.9,930.5 L2699.6,932 L2701.4,934.5 L2703.1,936.5 L2705.1,938.1 L2708.7,938 L2712.3,938.1 L2714.1,942.7 L2715.9,947.2 L2717.6,950.7 L2718.7,954.4 L2719.9,957.7 L2723.2,959 L2727.3,959.8 L2730.4,962.6 L2732.7,964 L2735.4,963.6 L2736.4,966.1 L2738.6,967.5 L2735,970.8 L2734.4,974.5 L2733.2,978 L2732.2,982.9 L2729.5,987.1 L2727.9,989.9 L2728,993.1 L2726.5,995.9 L2724.1,998 L2727.2,1001.3 L2729.5,1005.2 L2727.7,1007.2 L2727.1,1009.9 L2725.3,1011.8 L2724.1,1014.3 L2725.9,1016.7 L2727.5,1019.2 L2726.6,1022.1 L2726.8,1025.1 L2730.1,1027.4 L2734.1,1027.9 L2735.1,1031.9 L2737.7,1035.1 L2741.1,1037.7 L2744.9,1039.6 L2749.3,1041.3 L2752.2,1045.1 L2754.9,1047.4 L2757.6,1049.6 L2755.7,1052.8 L2752.2,1054.1 L2748.1,1056.8 L2746.8,1061.4 L2744.1,1064.1 L2741.3,1066.8 L2740.5,1070 L2739.5,1073.2 L2738.1,1075.6 L2735.9,1077.2 L2733.2,1077.8 L2730.4,1077.7 L2726.9,1079.4 L2725.9,1083.2 L2724.9,1087.2 L2722.3,1090.4 L2720.5,1094.9"/>
<path d="M2738.6,967.5 L2785.7,981.6 L2787.6,990.7 L2786.6,999.8"/>
<path d="M2006.6,1419 L2082.1,1412.5 L2082.1,1401.4 L2092.2,1402.9 L2200,1393.8 L2200,1392.3 L2323.4,1379.7 L2434.2,1364.6 L2560,1349.2 L2750.4,1310.6"/>
<path d="M1962.6,1529.3 L1991.8,1527.4 L2020.9,1525.4 L2050,1523.3 L2079.1,1521 L2108.2,1518.5 L2137.3,1515.9 L2166.4,1513.1 L2195.4,1510.2 L2224.4,1507.1 L2253.5,1503.9 L2282.5,1500.5 L2311.4,1496.9 L2340.4,1493.2 L2369.3,1489.3"/>
<path d="M2083.3,1520.1 L2086.7,1523.7 L2088.6,1528.2 L2083.3,1733.6 L2096.6,1844.4"/>
<path d="M2229.6,1508.1 L2268.7,1645 L2280.8,1669.2 L2282.1,1671.5 L2283.5,1673.8 L2283.3,1676.6 L2284.4,1679.1 L2285.4,1681.8 L2284.5,1684.5 L2286,1686.7 L2286.8,1689.3 L2285,1692.2 L2282.8,1694.9 L2283.2,1698.6 L2280.8,1701.4 L2282,1706.2 L2286.1,1708.9 L2285.8,1713.8 L2282.8,1717.5 L2283.8,1720.5 L2283.9,1723.6 L2285.7,1726.3 L2286.3,1729.4 L2287.3,1732.5 L2286.4,1735.6 L2286.9,1738.7 L2287.6,1741.7 L2287.9,1744.3 L2287.3,1746.8 L2287.5,1749.3 L2287.6,1751.8 L2289.3,1754 L2289.7,1756.7 L2288.8,1759.2 L2288.8,1761.8 L2287,1764.1 L2286.5,1766.9 L2286.2,1769.6 L2286.3,1772.4 L2287.9,1774.9 L2290.9,1775.4 L2292.8,1777.5 L2294.1,1780 L2294.6,1782.8 L2297,1784.4 L2297.8,1787.1 L2300.3,1788.6 L2300.9,1791.2 L2302.4,1793.5 L2304.4,1795.4 L2304.9,1798.1"/>
<path d="M2151.8,1842.4 L2155,1839 L2155.9,1834.4 L2153.5,1830.2 L2150.1,1826.9 L2151.2,1822.2 L2153.8,1818.2 L2150.4,1815.5 L2148.4,1811.6 L2144.7,1809.4 L2141.8,1806.2 L2142.4,1803.6 L2141.9,1801 L2141.2,1798.6 L2140.5,1796.1 L2294.1,1780"/>
<path d="M2304.9,1798.1 L2464.1,1788 L2464.8,1791.1 L2464.5,1794.2 L2464.6,1797.3 L2466.1,1800.1 L2470.1,1801.2 L2474.2,1801.3 L2474.2,1773.9 L2476.2,1770 L2480.2,1767.9 L2508.4,1771.9"/>
<path d="M2434.2,1364.6 L2433,1366.8 L2431.6,1368.9 L2431,1371.4 L2429.9,1373.7 L2430.5,1376.2 L2430,1378.8 L2429.3,1381.2 L2429.2,1383.8 L2426.9,1385.7 L2424.7,1387.6 L2422.7,1389.7 L2420.9,1392 L2418.3,1393.7 L2417.1,1396.6 L2414.5,1398.1 L2411.5,1398.9 L2408.2,1402.1 L2403.8,1403.7 L2400,1406.2 L2396.4,1408.9 L2393.4,1408.1 L2390.3,1408.8 L2388.5,1411.4 L2386,1413.3 L2383.2,1414 L2380.6,1415.2 L2378.8,1417.6 L2376.3,1419 L2375.3,1423.7 L2373.9,1428.3 L2370.4,1431.7 L2366.2,1434.1 L2363.7,1436.5 L2362.6,1439.8 L2358.8,1439 L2356.3,1441.8 L2353.9,1444 L2351.1,1445.5 L2348,1446.5 L2346.1,1449.2 L2344,1451.2 L2341.2,1452 L2338.6,1453.3 L2336,1454.3 L2333.5,1455.6 L2330.9,1456.6 L2328.1,1457.4 L2325.9,1459.3 L2323.7,1461.1 L2323.1,1463.9 L2321.3,1466 L2319.4,1467.8 L2317,1469.3 L2315.4,1471.5 L2313,1472.8 L2310.8,1474.4 L2308,1476.6 L2305.4,1479.1 L2303.9,1482.5 L2300.7,1484.5 L2301.1,1487.6 L2301.6,1490.8 L2300.4,1493.8 L2300.7,1497.1"/>
<path d="M2527.4,1690.9 L2525.4,1687.9 L2523.1,1685.1 L2520.2,1683.1 L2517.3,1680.9 L2515.8,1677.9 L2515.1,1674.6 L2512.3,1672.9 L2509.8,1670.8 L2506.5,1668.3 L2502.9,1666.4 L2500.1,1663.5 L2497.2,1660.7 L2495.8,1658.3 L2495.4,1655.6 L2494.4,1653.1 L2492.9,1650.8 L2492.1,1648.2 L2491.5,1645.6 L2490.4,1643.2 L2489.6,1640.6 L2486.2,1637 L2483.2,1633.1 L2482.4,1630.7 L2481.1,1628.5 L2479.5,1626.4 L2477,1625.5 L2474.7,1623.9 L2473.4,1621.4 L2471.1,1620 L2469,1618.4 L2466.1,1617.3 L2465.5,1614.3 L2463.8,1612.3 L2461.9,1610.4 L2460.1,1608.4 L2458.3,1606.4 L2455.9,1605.1 L2453.8,1603.3 L2452,1601.3 L2450.9,1598.8 L2448.8,1597.1 L2446.8,1595.3 L2429.2,1575.1 L2427.2,1572.9 L2424.7,1571.4 L2423.2,1568.7 L2420.2,1567.8 L2417.7,1566.1 L2415.2,1564.6 L2412.7,1562.9 L2411.5,1560 L2408.7,1558.5 L2406.1,1556.4 L2404.8,1553.4 L2402.6,1550.9 L2400.9,1548.3 L2399.7,1545.3 L2399.1,1542 L2396.4,1539.9 L2373.8,1519.7 L2372.1,1517.6 L2371.8,1514.9 L2370,1513 L2368.2,1511.1 L2366.3,1509.1 L2364,1507.6 L2361.3,1507.9 L2358.7,1507.1 L2360.2,1502.8 L2362.3,1498.8 L2362.9,1494 L2366.2,1490.5 L2391.4,1473.4 L2426.6,1466.9 L2482.1,1461.8 L2484.7,1462.9 L2487.1,1464.3 L2489.5,1465.7 L2492.1,1466.9 L2494.6,1470 L2495.8,1473.8 L2499.7,1475.5 L2501.2,1479.4 L2562.6,1471.9 L2639.7,1523.8"/>
<path d="M2366.2,1247.8 L2366.2,1250.7 L2365.6,1253.6 L2367.9,1255.3 L2369.8,1257.6 L2368.2,1260.1 L2368.9,1263 L2369.1,1265.9 L2371.2,1268 L2372.7,1272.4 L2374.1,1277 L2376.8,1281.1 L2381.3,1283.1 L2384.1,1283.9 L2385.6,1286.5 L2387,1288.9 L2388,1291.5 L2390.8,1292 L2393.6,1293.1 L2395.6,1295.3 L2396.4,1298.2 L2399.2,1299 L2401.9,1299.8 L2404.9,1300.6 L2406.5,1303.2 L2366.2,1343.5 L2364.7,1347 L2361.2,1348.3 L2357.8,1349.2 L2354.6,1350.5 L2352.8,1353.5 L2351,1356.6 L2351.4,1360.1 L2351.1,1363.6 L2323.4,1379.7"/>
<path d="M2406.5,1303.2 L2410.2,1306.2 L2414,1309.1 L2413.6,1311.6 L2413.7,1314.2 L2415.5,1315.9 L2416.6,1318.3 L2419.6,1321.2 L2423.8,1321.8 L2427.5,1319.8 L2431.7,1320.8 L2433.7,1318.8 L2436.1,1317.1 L2438.9,1316.1 L2440.8,1313.9 L2443.6,1312.8 L2446.6,1313.2 L2449.1,1311.7 L2451.8,1310.8 L2454.7,1309.9 L2457.7,1310.1 L2459.7,1307.9 L2462.1,1306.1 L2464.8,1304.6 L2467.9,1305 L2470.4,1303.3 L2472,1300.7 L2474.9,1300.7 L2477.3,1299 L2480.2,1298.7 L2483,1299.3 L2485.1,1297.3 L2488,1296.9 L2489.5,1294.4 L2492.1,1293.1 L2494.9,1291.6 L2497.1,1289.2 L2497.7,1286.1 L2496.9,1282.9 L2498,1280.3 L2499.7,1278.1 L2499.4,1274.8 L2502.2,1273 L2517.3,1247.8 L2522.3,1212.6 L2547.5,1202.5 L2549,1199.6 L2551.6,1197.6 L2552.9,1194.7 L2554.5,1192 L2555.8,1189.1 L2558,1186.7 L2559.9,1184 L2562.6,1182.3 L2564.3,1179.5 L2567.3,1178 L2568.3,1174.9 L2570.4,1172.4 L2573.4,1170.9 L2574.8,1167.9 L2575.1,1164.4 L2577.7,1162.2 L2577.3,1159.2 L2576.9,1156.1 L2575.6,1153.3 L2574.7,1150.4 L2575.2,1147.3 L2576.3,1144.4 L2578,1141.7 L2580.3,1139.5 L2610.5,1152.1 L2613,1149.7 L2614,1146.3 L2613.3,1143 L2613,1139.5"/>
<path d="M2516.7,1128.1 L2521.5,1165 L2540.9,1142.6 L2543.2,1140.9 L2545.9,1140.6 L2548,1138.7 L2550.5,1137.7 L2551.2,1133 L2554.2,1129.3 L2556.4,1131.5 L2558.8,1133.5 L2562,1132.9 L2565.1,1134.1 L2567.3,1132.8 L2569.5,1131.4 L2571.8,1130.1 L2573.5,1128.1 L2574.6,1124.5 L2578.1,1123.2 L2581.1,1121.6 L2583.2,1118.9 L2587.8,1118.7 L2591.6,1121.3 L2594.2,1120.5 L2596.8,1120.9 L2599.2,1121.6 L2601.3,1123.2 L2604.1,1125.6 L2605.6,1128.9 L2608.9,1131.3 L2608.6,1135.3 L2609.8,1139.8 L2611.4,1144.2 L2611.4,1148.8 L2611,1153.4 L2610.5,1149.5 L2608.5,1146.1 L2609.6,1142 L2613.4,1140.1 L2616.5,1140.7 L2619.5,1141.7 L2622.5,1141.1 L2625.5,1140.1 L2626.1,1144.9 L2627.1,1149.6 L2630.6,1152.9 L2635.2,1154.6 L2638.7,1156.2 L2642.4,1157.2 L2646.5,1156.8 L2649.7,1159.5 L2652.5,1158.2 L2654.5,1155.9 L2658.8,1158.1 L2661.8,1161.9 L2661.1,1166 L2662.2,1170.1 L2657.7,1171.7 L2656.9,1176.4 L2655.7,1179.4 L2655.3,1182.5 L2653.6,1185.2 L2652.1,1188"/>
<path d="M2725.9,1083.2 L2724.1,1081 L2721.4,1079.9 L2718.1,1080.4 L2714.5,1082.6 L2711.4,1085.9 L2709.6,1091.3 L2733.2,1176.5 L2765.8,1171.1"/>
<path d="M2743.1,1208.1 L2762.2,1202.7"/>
<path d="M2748.7,699.7 L2749,702.6 L2748.6,705.4 L2748.7,708.4 L2747.4,711 L2749,713.7 L2748.8,716.8 L2750.5,719.4 L2753.2,720.9 L2754.7,724.5 L2755.6,728.4 L2756.2,732.3 L2757.7,736 L2759.1,738.5 L2759.7,741.3 L2761.3,743.5 L2762.8,745.9 L2762.1,748.7 L2762.8,751.5 L2762.5,754.3 L2762.3,757.1 L2761.5,761 L2762.8,764.7 L2763.7,768.4 L2763.8,772.2 L2763.6,775 L2764.2,777.6 L2765.2,780.2 L2765,783 L2766,785.6 L2766.8,788.2 L2767.5,790.8 L2768.3,793.4 L2771.4,794.8 L2772.9,797.9 L2776.1,801.1 L2777.4,805.5 L2788.6,854.4 L2789.5,903.6 L2792.5,906.9 L2793.9,911.2 L2793.6,915.6 L2792.8,920 L2799.3,959 L2803.9,962.6 L2794.8,973.5 L2798.4,978 L2803,974.4"/>
<path d="M2835.7,681 L2836.4,684.2 L2837.3,687.4 L2839,690.3 L2839.3,693.7 L2841,697.8 L2844.3,700.8 L2844.5,705.6 L2840.9,708.8 L2839.6,711.8 L2837.6,714.4 L2837.1,717.7 L2836.3,720.9 L2833.9,723 L2831.2,724.8 L2830,728 L2827.3,729.9 L2826,733 L2826.2,736.4 L2825.5,739.8 L2822.7,742 L2824.3,745.7 L2823.4,749.5 L2823.5,753.3 L2823.6,757.1 L2824.2,761.8 L2822.4,766.1 L2821.8,770.7 L2821.8,775.2 L2819.9,779.6 L2818.6,784.1 L2820.3,788.6 L2820.6,793.4 L2820.7,798 L2819.9,802.6 L2822,806.8 L2822.7,811.5 L2823.3,815.3 L2823.8,819 L2823.9,822.8 L2824.2,826.6 L2822.6,829.6 L2820.5,832.3 L2821.3,835.6 L2822.7,838.7 L2825.9,841.4 L2827.3,845.3"/>
<path d="M2788.6,854.4 L2889.2,834.2 L2890.1,831.8 L2891.2,829.5 L2892.7,827.4 L2893.7,825.1 L2896.6,823.1 L2899.1,820.6 L2901.4,818 L2904.3,816 L2908.8,816"/>
<path d="M2789.5,903.6 L2822.7,896.7 L2824.2,899.7 L2826.6,896.1 L2875.6,886.4 L2895.2,881.6 L2901.3,897.6 L2905.8,902.1"/>
<path d="M2875.6,886.4 L2885.3,933.9"/>
<path d="M2852.9,655.9 L2890.7,781.3 L2893,782.9 L2894.3,785.3 L2897,785.5 L2899.4,786.7 L2900.2,789.3 L2900,791.9 L2901,794.4 L2902.8,796.4 L2906.1,798.3 L2908.8,800.9"/>
<path d="M363.1,487.9 L366.2,486.2 L369.6,485.5 L370.8,482.2 L371.5,478.8 L373.3,475.2 L374.6,471.4 L378.4,470 L382,468.3 L384,466.3 L386.4,465 L389.6,465 L391.1,462.2 L394,460.5 L397.1,459.2"/>
</g>
<g font-family="'Liberation Sans', Arial, sans-serif"><linearGradient id="lg" x1="0" y1="0" x2="0" y2="1"><stop offset="0" stop-color="#6f98a8"/><stop offset="0.1" stop-color="#6f9fa0"/><stop offset="0.2" stop-color="#72a596"/><stop offset="0.25" stop-color="#76a78c"/><stop offset="0.3" stop-color="#82aa88"/><stop offset="0.35" stop-color="#a4bd96"/><stop offset="0.4" stop-color="#b8c49a"/><stop offset="0.45" stop-color="#d0d0a0"/><stop offset="0.5" stop-color="#e2d6a2"/><stop offset="0.55" stop-color="#e0c898"/><stop offset="0.6" stop-color="#d4b284"/><stop offset="0.65" stop-color="#cc9c70"/><stop offset="0.7" stop-color="#c48a64"/><stop offset="0.75" stop-color="#c07858"/><stop offset="0.8" stop-color="#b85e48"/><stop offset="0.85" stop-color="#a8403c"/><stop offset="0.9" stop-color="#9c3a44"/><stop offset="0.95" stop-color="#8e3246"/><stop offset="1" stop-color="#852d46"/></linearGradient><rect x="2868" y="1237" width="59" height="1020.5" fill="url(#lg)"/><rect x="2927" y="1234.0" width="31" height="6" fill="#444"/><text x="2974.5" y="1252.0" font-size="61" fill="#444" stroke="#444" stroke-width="1.2" stroke-linejoin="round">0.0</text><rect x="2927" y="1335.7" width="31" height="6" fill="#444"/><text x="2974.5" y="1353.7" font-size="61" fill="#444" stroke="#444" stroke-width="1.2" stroke-linejoin="round">0.1</text><rect x="2927" y="1437.4" width="31" height="6" fill="#444"/><text x="2974.5" y="1455.4" font-size="61" fill="#444" stroke="#444" stroke-width="1.2" stroke-linejoin="round">0.2</text><rect x="2927" y="1539.1" width="31" height="6" fill="#444"/><text x="2974.5" y="1557.1" font-size="61" fill="#444" stroke="#444" stroke-width="1.2" stroke-linejoin="round">0.3</text><rect x="2927" y="1640.8" width="31" height="6" fill="#444"/><text x="2974.5" y="1658.8" font-size="61" fill="#444" stroke="#444" stroke-width="1.2" stroke-linejoin="round">0.4</text><rect x="2927" y="1742.5" width="31" height="6" fill="#444"/><text x="2974.5" y="1760.5" font-size="61" fill="#444" stroke="#444" stroke-width="1.2" stroke-linejoin="round">0.5</text><rect x="2927" y="1844.2" width="31" height="6" fill="#444"/><text x="2974.5" y="1862.2" font-size="61" fill="#444" stroke="#444" stroke-width="1.2" stroke-linejoin="round">0.6</text><rect x="2927" y="1945.9" width="31" height="6" fill="#444"/><text x="2974.5" y="1963.9" font-size="61" fill="#444" stroke="#444" stroke-width="1.2" stroke-linejoin="round">0.7</text><rect x="2927" y="2047.6" width="31" height="6" fill="#444"/><text x="2974.5" y="2065.6" font-size="61" fill="#444" stroke="#444" stroke-width="1.2" stroke-linejoin="round">0.8</text><rect x="2927" y="2149.3" width="31" height="6" fill="#444"/><text x="2974.5" y="2167.3" font-size="61" fill="#444" stroke="#444" stroke-width="1.2" stroke-linejoin="round">0.9</text><rect x="2927" y="2251.0" width="31" height="6" fill="#444"/><text x="2974.5" y="2269.0" font-size="61" fill="#444" stroke="#444" stroke-width="1.2" stroke-linejoin="round">&gt;1.0</text><text x="2851" y="1073" font-size="83" textLength="272" lengthAdjust="spacingAndGlyphs" fill="#000">Wet BC</text><text x="2850" y="1173" font-size="81" fill="#000">(keq/ha)</text></g>
<g font-family="'Liberation Mono', 'Courier New', monospace" fill="#000" stroke="#fff"><text transform="translate(3106 2360) scale(1.1024 1)" font-size="63.5" stroke-width="1.5" text-anchor="end">Wet base cation deposition 2003</text><text transform="translate(151 2451) scale(1.0989 1)" font-size="54.6" stroke-width="1">Source: v2025_dev, data: CASTNET/CMAQ/NADP</text><text transform="translate(3152 2451) scale(1.0989 1)" font-size="54.6" stroke-width="1" text-anchor="end">USEPA 11/07/25</text></g>
<rect x="75" y="75" width="3150" height="2400" fill="none" stroke="#000" stroke-width="4"/>
</svg>
</body></html>
